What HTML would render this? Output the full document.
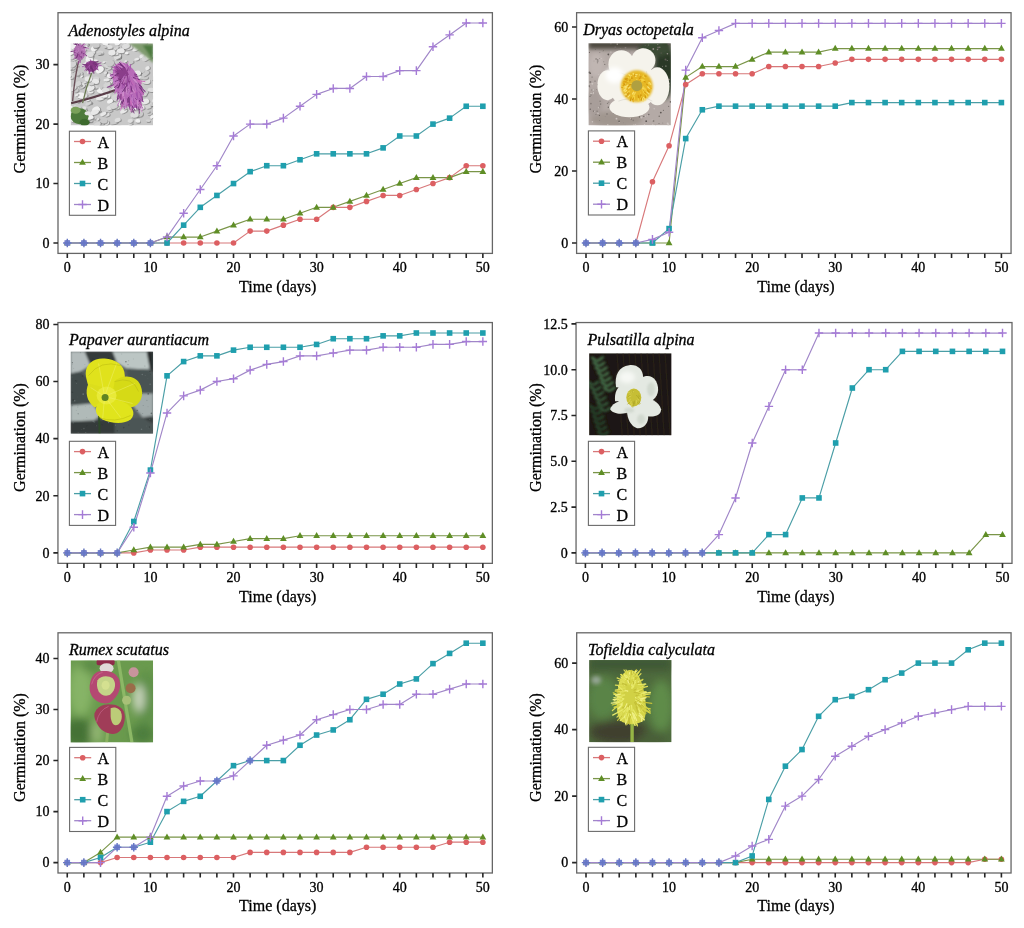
<!DOCTYPE html>
<html><head><meta charset="utf-8"><style>
html,body{margin:0;padding:0;background:#fff;}
body{width:1024px;height:928px;overflow:hidden;font-family:"Liberation Serif",serif;}
svg{display:block;will-change:transform;}
text{stroke:#000;stroke-width:0.3px;}
</style></head><body>
<svg width="1024" height="928" viewBox="0 0 1024 928">
<defs>
<filter id="b1" x="-20%" y="-20%" width="140%" height="140%"><feGaussianBlur stdDeviation="1"/></filter>
<filter id="b2" x="-30%" y="-30%" width="160%" height="160%"><feGaussianBlur stdDeviation="2"/></filter>
<filter id="b4" x="-50%" y="-50%" width="200%" height="200%"><feGaussianBlur stdDeviation="4"/></filter>
<filter id="b05"><feGaussianBlur stdDeviation="0.5"/></filter>
<filter id="soft" x="-5%" y="-5%" width="110%" height="110%"><feGaussianBlur stdDeviation="0.45"/></filter>
<clipPath id="ph"><rect x="0" y="0" width="82.5" height="82.2"/></clipPath>
</defs>
<rect width="1024" height="928" fill="#fff"/>
<g><rect x="58" y="12.7" width="434.4" height="240.7" fill="none" stroke="#666" stroke-width="1.3"/><path d="M67.3 253.4v4.6M83.92 253.4v4.6M100.54 253.4v4.6M117.17 253.4v4.6M133.79 253.4v4.6M150.41 253.4v4.6M167.03 253.4v4.6M183.65 253.4v4.6M200.28 253.4v4.6M216.9 253.4v4.6M233.52 253.4v4.6M250.14 253.4v4.6M266.76 253.4v4.6M283.39 253.4v4.6M300.01 253.4v4.6M316.63 253.4v4.6M333.25 253.4v4.6M349.87 253.4v4.6M366.5 253.4v4.6M383.12 253.4v4.6M399.74 253.4v4.6M416.36 253.4v4.6M432.98 253.4v4.6M449.61 253.4v4.6M466.23 253.4v4.6M482.85 253.4v4.6" stroke="#262626" stroke-width="1.6" fill="none"/><path d="M58 243h-4.6M58 183.55h-4.6M58 124.1h-4.6M58 64.65h-4.6" stroke="#262626" stroke-width="1.6" fill="none"/><g font-family="Liberation Serif" font-size="14" fill="#000"><text x="67.3" y="272.2" text-anchor="middle">0</text><text x="150.41" y="272.2" text-anchor="middle">10</text><text x="233.52" y="272.2" text-anchor="middle">20</text><text x="316.63" y="272.2" text-anchor="middle">30</text><text x="399.74" y="272.2" text-anchor="middle">40</text><text x="482.85" y="272.2" text-anchor="middle">50</text><text x="49.6" y="247.8" text-anchor="end">0</text><text x="49.6" y="188.35" text-anchor="end">10</text><text x="49.6" y="128.9" text-anchor="end">20</text><text x="49.6" y="69.45" text-anchor="end">30</text></g><text x="239.1" y="291.6" font-family="Liberation Serif" font-size="16" fill="#000">Time (days)</text><text transform="translate(25.3 119) rotate(-90)" text-anchor="middle" font-family="Liberation Serif" font-size="16" fill="#000">Germination (%)</text><text x="68.5" y="35.6" font-family="Liberation Serif" font-style="italic" font-size="16" fill="#000">Adenostyles alpina</text><g transform="translate(70.6 43.2)"><g clip-path="url(#ph)"><g filter="url(#soft)"><rect width="82.5" height="82.2" fill="#c8c8c8"/><g filter="url(#b05)"><ellipse cx="37.8" cy="47.4" rx="4.3" ry="2.6" transform="rotate(-14.6 37 46.4)" fill="#6a6a6a" opacity="0.55"/><ellipse cx="37" cy="46.4" rx="4.3" ry="2.6" transform="rotate(-14.6 37 46.4)" fill="#cacaca"/><ellipse cx="14.6" cy="68.9" rx="2.9" ry="1.9" transform="rotate(-30.7 13.8 67.9)" fill="#6a6a6a" opacity="0.55"/><ellipse cx="13.8" cy="67.9" rx="2.9" ry="1.9" transform="rotate(-30.7 13.8 67.9)" fill="#f0f0f0"/><ellipse cx="24.7" cy="6" rx="3.9" ry="2.7" transform="rotate(-37.9 23.9 5)" fill="#6a6a6a" opacity="0.55"/><ellipse cx="23.9" cy="5" rx="3.9" ry="2.7" transform="rotate(-37.9 23.9 5)" fill="#f0f0f0"/><ellipse cx="83.2" cy="55.7" rx="3.3" ry="1.7" transform="rotate(-39.2 82.4 54.7)" fill="#6a6a6a" opacity="0.55"/><ellipse cx="82.4" cy="54.7" rx="3.3" ry="1.7" transform="rotate(-39.2 82.4 54.7)" fill="#cacaca"/><ellipse cx="3.4" cy="1.1" rx="4.1" ry="2.7" transform="rotate(-1.1 2.6 0.1)" fill="#6a6a6a" opacity="0.55"/><ellipse cx="2.6" cy="0.1" rx="4.1" ry="2.7" transform="rotate(-1.1 2.6 0.1)" fill="#d4d4d4"/><ellipse cx="36.8" cy="72.3" rx="3.1" ry="2.1" transform="rotate(-15 36 71.3)" fill="#6a6a6a" opacity="0.55"/><ellipse cx="36" cy="71.3" rx="3.1" ry="2.1" transform="rotate(-15 36 71.3)" fill="#dedede"/><ellipse cx="38.3" cy="22.5" rx="4.5" ry="3.6" transform="rotate(2 37.5 21.5)" fill="#6a6a6a" opacity="0.55"/><ellipse cx="37.5" cy="21.5" rx="4.5" ry="3.6" transform="rotate(2 37.5 21.5)" fill="#d4d4d4"/><ellipse cx="25.7" cy="18.3" rx="2.4" ry="1.1" transform="rotate(-1.7 24.9 17.3)" fill="#6a6a6a" opacity="0.55"/><ellipse cx="24.9" cy="17.3" rx="2.4" ry="1.1" transform="rotate(-1.7 24.9 17.3)" fill="#f0f0f0"/><ellipse cx="7.3" cy="23.7" rx="1.7" ry="0.8" transform="rotate(-5.8 6.5 22.7)" fill="#6a6a6a" opacity="0.55"/><ellipse cx="6.5" cy="22.7" rx="1.7" ry="0.8" transform="rotate(-5.8 6.5 22.7)" fill="#e8e8e8"/><ellipse cx="16.4" cy="78.3" rx="2.9" ry="2.3" transform="rotate(-20.1 15.6 77.3)" fill="#6a6a6a" opacity="0.55"/><ellipse cx="15.6" cy="77.3" rx="2.9" ry="2.3" transform="rotate(-20.1 15.6 77.3)" fill="#dedede"/><ellipse cx="47.9" cy="15.5" rx="3.5" ry="2" transform="rotate(-24.4 47.1 14.5)" fill="#6a6a6a" opacity="0.55"/><ellipse cx="47.1" cy="14.5" rx="3.5" ry="2" transform="rotate(-24.4 47.1 14.5)" fill="#dedede"/><ellipse cx="83.1" cy="64.9" rx="1.9" ry="1" transform="rotate(-34.9 82.3 63.9)" fill="#6a6a6a" opacity="0.55"/><ellipse cx="82.3" cy="63.9" rx="1.9" ry="1" transform="rotate(-34.9 82.3 63.9)" fill="#dedede"/><ellipse cx="38.9" cy="40.9" rx="3.5" ry="1.8" transform="rotate(-14.6 38.1 39.9)" fill="#6a6a6a" opacity="0.55"/><ellipse cx="38.1" cy="39.9" rx="3.5" ry="1.8" transform="rotate(-14.6 38.1 39.9)" fill="#e8e8e8"/><ellipse cx="34.9" cy="31.8" rx="2.7" ry="2.1" transform="rotate(-40 34.1 30.8)" fill="#6a6a6a" opacity="0.55"/><ellipse cx="34.1" cy="30.8" rx="2.7" ry="2.1" transform="rotate(-40 34.1 30.8)" fill="#cacaca"/><ellipse cx="24.7" cy="76" rx="2.1" ry="1.3" transform="rotate(2.7 23.9 75)" fill="#6a6a6a" opacity="0.55"/><ellipse cx="23.9" cy="75" rx="2.1" ry="1.3" transform="rotate(2.7 23.9 75)" fill="#cacaca"/><ellipse cx="6.7" cy="85.3" rx="2.1" ry="1.2" transform="rotate(-1.4 5.9 84.3)" fill="#6a6a6a" opacity="0.55"/><ellipse cx="5.9" cy="84.3" rx="2.1" ry="1.2" transform="rotate(-1.4 5.9 84.3)" fill="#d4d4d4"/><ellipse cx="71.3" cy="32.1" rx="1.7" ry="0.9" transform="rotate(-8.2 70.5 31.1)" fill="#6a6a6a" opacity="0.55"/><ellipse cx="70.5" cy="31.1" rx="1.7" ry="0.9" transform="rotate(-8.2 70.5 31.1)" fill="#dedede"/><ellipse cx="51" cy="30.8" rx="2.9" ry="2.2" transform="rotate(-15.8 50.2 29.8)" fill="#6a6a6a" opacity="0.55"/><ellipse cx="50.2" cy="29.8" rx="2.9" ry="2.2" transform="rotate(-15.8 50.2 29.8)" fill="#cacaca"/><ellipse cx="9.8" cy="32.1" rx="3.4" ry="1.9" transform="rotate(-28.6 9 31.1)" fill="#6a6a6a" opacity="0.55"/><ellipse cx="9" cy="31.1" rx="3.4" ry="1.9" transform="rotate(-28.6 9 31.1)" fill="#cacaca"/><ellipse cx="19.9" cy="14.7" rx="3.7" ry="2.9" transform="rotate(-30.2 19.1 13.7)" fill="#6a6a6a" opacity="0.55"/><ellipse cx="19.1" cy="13.7" rx="3.7" ry="2.9" transform="rotate(-30.2 19.1 13.7)" fill="#f0f0f0"/><ellipse cx="75.9" cy="51.2" rx="2.8" ry="1.3" transform="rotate(-38.1 75.1 50.2)" fill="#6a6a6a" opacity="0.55"/><ellipse cx="75.1" cy="50.2" rx="2.8" ry="1.3" transform="rotate(-38.1 75.1 50.2)" fill="#d4d4d4"/><ellipse cx="18.9" cy="60.1" rx="2.3" ry="1.7" transform="rotate(-10.2 18.1 59.1)" fill="#6a6a6a" opacity="0.55"/><ellipse cx="18.1" cy="59.1" rx="2.3" ry="1.7" transform="rotate(-10.2 18.1 59.1)" fill="#d4d4d4"/><ellipse cx="43.8" cy="80" rx="4.4" ry="2.2" transform="rotate(-16 43 79)" fill="#6a6a6a" opacity="0.55"/><ellipse cx="43" cy="79" rx="4.4" ry="2.2" transform="rotate(-16 43 79)" fill="#cacaca"/><ellipse cx="52.2" cy="22.7" rx="4.3" ry="2.2" transform="rotate(-39.2 51.4 21.7)" fill="#6a6a6a" opacity="0.55"/><ellipse cx="51.4" cy="21.7" rx="4.3" ry="2.2" transform="rotate(-39.2 51.4 21.7)" fill="#d4d4d4"/><ellipse cx="34.2" cy="20" rx="1.6" ry="0.9" transform="rotate(-13.4 33.4 19)" fill="#6a6a6a" opacity="0.55"/><ellipse cx="33.4" cy="19" rx="1.6" ry="0.9" transform="rotate(-13.4 33.4 19)" fill="#e8e8e8"/><ellipse cx="6" cy="10.2" rx="2.9" ry="1.6" transform="rotate(-3.4 5.2 9.2)" fill="#6a6a6a" opacity="0.55"/><ellipse cx="5.2" cy="9.2" rx="2.9" ry="1.6" transform="rotate(-3.4 5.2 9.2)" fill="#cacaca"/><ellipse cx="49.5" cy="10.4" rx="1.6" ry="0.7" transform="rotate(5.5 48.7 9.4)" fill="#6a6a6a" opacity="0.55"/><ellipse cx="48.7" cy="9.4" rx="1.6" ry="0.7" transform="rotate(5.5 48.7 9.4)" fill="#d4d4d4"/><ellipse cx="83" cy="-0.1" rx="3.4" ry="2.1" transform="rotate(-3.5 82.2 -1.1)" fill="#6a6a6a" opacity="0.55"/><ellipse cx="82.2" cy="-1.1" rx="3.4" ry="2.1" transform="rotate(-3.5 82.2 -1.1)" fill="#d4d4d4"/><ellipse cx="9.9" cy="4.4" rx="2.9" ry="1.7" transform="rotate(-37.8 9.1 3.4)" fill="#6a6a6a" opacity="0.55"/><ellipse cx="9.1" cy="3.4" rx="2.9" ry="1.7" transform="rotate(-37.8 9.1 3.4)" fill="#e8e8e8"/><ellipse cx="68" cy="78.7" rx="2.6" ry="1.8" transform="rotate(5 67.2 77.7)" fill="#6a6a6a" opacity="0.55"/><ellipse cx="67.2" cy="77.7" rx="2.6" ry="1.8" transform="rotate(5 67.2 77.7)" fill="#f0f0f0"/><ellipse cx="81.4" cy="0.7" rx="3" ry="1.4" transform="rotate(-6.9 80.6 -0.3)" fill="#6a6a6a" opacity="0.55"/><ellipse cx="80.6" cy="-0.3" rx="3" ry="1.4" transform="rotate(-6.9 80.6 -0.3)" fill="#f0f0f0"/><ellipse cx="49.4" cy="51.7" rx="1.7" ry="1.2" transform="rotate(9.7 48.6 50.7)" fill="#6a6a6a" opacity="0.55"/><ellipse cx="48.6" cy="50.7" rx="1.7" ry="1.2" transform="rotate(9.7 48.6 50.7)" fill="#f0f0f0"/><ellipse cx="62.2" cy="32.3" rx="3.7" ry="2.4" transform="rotate(-18 61.4 31.3)" fill="#6a6a6a" opacity="0.55"/><ellipse cx="61.4" cy="31.3" rx="3.7" ry="2.4" transform="rotate(-18 61.4 31.3)" fill="#cacaca"/><ellipse cx="5.2" cy="64.2" rx="1.6" ry="1" transform="rotate(-16 4.4 63.2)" fill="#6a6a6a" opacity="0.55"/><ellipse cx="4.4" cy="63.2" rx="1.6" ry="1" transform="rotate(-16 4.4 63.2)" fill="#e8e8e8"/><ellipse cx="82.5" cy="8" rx="3.8" ry="2.6" transform="rotate(-15.7 81.7 7)" fill="#6a6a6a" opacity="0.55"/><ellipse cx="81.7" cy="7" rx="3.8" ry="2.6" transform="rotate(-15.7 81.7 7)" fill="#dedede"/><ellipse cx="30.4" cy="10.6" rx="3.3" ry="2.1" transform="rotate(-2.3 29.6 9.6)" fill="#6a6a6a" opacity="0.55"/><ellipse cx="29.6" cy="9.6" rx="3.3" ry="2.1" transform="rotate(-2.3 29.6 9.6)" fill="#d4d4d4"/><ellipse cx="56.2" cy="37" rx="4.2" ry="2.4" transform="rotate(-6.7 55.4 36)" fill="#6a6a6a" opacity="0.55"/><ellipse cx="55.4" cy="36" rx="4.2" ry="2.4" transform="rotate(-6.7 55.4 36)" fill="#e8e8e8"/><ellipse cx="53.9" cy="68.9" rx="3.8" ry="2" transform="rotate(-29.3 53.1 67.9)" fill="#6a6a6a" opacity="0.55"/><ellipse cx="53.1" cy="67.9" rx="3.8" ry="2" transform="rotate(-29.3 53.1 67.9)" fill="#e8e8e8"/><ellipse cx="49.4" cy="25.9" rx="1.9" ry="1.2" transform="rotate(1.9 48.6 24.9)" fill="#6a6a6a" opacity="0.55"/><ellipse cx="48.6" cy="24.9" rx="1.9" ry="1.2" transform="rotate(1.9 48.6 24.9)" fill="#dedede"/><ellipse cx="60.7" cy="81.8" rx="2.3" ry="1.2" transform="rotate(-17.5 59.9 80.8)" fill="#6a6a6a" opacity="0.55"/><ellipse cx="59.9" cy="80.8" rx="2.3" ry="1.2" transform="rotate(-17.5 59.9 80.8)" fill="#d4d4d4"/><ellipse cx="79.7" cy="71.3" rx="2.6" ry="1.7" transform="rotate(-6.4 78.9 70.3)" fill="#6a6a6a" opacity="0.55"/><ellipse cx="78.9" cy="70.3" rx="2.6" ry="1.7" transform="rotate(-6.4 78.9 70.3)" fill="#cacaca"/><ellipse cx="37.8" cy="4.6" rx="1.6" ry="1.2" transform="rotate(-37.9 37 3.6)" fill="#6a6a6a" opacity="0.55"/><ellipse cx="37" cy="3.6" rx="1.6" ry="1.2" transform="rotate(-37.9 37 3.6)" fill="#d4d4d4"/><ellipse cx="48.3" cy="25.3" rx="3.9" ry="1.8" transform="rotate(-33.2 47.5 24.3)" fill="#6a6a6a" opacity="0.55"/><ellipse cx="47.5" cy="24.3" rx="3.9" ry="1.8" transform="rotate(-33.2 47.5 24.3)" fill="#f0f0f0"/><ellipse cx="14.6" cy="65.8" rx="2.3" ry="1.7" transform="rotate(-0.2 13.8 64.8)" fill="#6a6a6a" opacity="0.55"/><ellipse cx="13.8" cy="64.8" rx="2.3" ry="1.7" transform="rotate(-0.2 13.8 64.8)" fill="#dedede"/><ellipse cx="37.3" cy="53.6" rx="3.5" ry="2.5" transform="rotate(7.9 36.5 52.6)" fill="#6a6a6a" opacity="0.55"/><ellipse cx="36.5" cy="52.6" rx="3.5" ry="2.5" transform="rotate(7.9 36.5 52.6)" fill="#e8e8e8"/><ellipse cx="15.4" cy="39.9" rx="2" ry="0.9" transform="rotate(-16.4 14.6 38.9)" fill="#6a6a6a" opacity="0.55"/><ellipse cx="14.6" cy="38.9" rx="2" ry="0.9" transform="rotate(-16.4 14.6 38.9)" fill="#dedede"/><ellipse cx="13.7" cy="22" rx="2.5" ry="1.8" transform="rotate(-14 12.9 21)" fill="#6a6a6a" opacity="0.55"/><ellipse cx="12.9" cy="21" rx="2.5" ry="1.8" transform="rotate(-14 12.9 21)" fill="#cacaca"/><ellipse cx="86" cy="12" rx="4" ry="2.8" transform="rotate(-28.8 85.2 11)" fill="#6a6a6a" opacity="0.55"/><ellipse cx="85.2" cy="11" rx="4" ry="2.8" transform="rotate(-28.8 85.2 11)" fill="#f0f0f0"/><ellipse cx="80.3" cy="61.7" rx="1.9" ry="1.2" transform="rotate(-8.7 79.5 60.7)" fill="#6a6a6a" opacity="0.55"/><ellipse cx="79.5" cy="60.7" rx="1.9" ry="1.2" transform="rotate(-8.7 79.5 60.7)" fill="#dedede"/><ellipse cx="31.1" cy="48.2" rx="4.1" ry="3" transform="rotate(7.2 30.3 47.2)" fill="#6a6a6a" opacity="0.55"/><ellipse cx="30.3" cy="47.2" rx="4.1" ry="3" transform="rotate(7.2 30.3 47.2)" fill="#f0f0f0"/><ellipse cx="26.7" cy="84.6" rx="1.8" ry="1.4" transform="rotate(-0.1 25.9 83.6)" fill="#6a6a6a" opacity="0.55"/><ellipse cx="25.9" cy="83.6" rx="1.8" ry="1.4" transform="rotate(-0.1 25.9 83.6)" fill="#dedede"/><ellipse cx="16.7" cy="77.4" rx="4.4" ry="3.5" transform="rotate(-13.2 15.9 76.4)" fill="#6a6a6a" opacity="0.55"/><ellipse cx="15.9" cy="76.4" rx="4.4" ry="3.5" transform="rotate(-13.2 15.9 76.4)" fill="#d4d4d4"/><ellipse cx="21" cy="61.4" rx="1.5" ry="1" transform="rotate(-38.1 20.2 60.4)" fill="#6a6a6a" opacity="0.55"/><ellipse cx="20.2" cy="60.4" rx="1.5" ry="1" transform="rotate(-38.1 20.2 60.4)" fill="#d4d4d4"/><ellipse cx="46.5" cy="65.8" rx="3" ry="1.4" transform="rotate(0.5 45.7 64.8)" fill="#6a6a6a" opacity="0.55"/><ellipse cx="45.7" cy="64.8" rx="3" ry="1.4" transform="rotate(0.5 45.7 64.8)" fill="#dedede"/><ellipse cx="35.8" cy="1.1" rx="3.1" ry="2.1" transform="rotate(5.8 35 0.1)" fill="#6a6a6a" opacity="0.55"/><ellipse cx="35" cy="0.1" rx="3.1" ry="2.1" transform="rotate(5.8 35 0.1)" fill="#f0f0f0"/><ellipse cx="11" cy="43.6" rx="3.7" ry="2.7" transform="rotate(-5.5 10.2 42.6)" fill="#6a6a6a" opacity="0.55"/><ellipse cx="10.2" cy="42.6" rx="3.7" ry="2.7" transform="rotate(-5.5 10.2 42.6)" fill="#f0f0f0"/><ellipse cx="49" cy="58.8" rx="3.8" ry="2.3" transform="rotate(-12.1 48.2 57.8)" fill="#6a6a6a" opacity="0.55"/><ellipse cx="48.2" cy="57.8" rx="3.8" ry="2.3" transform="rotate(-12.1 48.2 57.8)" fill="#cacaca"/><ellipse cx="54.3" cy="44.1" rx="4" ry="2.6" transform="rotate(-24.4 53.5 43.1)" fill="#6a6a6a" opacity="0.55"/><ellipse cx="53.5" cy="43.1" rx="4" ry="2.6" transform="rotate(-24.4 53.5 43.1)" fill="#f0f0f0"/><ellipse cx="82.3" cy="74.7" rx="3.3" ry="1.9" transform="rotate(-32.9 81.5 73.7)" fill="#6a6a6a" opacity="0.55"/><ellipse cx="81.5" cy="73.7" rx="3.3" ry="1.9" transform="rotate(-32.9 81.5 73.7)" fill="#cacaca"/><ellipse cx="44.2" cy="48.5" rx="2.1" ry="1.3" transform="rotate(-14.8 43.4 47.5)" fill="#6a6a6a" opacity="0.55"/><ellipse cx="43.4" cy="47.5" rx="2.1" ry="1.3" transform="rotate(-14.8 43.4 47.5)" fill="#cacaca"/><ellipse cx="31.2" cy="45.5" rx="1.6" ry="1.3" transform="rotate(-12.8 30.4 44.5)" fill="#6a6a6a" opacity="0.55"/><ellipse cx="30.4" cy="44.5" rx="1.6" ry="1.3" transform="rotate(-12.8 30.4 44.5)" fill="#cacaca"/><ellipse cx="8.6" cy="6.2" rx="2" ry="1.6" transform="rotate(-17.1 7.8 5.2)" fill="#6a6a6a" opacity="0.55"/><ellipse cx="7.8" cy="5.2" rx="2" ry="1.6" transform="rotate(-17.1 7.8 5.2)" fill="#f0f0f0"/><ellipse cx="21.6" cy="39.7" rx="1.9" ry="1.1" transform="rotate(0.8 20.8 38.7)" fill="#6a6a6a" opacity="0.55"/><ellipse cx="20.8" cy="38.7" rx="1.9" ry="1.1" transform="rotate(0.8 20.8 38.7)" fill="#f0f0f0"/><ellipse cx="44.3" cy="7.6" rx="2.8" ry="1.3" transform="rotate(-27 43.5 6.6)" fill="#6a6a6a" opacity="0.55"/><ellipse cx="43.5" cy="6.6" rx="2.8" ry="1.3" transform="rotate(-27 43.5 6.6)" fill="#dedede"/><ellipse cx="1" cy="11.7" rx="1.5" ry="0.8" transform="rotate(-3.8 0.2 10.7)" fill="#6a6a6a" opacity="0.55"/><ellipse cx="0.2" cy="10.7" rx="1.5" ry="0.8" transform="rotate(-3.8 0.2 10.7)" fill="#e8e8e8"/><ellipse cx="52.6" cy="7.3" rx="3.7" ry="1.8" transform="rotate(-14.5 51.8 6.3)" fill="#6a6a6a" opacity="0.55"/><ellipse cx="51.8" cy="6.3" rx="3.7" ry="1.8" transform="rotate(-14.5 51.8 6.3)" fill="#d4d4d4"/><ellipse cx="61.3" cy="59.9" rx="4.1" ry="1.9" transform="rotate(-8.3 60.5 58.9)" fill="#6a6a6a" opacity="0.55"/><ellipse cx="60.5" cy="58.9" rx="4.1" ry="1.9" transform="rotate(-8.3 60.5 58.9)" fill="#cacaca"/><ellipse cx="52.3" cy="45.5" rx="4.1" ry="2.6" transform="rotate(-29.1 51.5 44.5)" fill="#6a6a6a" opacity="0.55"/><ellipse cx="51.5" cy="44.5" rx="4.1" ry="2.6" transform="rotate(-29.1 51.5 44.5)" fill="#e8e8e8"/><ellipse cx="73.1" cy="52" rx="4.1" ry="2.2" transform="rotate(-3 72.3 51)" fill="#6a6a6a" opacity="0.55"/><ellipse cx="72.3" cy="51" rx="4.1" ry="2.2" transform="rotate(-3 72.3 51)" fill="#d4d4d4"/><ellipse cx="77.7" cy="25.9" rx="2.4" ry="1.9" transform="rotate(-29.1 76.9 24.9)" fill="#6a6a6a" opacity="0.55"/><ellipse cx="76.9" cy="24.9" rx="2.4" ry="1.9" transform="rotate(-29.1 76.9 24.9)" fill="#e8e8e8"/><ellipse cx="76.3" cy="9.8" rx="2.2" ry="1.6" transform="rotate(-27 75.5 8.8)" fill="#6a6a6a" opacity="0.55"/><ellipse cx="75.5" cy="8.8" rx="2.2" ry="1.6" transform="rotate(-27 75.5 8.8)" fill="#dedede"/><ellipse cx="36.3" cy="81" rx="3.1" ry="2.2" transform="rotate(-30 35.5 80)" fill="#6a6a6a" opacity="0.55"/><ellipse cx="35.5" cy="80" rx="3.1" ry="2.2" transform="rotate(-30 35.5 80)" fill="#dedede"/><ellipse cx="6.3" cy="48.3" rx="2.6" ry="1.9" transform="rotate(-21.9 5.5 47.3)" fill="#6a6a6a" opacity="0.55"/><ellipse cx="5.5" cy="47.3" rx="2.6" ry="1.9" transform="rotate(-21.9 5.5 47.3)" fill="#cacaca"/><ellipse cx="54" cy="28.3" rx="4.5" ry="3.3" transform="rotate(0.1 53.2 27.3)" fill="#6a6a6a" opacity="0.55"/><ellipse cx="53.2" cy="27.3" rx="4.5" ry="3.3" transform="rotate(0.1 53.2 27.3)" fill="#f0f0f0"/><ellipse cx="7.2" cy="1.3" rx="3.2" ry="2" transform="rotate(-11.6 6.4 0.3)" fill="#6a6a6a" opacity="0.55"/><ellipse cx="6.4" cy="0.3" rx="3.2" ry="2" transform="rotate(-11.6 6.4 0.3)" fill="#e8e8e8"/><ellipse cx="14.6" cy="8.1" rx="2" ry="1" transform="rotate(-25.8 13.8 7.1)" fill="#6a6a6a" opacity="0.55"/><ellipse cx="13.8" cy="7.1" rx="2" ry="1" transform="rotate(-25.8 13.8 7.1)" fill="#dedede"/><ellipse cx="49.1" cy="9.9" rx="3.5" ry="1.7" transform="rotate(-35.2 48.3 8.9)" fill="#6a6a6a" opacity="0.55"/><ellipse cx="48.3" cy="8.9" rx="3.5" ry="1.7" transform="rotate(-35.2 48.3 8.9)" fill="#f0f0f0"/><ellipse cx="39.1" cy="43.4" rx="2.8" ry="1.8" transform="rotate(-39.3 38.3 42.4)" fill="#6a6a6a" opacity="0.55"/><ellipse cx="38.3" cy="42.4" rx="2.8" ry="1.8" transform="rotate(-39.3 38.3 42.4)" fill="#dedede"/><ellipse cx="72.5" cy="14" rx="2.9" ry="2" transform="rotate(-19.7 71.7 13)" fill="#6a6a6a" opacity="0.55"/><ellipse cx="71.7" cy="13" rx="2.9" ry="2" transform="rotate(-19.7 71.7 13)" fill="#e8e8e8"/><ellipse cx="51.3" cy="6.4" rx="3.9" ry="2.2" transform="rotate(-35.8 50.5 5.4)" fill="#6a6a6a" opacity="0.55"/><ellipse cx="50.5" cy="5.4" rx="3.9" ry="2.2" transform="rotate(-35.8 50.5 5.4)" fill="#f0f0f0"/><ellipse cx="48.2" cy="14.8" rx="3.3" ry="1.9" transform="rotate(-1.9 47.4 13.8)" fill="#6a6a6a" opacity="0.55"/><ellipse cx="47.4" cy="13.8" rx="3.3" ry="1.9" transform="rotate(-1.9 47.4 13.8)" fill="#d4d4d4"/><ellipse cx="78.4" cy="63.7" rx="3.8" ry="2.8" transform="rotate(-19.7 77.6 62.7)" fill="#6a6a6a" opacity="0.55"/><ellipse cx="77.6" cy="62.7" rx="3.8" ry="2.8" transform="rotate(-19.7 77.6 62.7)" fill="#d4d4d4"/><ellipse cx="75.7" cy="59.3" rx="3.8" ry="2.7" transform="rotate(-19.7 74.9 58.3)" fill="#6a6a6a" opacity="0.55"/><ellipse cx="74.9" cy="58.3" rx="3.8" ry="2.7" transform="rotate(-19.7 74.9 58.3)" fill="#e8e8e8"/><ellipse cx="4" cy="28.1" rx="2.9" ry="1.3" transform="rotate(-22.2 3.2 27.1)" fill="#6a6a6a" opacity="0.55"/><ellipse cx="3.2" cy="27.1" rx="2.9" ry="1.3" transform="rotate(-22.2 3.2 27.1)" fill="#cacaca"/><ellipse cx="2.2" cy="22.1" rx="4.4" ry="2.4" transform="rotate(-29.2 1.4 21.1)" fill="#6a6a6a" opacity="0.55"/><ellipse cx="1.4" cy="21.1" rx="4.4" ry="2.4" transform="rotate(-29.2 1.4 21.1)" fill="#f0f0f0"/><ellipse cx="48.2" cy="45" rx="2.7" ry="2.1" transform="rotate(-7.9 47.4 44)" fill="#6a6a6a" opacity="0.55"/><ellipse cx="47.4" cy="44" rx="2.7" ry="2.1" transform="rotate(-7.9 47.4 44)" fill="#dedede"/><ellipse cx="65.2" cy="84.4" rx="1.6" ry="1" transform="rotate(-3.1 64.4 83.4)" fill="#6a6a6a" opacity="0.55"/><ellipse cx="64.4" cy="83.4" rx="1.6" ry="1" transform="rotate(-3.1 64.4 83.4)" fill="#d4d4d4"/><ellipse cx="37.1" cy="42.5" rx="3.8" ry="2.6" transform="rotate(-39.5 36.3 41.5)" fill="#6a6a6a" opacity="0.55"/><ellipse cx="36.3" cy="41.5" rx="3.8" ry="2.6" transform="rotate(-39.5 36.3 41.5)" fill="#d4d4d4"/><ellipse cx="20" cy="77.9" rx="3.2" ry="2" transform="rotate(8.4 19.2 76.9)" fill="#6a6a6a" opacity="0.55"/><ellipse cx="19.2" cy="76.9" rx="3.2" ry="2" transform="rotate(8.4 19.2 76.9)" fill="#cacaca"/><ellipse cx="72.7" cy="6.8" rx="2.8" ry="1.9" transform="rotate(-12.5 71.9 5.8)" fill="#6a6a6a" opacity="0.55"/><ellipse cx="71.9" cy="5.8" rx="2.8" ry="1.9" transform="rotate(-12.5 71.9 5.8)" fill="#dedede"/><ellipse cx="32" cy="80.8" rx="2.7" ry="2.1" transform="rotate(2.8 31.2 79.8)" fill="#6a6a6a" opacity="0.55"/><ellipse cx="31.2" cy="79.8" rx="2.7" ry="2.1" transform="rotate(2.8 31.2 79.8)" fill="#cacaca"/><ellipse cx="51.9" cy="3.2" rx="4.3" ry="2.6" transform="rotate(-13.7 51.1 2.2)" fill="#6a6a6a" opacity="0.55"/><ellipse cx="51.1" cy="2.2" rx="4.3" ry="2.6" transform="rotate(-13.7 51.1 2.2)" fill="#cacaca"/><ellipse cx="25.4" cy="44.8" rx="2.9" ry="1.6" transform="rotate(6.5 24.6 43.8)" fill="#6a6a6a" opacity="0.55"/><ellipse cx="24.6" cy="43.8" rx="2.9" ry="1.6" transform="rotate(6.5 24.6 43.8)" fill="#d4d4d4"/><ellipse cx="0.2" cy="66.1" rx="3.3" ry="2.2" transform="rotate(-19.6 -0.6 65.1)" fill="#6a6a6a" opacity="0.55"/><ellipse cx="-0.6" cy="65.1" rx="3.3" ry="2.2" transform="rotate(-19.6 -0.6 65.1)" fill="#f0f0f0"/><ellipse cx="2.5" cy="25.8" rx="2.7" ry="1.8" transform="rotate(-3.8 1.7 24.8)" fill="#6a6a6a" opacity="0.55"/><ellipse cx="1.7" cy="24.8" rx="2.7" ry="1.8" transform="rotate(-3.8 1.7 24.8)" fill="#d4d4d4"/><ellipse cx="4.3" cy="77.9" rx="2.8" ry="1.7" transform="rotate(8.7 3.5 76.9)" fill="#6a6a6a" opacity="0.55"/><ellipse cx="3.5" cy="76.9" rx="2.8" ry="1.7" transform="rotate(8.7 3.5 76.9)" fill="#e8e8e8"/><ellipse cx="1.8" cy="6.7" rx="3.9" ry="3" transform="rotate(-32.8 1 5.7)" fill="#6a6a6a" opacity="0.55"/><ellipse cx="1" cy="5.7" rx="3.9" ry="3" transform="rotate(-32.8 1 5.7)" fill="#e8e8e8"/><ellipse cx="51.2" cy="8.2" rx="3.4" ry="2.1" transform="rotate(-29.8 50.4 7.2)" fill="#6a6a6a" opacity="0.55"/><ellipse cx="50.4" cy="7.2" rx="3.4" ry="2.1" transform="rotate(-29.8 50.4 7.2)" fill="#dedede"/><ellipse cx="29.4" cy="11.6" rx="2.6" ry="1.3" transform="rotate(-19.2 28.6 10.6)" fill="#6a6a6a" opacity="0.55"/><ellipse cx="28.6" cy="10.6" rx="2.6" ry="1.3" transform="rotate(-19.2 28.6 10.6)" fill="#cacaca"/><ellipse cx="21" cy="49.4" rx="2.8" ry="2" transform="rotate(-13.5 20.2 48.4)" fill="#6a6a6a" opacity="0.55"/><ellipse cx="20.2" cy="48.4" rx="2.8" ry="2" transform="rotate(-13.5 20.2 48.4)" fill="#e8e8e8"/><ellipse cx="82.1" cy="62.8" rx="2.2" ry="1.1" transform="rotate(4.6 81.3 61.8)" fill="#6a6a6a" opacity="0.55"/><ellipse cx="81.3" cy="61.8" rx="2.2" ry="1.1" transform="rotate(4.6 81.3 61.8)" fill="#cacaca"/><ellipse cx="53.1" cy="29.7" rx="2.3" ry="1.6" transform="rotate(-11.8 52.3 28.7)" fill="#6a6a6a" opacity="0.55"/><ellipse cx="52.3" cy="28.7" rx="2.3" ry="1.6" transform="rotate(-11.8 52.3 28.7)" fill="#cacaca"/><ellipse cx="14.6" cy="22.6" rx="2.2" ry="1.7" transform="rotate(-14.9 13.8 21.6)" fill="#6a6a6a" opacity="0.55"/><ellipse cx="13.8" cy="21.6" rx="2.2" ry="1.7" transform="rotate(-14.9 13.8 21.6)" fill="#e8e8e8"/><ellipse cx="75.6" cy="1.5" rx="1.7" ry="0.9" transform="rotate(-18.7 74.8 0.5)" fill="#6a6a6a" opacity="0.55"/><ellipse cx="74.8" cy="0.5" rx="1.7" ry="0.9" transform="rotate(-18.7 74.8 0.5)" fill="#cacaca"/><ellipse cx="1.2" cy="17.6" rx="2.3" ry="1.7" transform="rotate(5.6 0.4 16.6)" fill="#6a6a6a" opacity="0.55"/><ellipse cx="0.4" cy="16.6" rx="2.3" ry="1.7" transform="rotate(5.6 0.4 16.6)" fill="#e8e8e8"/><ellipse cx="46.5" cy="53.7" rx="2.6" ry="1.6" transform="rotate(-29.5 45.7 52.7)" fill="#6a6a6a" opacity="0.55"/><ellipse cx="45.7" cy="52.7" rx="2.6" ry="1.6" transform="rotate(-29.5 45.7 52.7)" fill="#d4d4d4"/><ellipse cx="41.6" cy="9.8" rx="4.1" ry="3" transform="rotate(-17.6 40.8 8.8)" fill="#6a6a6a" opacity="0.55"/><ellipse cx="40.8" cy="8.8" rx="4.1" ry="3" transform="rotate(-17.6 40.8 8.8)" fill="#cacaca"/><ellipse cx="72" cy="65.8" rx="2.8" ry="2" transform="rotate(-20.5 71.2 64.8)" fill="#6a6a6a" opacity="0.55"/><ellipse cx="71.2" cy="64.8" rx="2.8" ry="2" transform="rotate(-20.5 71.2 64.8)" fill="#e8e8e8"/><ellipse cx="30.5" cy="55.7" rx="4.5" ry="2.5" transform="rotate(-12.6 29.7 54.7)" fill="#6a6a6a" opacity="0.55"/><ellipse cx="29.7" cy="54.7" rx="4.5" ry="2.5" transform="rotate(-12.6 29.7 54.7)" fill="#e8e8e8"/><ellipse cx="35.6" cy="30.6" rx="1.8" ry="1.4" transform="rotate(-36.1 34.8 29.6)" fill="#6a6a6a" opacity="0.55"/><ellipse cx="34.8" cy="29.6" rx="1.8" ry="1.4" transform="rotate(-36.1 34.8 29.6)" fill="#dedede"/><ellipse cx="36" cy="48.1" rx="3.9" ry="2.4" transform="rotate(1.2 35.2 47.1)" fill="#6a6a6a" opacity="0.55"/><ellipse cx="35.2" cy="47.1" rx="3.9" ry="2.4" transform="rotate(1.2 35.2 47.1)" fill="#dedede"/><ellipse cx="4.5" cy="16.8" rx="3.5" ry="1.7" transform="rotate(-24.8 3.7 15.8)" fill="#6a6a6a" opacity="0.55"/><ellipse cx="3.7" cy="15.8" rx="3.5" ry="1.7" transform="rotate(-24.8 3.7 15.8)" fill="#d4d4d4"/><ellipse cx="22.8" cy="10.6" rx="2.6" ry="1.8" transform="rotate(-21.7 22 9.6)" fill="#6a6a6a" opacity="0.55"/><ellipse cx="22" cy="9.6" rx="2.6" ry="1.8" transform="rotate(-21.7 22 9.6)" fill="#dedede"/><ellipse cx="26.3" cy="36.9" rx="3.3" ry="2.5" transform="rotate(-5.6 25.5 35.9)" fill="#6a6a6a" opacity="0.55"/><ellipse cx="25.5" cy="35.9" rx="3.3" ry="2.5" transform="rotate(-5.6 25.5 35.9)" fill="#d4d4d4"/><ellipse cx="36.6" cy="68.8" rx="2.4" ry="1.4" transform="rotate(-20 35.8 67.8)" fill="#6a6a6a" opacity="0.55"/><ellipse cx="35.8" cy="67.8" rx="2.4" ry="1.4" transform="rotate(-20 35.8 67.8)" fill="#cacaca"/><ellipse cx="19.8" cy="29.9" rx="2.6" ry="1.5" transform="rotate(-20.2 19 28.9)" fill="#6a6a6a" opacity="0.55"/><ellipse cx="19" cy="28.9" rx="2.6" ry="1.5" transform="rotate(-20.2 19 28.9)" fill="#f0f0f0"/><ellipse cx="68.3" cy="63.2" rx="2.6" ry="1.5" transform="rotate(-32.3 67.5 62.2)" fill="#6a6a6a" opacity="0.55"/><ellipse cx="67.5" cy="62.2" rx="2.6" ry="1.5" transform="rotate(-32.3 67.5 62.2)" fill="#cacaca"/><ellipse cx="47.6" cy="13.6" rx="3.8" ry="2.9" transform="rotate(-25.9 46.8 12.6)" fill="#6a6a6a" opacity="0.55"/><ellipse cx="46.8" cy="12.6" rx="3.8" ry="2.9" transform="rotate(-25.9 46.8 12.6)" fill="#dedede"/><ellipse cx="17.4" cy="3.1" rx="2" ry="1.1" transform="rotate(-38.9 16.6 2.1)" fill="#6a6a6a" opacity="0.55"/><ellipse cx="16.6" cy="2.1" rx="2" ry="1.1" transform="rotate(-38.9 16.6 2.1)" fill="#f0f0f0"/><ellipse cx="3.5" cy="46.2" rx="3.9" ry="1.9" transform="rotate(-35.9 2.7 45.2)" fill="#6a6a6a" opacity="0.55"/><ellipse cx="2.7" cy="45.2" rx="3.9" ry="1.9" transform="rotate(-35.9 2.7 45.2)" fill="#dedede"/><ellipse cx="77.4" cy="5.5" rx="3.4" ry="1.7" transform="rotate(-2.7 76.6 4.5)" fill="#6a6a6a" opacity="0.55"/><ellipse cx="76.6" cy="4.5" rx="3.4" ry="1.7" transform="rotate(-2.7 76.6 4.5)" fill="#f0f0f0"/><ellipse cx="19.5" cy="17.4" rx="3.8" ry="2.4" transform="rotate(-1.8 18.7 16.4)" fill="#6a6a6a" opacity="0.55"/><ellipse cx="18.7" cy="16.4" rx="3.8" ry="2.4" transform="rotate(-1.8 18.7 16.4)" fill="#f0f0f0"/><ellipse cx="28.8" cy="69.2" rx="2.5" ry="1.2" transform="rotate(-15.6 28 68.2)" fill="#6a6a6a" opacity="0.55"/><ellipse cx="28" cy="68.2" rx="2.5" ry="1.2" transform="rotate(-15.6 28 68.2)" fill="#dedede"/><ellipse cx="60.5" cy="78.7" rx="2.7" ry="2" transform="rotate(-6.7 59.7 77.7)" fill="#6a6a6a" opacity="0.55"/><ellipse cx="59.7" cy="77.7" rx="2.7" ry="2" transform="rotate(-6.7 59.7 77.7)" fill="#dedede"/><ellipse cx="69.1" cy="71.5" rx="4.2" ry="3.3" transform="rotate(-8 68.3 70.5)" fill="#6a6a6a" opacity="0.55"/><ellipse cx="68.3" cy="70.5" rx="4.2" ry="3.3" transform="rotate(-8 68.3 70.5)" fill="#cacaca"/><ellipse cx="29.8" cy="-1.1" rx="1.8" ry="1.4" transform="rotate(5.8 29 -2.1)" fill="#6a6a6a" opacity="0.55"/><ellipse cx="29" cy="-2.1" rx="1.8" ry="1.4" transform="rotate(5.8 29 -2.1)" fill="#e8e8e8"/><ellipse cx="63.4" cy="85.4" rx="2.6" ry="1.3" transform="rotate(-29.8 62.6 84.4)" fill="#6a6a6a" opacity="0.55"/><ellipse cx="62.6" cy="84.4" rx="2.6" ry="1.3" transform="rotate(-29.8 62.6 84.4)" fill="#f0f0f0"/><ellipse cx="44.6" cy="22.2" rx="4.2" ry="2.6" transform="rotate(-3.5 43.8 21.2)" fill="#6a6a6a" opacity="0.55"/><ellipse cx="43.8" cy="21.2" rx="4.2" ry="2.6" transform="rotate(-3.5 43.8 21.2)" fill="#d4d4d4"/><ellipse cx="55.1" cy="66.4" rx="2" ry="1" transform="rotate(-17.1 54.3 65.4)" fill="#6a6a6a" opacity="0.55"/><ellipse cx="54.3" cy="65.4" rx="2" ry="1" transform="rotate(-17.1 54.3 65.4)" fill="#cacaca"/><ellipse cx="40.4" cy="68.6" rx="2.4" ry="1.3" transform="rotate(-22 39.6 67.6)" fill="#6a6a6a" opacity="0.55"/><ellipse cx="39.6" cy="67.6" rx="2.4" ry="1.3" transform="rotate(-22 39.6 67.6)" fill="#cacaca"/><ellipse cx="18.6" cy="61.3" rx="3.3" ry="1.7" transform="rotate(-30.8 17.8 60.3)" fill="#6a6a6a" opacity="0.55"/><ellipse cx="17.8" cy="60.3" rx="3.3" ry="1.7" transform="rotate(-30.8 17.8 60.3)" fill="#d4d4d4"/><ellipse cx="33.4" cy="78.3" rx="4.3" ry="2.9" transform="rotate(7.1 32.6 77.3)" fill="#6a6a6a" opacity="0.55"/><ellipse cx="32.6" cy="77.3" rx="4.3" ry="2.9" transform="rotate(7.1 32.6 77.3)" fill="#cacaca"/><ellipse cx="40.2" cy="21" rx="4.2" ry="3.2" transform="rotate(-22.9 39.4 20)" fill="#6a6a6a" opacity="0.55"/><ellipse cx="39.4" cy="20" rx="4.2" ry="3.2" transform="rotate(-22.9 39.4 20)" fill="#cacaca"/><ellipse cx="66.1" cy="6.2" rx="4.1" ry="2.4" transform="rotate(-29.1 65.3 5.2)" fill="#6a6a6a" opacity="0.55"/><ellipse cx="65.3" cy="5.2" rx="4.1" ry="2.4" transform="rotate(-29.1 65.3 5.2)" fill="#e8e8e8"/><ellipse cx="68.7" cy="32" rx="3.1" ry="1.9" transform="rotate(-26.3 67.9 31)" fill="#6a6a6a" opacity="0.55"/><ellipse cx="67.9" cy="31" rx="3.1" ry="1.9" transform="rotate(-26.3 67.9 31)" fill="#dedede"/><ellipse cx="56" cy="19" rx="1.5" ry="0.9" transform="rotate(-21.4 55.2 18)" fill="#6a6a6a" opacity="0.55"/><ellipse cx="55.2" cy="18" rx="1.5" ry="0.9" transform="rotate(-21.4 55.2 18)" fill="#e8e8e8"/><ellipse cx="60.9" cy="51.5" rx="2" ry="1" transform="rotate(-23.9 60.1 50.5)" fill="#6a6a6a" opacity="0.55"/><ellipse cx="60.1" cy="50.5" rx="2" ry="1" transform="rotate(-23.9 60.1 50.5)" fill="#d4d4d4"/><ellipse cx="78.2" cy="69.4" rx="1.9" ry="1.3" transform="rotate(-9 77.4 68.4)" fill="#6a6a6a" opacity="0.55"/><ellipse cx="77.4" cy="68.4" rx="1.9" ry="1.3" transform="rotate(-9 77.4 68.4)" fill="#cacaca"/><ellipse cx="45.1" cy="11.3" rx="3.8" ry="1.7" transform="rotate(1.1 44.3 10.3)" fill="#6a6a6a" opacity="0.55"/><ellipse cx="44.3" cy="10.3" rx="3.8" ry="1.7" transform="rotate(1.1 44.3 10.3)" fill="#e8e8e8"/><ellipse cx="70.6" cy="5.3" rx="2.3" ry="1.6" transform="rotate(-35.1 69.8 4.3)" fill="#6a6a6a" opacity="0.55"/><ellipse cx="69.8" cy="4.3" rx="2.3" ry="1.6" transform="rotate(-35.1 69.8 4.3)" fill="#f0f0f0"/><ellipse cx="59.2" cy="5.3" rx="3.7" ry="2.4" transform="rotate(-14.7 58.4 4.3)" fill="#6a6a6a" opacity="0.55"/><ellipse cx="58.4" cy="4.3" rx="3.7" ry="2.4" transform="rotate(-14.7 58.4 4.3)" fill="#dedede"/><ellipse cx="67.7" cy="34.8" rx="4.3" ry="2" transform="rotate(1.3 66.9 33.8)" fill="#6a6a6a" opacity="0.55"/><ellipse cx="66.9" cy="33.8" rx="4.3" ry="2" transform="rotate(1.3 66.9 33.8)" fill="#e8e8e8"/><ellipse cx="1.1" cy="34.4" rx="3" ry="2.3" transform="rotate(8.2 0.3 33.4)" fill="#6a6a6a" opacity="0.55"/><ellipse cx="0.3" cy="33.4" rx="3" ry="2.3" transform="rotate(8.2 0.3 33.4)" fill="#d4d4d4"/><ellipse cx="25.3" cy="4.7" rx="2.4" ry="1.5" transform="rotate(-4.2 24.5 3.7)" fill="#6a6a6a" opacity="0.55"/><ellipse cx="24.5" cy="3.7" rx="2.4" ry="1.5" transform="rotate(-4.2 24.5 3.7)" fill="#d4d4d4"/><ellipse cx="4.4" cy="10.4" rx="3.5" ry="2.4" transform="rotate(-2.7 3.6 9.4)" fill="#6a6a6a" opacity="0.55"/><ellipse cx="3.6" cy="9.4" rx="3.5" ry="2.4" transform="rotate(-2.7 3.6 9.4)" fill="#dedede"/><ellipse cx="55.7" cy="-0.9" rx="2.6" ry="1.8" transform="rotate(-28.1 54.9 -1.9)" fill="#6a6a6a" opacity="0.55"/><ellipse cx="54.9" cy="-1.9" rx="2.6" ry="1.8" transform="rotate(-28.1 54.9 -1.9)" fill="#cacaca"/><ellipse cx="7.8" cy="66.1" rx="4.1" ry="3" transform="rotate(-4 7 65.1)" fill="#6a6a6a" opacity="0.55"/><ellipse cx="7" cy="65.1" rx="4.1" ry="3" transform="rotate(-4 7 65.1)" fill="#cacaca"/><ellipse cx="11.3" cy="53.4" rx="4.3" ry="3.1" transform="rotate(7.7 10.5 52.4)" fill="#6a6a6a" opacity="0.55"/><ellipse cx="10.5" cy="52.4" rx="4.3" ry="3.1" transform="rotate(7.7 10.5 52.4)" fill="#f0f0f0"/><ellipse cx="47" cy="5.7" rx="2.1" ry="1.2" transform="rotate(-34.5 46.2 4.7)" fill="#6a6a6a" opacity="0.55"/><ellipse cx="46.2" cy="4.7" rx="2.1" ry="1.2" transform="rotate(-34.5 46.2 4.7)" fill="#d4d4d4"/><ellipse cx="81.4" cy="47.6" rx="3.7" ry="2.1" transform="rotate(1.3 80.6 46.6)" fill="#6a6a6a" opacity="0.55"/><ellipse cx="80.6" cy="46.6" rx="3.7" ry="2.1" transform="rotate(1.3 80.6 46.6)" fill="#dedede"/><ellipse cx="6.8" cy="52.8" rx="1.9" ry="1.3" transform="rotate(-31 6 51.8)" fill="#6a6a6a" opacity="0.55"/><ellipse cx="6" cy="51.8" rx="1.9" ry="1.3" transform="rotate(-31 6 51.8)" fill="#e8e8e8"/><ellipse cx="33.4" cy="71.8" rx="3.3" ry="1.6" transform="rotate(-28.7 32.6 70.8)" fill="#6a6a6a" opacity="0.55"/><ellipse cx="32.6" cy="70.8" rx="3.3" ry="1.6" transform="rotate(-28.7 32.6 70.8)" fill="#e8e8e8"/><ellipse cx="85.2" cy="36.3" rx="3.8" ry="2.2" transform="rotate(1.2 84.4 35.3)" fill="#6a6a6a" opacity="0.55"/><ellipse cx="84.4" cy="35.3" rx="3.8" ry="2.2" transform="rotate(1.2 84.4 35.3)" fill="#cacaca"/><ellipse cx="10.1" cy="16.1" rx="1.9" ry="1.3" transform="rotate(-15.9 9.3 15.1)" fill="#6a6a6a" opacity="0.55"/><ellipse cx="9.3" cy="15.1" rx="1.9" ry="1.3" transform="rotate(-15.9 9.3 15.1)" fill="#f0f0f0"/><ellipse cx="52.9" cy="62.1" rx="3.3" ry="1.9" transform="rotate(-0.6 52.1 61.1)" fill="#6a6a6a" opacity="0.55"/><ellipse cx="52.1" cy="61.1" rx="3.3" ry="1.9" transform="rotate(-0.6 52.1 61.1)" fill="#e8e8e8"/><ellipse cx="56.2" cy="51.7" rx="1.6" ry="0.9" transform="rotate(-22.9 55.4 50.7)" fill="#6a6a6a" opacity="0.55"/><ellipse cx="55.4" cy="50.7" rx="1.6" ry="0.9" transform="rotate(-22.9 55.4 50.7)" fill="#f0f0f0"/><ellipse cx="7.2" cy="31.3" rx="3" ry="2.2" transform="rotate(1.3 6.4 30.3)" fill="#6a6a6a" opacity="0.55"/><ellipse cx="6.4" cy="30.3" rx="3" ry="2.2" transform="rotate(1.3 6.4 30.3)" fill="#cacaca"/><ellipse cx="60.9" cy="20.4" rx="3.1" ry="1.7" transform="rotate(-28.3 60.1 19.4)" fill="#6a6a6a" opacity="0.55"/><ellipse cx="60.1" cy="19.4" rx="3.1" ry="1.7" transform="rotate(-28.3 60.1 19.4)" fill="#cacaca"/><ellipse cx="42.1" cy="10.5" rx="3.6" ry="2.9" transform="rotate(-14.2 41.3 9.5)" fill="#6a6a6a" opacity="0.55"/><ellipse cx="41.3" cy="9.5" rx="3.6" ry="2.9" transform="rotate(-14.2 41.3 9.5)" fill="#e8e8e8"/><ellipse cx="48" cy="0.4" rx="3.5" ry="2.5" transform="rotate(-33.2 47.2 -0.6)" fill="#6a6a6a" opacity="0.55"/><ellipse cx="47.2" cy="-0.6" rx="3.5" ry="2.5" transform="rotate(-33.2 47.2 -0.6)" fill="#f0f0f0"/><ellipse cx="48.8" cy="59.5" rx="2.5" ry="1.9" transform="rotate(-21.9 48 58.5)" fill="#6a6a6a" opacity="0.55"/><ellipse cx="48" cy="58.5" rx="2.5" ry="1.9" transform="rotate(-21.9 48 58.5)" fill="#f0f0f0"/><ellipse cx="75.9" cy="37.9" rx="3.7" ry="2" transform="rotate(-11.5 75.1 36.9)" fill="#6a6a6a" opacity="0.55"/><ellipse cx="75.1" cy="36.9" rx="3.7" ry="2" transform="rotate(-11.5 75.1 36.9)" fill="#cacaca"/><ellipse cx="47.4" cy="47.4" rx="2.3" ry="1.8" transform="rotate(9.6 46.6 46.4)" fill="#6a6a6a" opacity="0.55"/><ellipse cx="46.6" cy="46.4" rx="2.3" ry="1.8" transform="rotate(9.6 46.6 46.4)" fill="#d4d4d4"/><ellipse cx="51" cy="8.8" rx="4" ry="2.2" transform="rotate(4.9 50.2 7.8)" fill="#6a6a6a" opacity="0.55"/><ellipse cx="50.2" cy="7.8" rx="4" ry="2.2" transform="rotate(4.9 50.2 7.8)" fill="#e8e8e8"/><ellipse cx="64.9" cy="30" rx="2" ry="1.3" transform="rotate(0.6 64.1 29)" fill="#6a6a6a" opacity="0.55"/><ellipse cx="64.1" cy="29" rx="2" ry="1.3" transform="rotate(0.6 64.1 29)" fill="#f0f0f0"/><ellipse cx="0.6" cy="13.9" rx="4.5" ry="3.5" transform="rotate(-7.1 -0.2 12.9)" fill="#6a6a6a" opacity="0.55"/><ellipse cx="-0.2" cy="12.9" rx="4.5" ry="3.5" transform="rotate(-7.1 -0.2 12.9)" fill="#d4d4d4"/><ellipse cx="64.7" cy="72.7" rx="4.2" ry="2.8" transform="rotate(-8 63.9 71.7)" fill="#6a6a6a" opacity="0.55"/><ellipse cx="63.9" cy="71.7" rx="4.2" ry="2.8" transform="rotate(-8 63.9 71.7)" fill="#dedede"/><ellipse cx="11.8" cy="34.3" rx="1.6" ry="1" transform="rotate(-34.1 11 33.3)" fill="#6a6a6a" opacity="0.55"/><ellipse cx="11" cy="33.3" rx="1.6" ry="1" transform="rotate(-34.1 11 33.3)" fill="#f0f0f0"/><ellipse cx="13.2" cy="43.8" rx="2.3" ry="1.5" transform="rotate(-23.4 12.4 42.8)" fill="#6a6a6a" opacity="0.55"/><ellipse cx="12.4" cy="42.8" rx="2.3" ry="1.5" transform="rotate(-23.4 12.4 42.8)" fill="#dedede"/><ellipse cx="61.7" cy="67.5" rx="2.7" ry="1.7" transform="rotate(-34.9 60.9 66.5)" fill="#6a6a6a" opacity="0.55"/><ellipse cx="60.9" cy="66.5" rx="2.7" ry="1.7" transform="rotate(-34.9 60.9 66.5)" fill="#d4d4d4"/><ellipse cx="34.2" cy="53" rx="3.6" ry="2.6" transform="rotate(-2.4 33.4 52)" fill="#6a6a6a" opacity="0.55"/><ellipse cx="33.4" cy="52" rx="3.6" ry="2.6" transform="rotate(-2.4 33.4 52)" fill="#f0f0f0"/><ellipse cx="76.5" cy="38.9" rx="4.2" ry="2.9" transform="rotate(1.3 75.7 37.9)" fill="#6a6a6a" opacity="0.55"/><ellipse cx="75.7" cy="37.9" rx="4.2" ry="2.9" transform="rotate(1.3 75.7 37.9)" fill="#dedede"/><ellipse cx="47.9" cy="77.8" rx="3.1" ry="2" transform="rotate(-18.4 47.1 76.8)" fill="#6a6a6a" opacity="0.55"/><ellipse cx="47.1" cy="76.8" rx="3.1" ry="2" transform="rotate(-18.4 47.1 76.8)" fill="#dedede"/><ellipse cx="26.2" cy="2.8" rx="3.7" ry="2.8" transform="rotate(-3.4 25.4 1.8)" fill="#6a6a6a" opacity="0.55"/><ellipse cx="25.4" cy="1.8" rx="3.7" ry="2.8" transform="rotate(-3.4 25.4 1.8)" fill="#cacaca"/><ellipse cx="26.3" cy="67.6" rx="4.1" ry="3.1" transform="rotate(-27.8 25.5 66.6)" fill="#6a6a6a" opacity="0.55"/><ellipse cx="25.5" cy="66.6" rx="4.1" ry="3.1" transform="rotate(-27.8 25.5 66.6)" fill="#f0f0f0"/><ellipse cx="19.2" cy="75" rx="4.4" ry="2.7" transform="rotate(-34.7 18.4 74)" fill="#6a6a6a" opacity="0.55"/><ellipse cx="18.4" cy="74" rx="4.4" ry="2.7" transform="rotate(-34.7 18.4 74)" fill="#e8e8e8"/><ellipse cx="46" cy="55.9" rx="4.3" ry="3.3" transform="rotate(10 45.2 54.9)" fill="#6a6a6a" opacity="0.55"/><ellipse cx="45.2" cy="54.9" rx="4.3" ry="3.3" transform="rotate(10 45.2 54.9)" fill="#d4d4d4"/><ellipse cx="74.5" cy="35.2" rx="3.9" ry="2.1" transform="rotate(-2.7 73.7 34.2)" fill="#6a6a6a" opacity="0.55"/><ellipse cx="73.7" cy="34.2" rx="3.9" ry="2.1" transform="rotate(-2.7 73.7 34.2)" fill="#cacaca"/><ellipse cx="8.7" cy="4.3" rx="3.1" ry="1.5" transform="rotate(4.1 7.9 3.3)" fill="#6a6a6a" opacity="0.55"/><ellipse cx="7.9" cy="3.3" rx="3.1" ry="1.5" transform="rotate(4.1 7.9 3.3)" fill="#cacaca"/><ellipse cx="82" cy="-1.9" rx="2.2" ry="1.2" transform="rotate(-23.8 81.2 -2.9)" fill="#6a6a6a" opacity="0.55"/><ellipse cx="81.2" cy="-2.9" rx="2.2" ry="1.2" transform="rotate(-23.8 81.2 -2.9)" fill="#dedede"/><ellipse cx="36.8" cy="37.7" rx="3.1" ry="1.5" transform="rotate(-5.4 36 36.7)" fill="#6a6a6a" opacity="0.55"/><ellipse cx="36" cy="36.7" rx="3.1" ry="1.5" transform="rotate(-5.4 36 36.7)" fill="#e8e8e8"/><ellipse cx="1.9" cy="0.7" rx="4.2" ry="2.3" transform="rotate(-15.1 1.1 -0.3)" fill="#6a6a6a" opacity="0.55"/><ellipse cx="1.1" cy="-0.3" rx="4.2" ry="2.3" transform="rotate(-15.1 1.1 -0.3)" fill="#f0f0f0"/><ellipse cx="75.6" cy="15.9" rx="4.1" ry="2.8" transform="rotate(-37.1 74.8 14.9)" fill="#6a6a6a" opacity="0.55"/><ellipse cx="74.8" cy="14.9" rx="4.1" ry="2.8" transform="rotate(-37.1 74.8 14.9)" fill="#d4d4d4"/><ellipse cx="72" cy="29.2" rx="2.9" ry="1.5" transform="rotate(4 71.2 28.2)" fill="#6a6a6a" opacity="0.55"/><ellipse cx="71.2" cy="28.2" rx="2.9" ry="1.5" transform="rotate(4 71.2 28.2)" fill="#cacaca"/><ellipse cx="15.7" cy="53.8" rx="2.1" ry="1.6" transform="rotate(-37.5 14.9 52.8)" fill="#6a6a6a" opacity="0.55"/><ellipse cx="14.9" cy="52.8" rx="2.1" ry="1.6" transform="rotate(-37.5 14.9 52.8)" fill="#dedede"/><ellipse cx="24.9" cy="70.1" rx="4.4" ry="2.4" transform="rotate(-19 24.1 69.1)" fill="#6a6a6a" opacity="0.55"/><ellipse cx="24.1" cy="69.1" rx="4.4" ry="2.4" transform="rotate(-19 24.1 69.1)" fill="#e8e8e8"/><ellipse cx="27.4" cy="82.4" rx="3.8" ry="2.3" transform="rotate(-31.5 26.6 81.4)" fill="#6a6a6a" opacity="0.55"/><ellipse cx="26.6" cy="81.4" rx="3.8" ry="2.3" transform="rotate(-31.5 26.6 81.4)" fill="#d4d4d4"/><ellipse cx="8.5" cy="59" rx="2.3" ry="1.6" transform="rotate(-14.9 7.7 58)" fill="#6a6a6a" opacity="0.55"/><ellipse cx="7.7" cy="58" rx="2.3" ry="1.6" transform="rotate(-14.9 7.7 58)" fill="#d4d4d4"/><ellipse cx="67.8" cy="30.9" rx="3.5" ry="2.6" transform="rotate(-10.5 67 29.9)" fill="#6a6a6a" opacity="0.55"/><ellipse cx="67" cy="29.9" rx="3.5" ry="2.6" transform="rotate(-10.5 67 29.9)" fill="#e8e8e8"/><ellipse cx="84.3" cy="77" rx="2" ry="1.1" transform="rotate(-33.4 83.5 76)" fill="#6a6a6a" opacity="0.55"/><ellipse cx="83.5" cy="76" rx="2" ry="1.1" transform="rotate(-33.4 83.5 76)" fill="#dedede"/><ellipse cx="38.8" cy="4.7" rx="4.3" ry="2" transform="rotate(5.4 38 3.7)" fill="#6a6a6a" opacity="0.55"/><ellipse cx="38" cy="3.7" rx="4.3" ry="2" transform="rotate(5.4 38 3.7)" fill="#dedede"/><ellipse cx="50.9" cy="23.1" rx="2.3" ry="1.6" transform="rotate(-35.6 50.1 22.1)" fill="#6a6a6a" opacity="0.55"/><ellipse cx="50.1" cy="22.1" rx="2.3" ry="1.6" transform="rotate(-35.6 50.1 22.1)" fill="#d4d4d4"/><ellipse cx="85.3" cy="14.7" rx="2" ry="1.4" transform="rotate(-38.6 84.5 13.7)" fill="#6a6a6a" opacity="0.55"/><ellipse cx="84.5" cy="13.7" rx="2" ry="1.4" transform="rotate(-38.6 84.5 13.7)" fill="#e8e8e8"/><ellipse cx="85.2" cy="1" rx="2.9" ry="2.1" transform="rotate(-20.8 84.4 -0)" fill="#6a6a6a" opacity="0.55"/><ellipse cx="84.4" cy="-0" rx="2.9" ry="2.1" transform="rotate(-20.8 84.4 -0)" fill="#f0f0f0"/><ellipse cx="3.1" cy="3.6" rx="3.8" ry="2.9" transform="rotate(-24 2.3 2.6)" fill="#6a6a6a" opacity="0.55"/><ellipse cx="2.3" cy="2.6" rx="3.8" ry="2.9" transform="rotate(-24 2.3 2.6)" fill="#f0f0f0"/><ellipse cx="67.1" cy="43.6" rx="3" ry="2.3" transform="rotate(-5.8 66.3 42.6)" fill="#6a6a6a" opacity="0.55"/><ellipse cx="66.3" cy="42.6" rx="3" ry="2.3" transform="rotate(-5.8 66.3 42.6)" fill="#cacaca"/><ellipse cx="63.7" cy="44.9" rx="3.3" ry="2.4" transform="rotate(-34.4 62.9 43.9)" fill="#6a6a6a" opacity="0.55"/><ellipse cx="62.9" cy="43.9" rx="3.3" ry="2.4" transform="rotate(-34.4 62.9 43.9)" fill="#f0f0f0"/><ellipse cx="18.6" cy="36.8" rx="3.8" ry="2.8" transform="rotate(-0.4 17.8 35.8)" fill="#6a6a6a" opacity="0.55"/><ellipse cx="17.8" cy="35.8" rx="3.8" ry="2.8" transform="rotate(-0.4 17.8 35.8)" fill="#e8e8e8"/><ellipse cx="20.8" cy="46" rx="4.1" ry="2.7" transform="rotate(-26.9 20 45)" fill="#6a6a6a" opacity="0.55"/><ellipse cx="20" cy="45" rx="4.1" ry="2.7" transform="rotate(-26.9 20 45)" fill="#e8e8e8"/><ellipse cx="50.6" cy="61" rx="3.2" ry="2.4" transform="rotate(-31 49.8 60)" fill="#6a6a6a" opacity="0.55"/><ellipse cx="49.8" cy="60" rx="3.2" ry="2.4" transform="rotate(-31 49.8 60)" fill="#e8e8e8"/><ellipse cx="51.6" cy="51.7" rx="3.9" ry="2.5" transform="rotate(-3.8 50.8 50.7)" fill="#6a6a6a" opacity="0.55"/><ellipse cx="50.8" cy="50.7" rx="3.9" ry="2.5" transform="rotate(-3.8 50.8 50.7)" fill="#dedede"/><ellipse cx="4.2" cy="78" rx="3.2" ry="2.1" transform="rotate(-0.4 3.4 77)" fill="#6a6a6a" opacity="0.55"/><ellipse cx="3.4" cy="77" rx="3.2" ry="2.1" transform="rotate(-0.4 3.4 77)" fill="#e8e8e8"/><ellipse cx="53" cy="2.8" rx="2.8" ry="1.9" transform="rotate(1 52.2 1.8)" fill="#6a6a6a" opacity="0.55"/><ellipse cx="52.2" cy="1.8" rx="2.8" ry="1.9" transform="rotate(1 52.2 1.8)" fill="#cacaca"/><ellipse cx="66.9" cy="65.5" rx="3" ry="2" transform="rotate(-14.5 66.1 64.5)" fill="#6a6a6a" opacity="0.55"/><ellipse cx="66.1" cy="64.5" rx="3" ry="2" transform="rotate(-14.5 66.1 64.5)" fill="#f0f0f0"/><ellipse cx="20.4" cy="12.1" rx="3.6" ry="2.6" transform="rotate(-0.7 19.6 11.1)" fill="#6a6a6a" opacity="0.55"/><ellipse cx="19.6" cy="11.1" rx="3.6" ry="2.6" transform="rotate(-0.7 19.6 11.1)" fill="#dedede"/><ellipse cx="25.7" cy="39.2" rx="3.6" ry="2.5" transform="rotate(7.9 24.9 38.2)" fill="#6a6a6a" opacity="0.55"/><ellipse cx="24.9" cy="38.2" rx="3.6" ry="2.5" transform="rotate(7.9 24.9 38.2)" fill="#e8e8e8"/><ellipse cx="41.1" cy="65.1" rx="4.5" ry="2.2" transform="rotate(-17.2 40.3 64.1)" fill="#6a6a6a" opacity="0.55"/><ellipse cx="40.3" cy="64.1" rx="4.5" ry="2.2" transform="rotate(-17.2 40.3 64.1)" fill="#dedede"/><ellipse cx="-1.9" cy="34.1" rx="3.1" ry="1.5" transform="rotate(-12.2 -2.7 33.1)" fill="#6a6a6a" opacity="0.55"/><ellipse cx="-2.7" cy="33.1" rx="3.1" ry="1.5" transform="rotate(-12.2 -2.7 33.1)" fill="#f0f0f0"/><ellipse cx="35.4" cy="4.7" rx="1.6" ry="1.3" transform="rotate(-1.8 34.6 3.7)" fill="#6a6a6a" opacity="0.55"/><ellipse cx="34.6" cy="3.7" rx="1.6" ry="1.3" transform="rotate(-1.8 34.6 3.7)" fill="#cacaca"/><ellipse cx="18.1" cy="20.3" rx="3.2" ry="1.7" transform="rotate(-16.9 17.3 19.3)" fill="#6a6a6a" opacity="0.55"/><ellipse cx="17.3" cy="19.3" rx="3.2" ry="1.7" transform="rotate(-16.9 17.3 19.3)" fill="#e8e8e8"/><ellipse cx="30" cy="27.7" rx="4.4" ry="2.9" transform="rotate(-38 29.2 26.7)" fill="#6a6a6a" opacity="0.55"/><ellipse cx="29.2" cy="26.7" rx="4.4" ry="2.9" transform="rotate(-38 29.2 26.7)" fill="#f0f0f0"/><ellipse cx="49.6" cy="85.7" rx="3.7" ry="2.4" transform="rotate(5.6 48.8 84.7)" fill="#6a6a6a" opacity="0.55"/><ellipse cx="48.8" cy="84.7" rx="3.7" ry="2.4" transform="rotate(5.6 48.8 84.7)" fill="#cacaca"/><ellipse cx="79.6" cy="13.6" rx="4.1" ry="3.2" transform="rotate(-29.3 78.8 12.6)" fill="#6a6a6a" opacity="0.55"/><ellipse cx="78.8" cy="12.6" rx="4.1" ry="3.2" transform="rotate(-29.3 78.8 12.6)" fill="#f0f0f0"/><ellipse cx="66.9" cy="17" rx="2.5" ry="1.3" transform="rotate(-12.5 66.1 16)" fill="#6a6a6a" opacity="0.55"/><ellipse cx="66.1" cy="16" rx="2.5" ry="1.3" transform="rotate(-12.5 66.1 16)" fill="#e8e8e8"/><ellipse cx="40.3" cy="33.3" rx="3.3" ry="2.3" transform="rotate(-16.4 39.5 32.3)" fill="#6a6a6a" opacity="0.55"/><ellipse cx="39.5" cy="32.3" rx="3.3" ry="2.3" transform="rotate(-16.4 39.5 32.3)" fill="#f0f0f0"/><ellipse cx="85.7" cy="57.9" rx="4.1" ry="2.1" transform="rotate(-20.9 84.9 56.9)" fill="#6a6a6a" opacity="0.55"/><ellipse cx="84.9" cy="56.9" rx="4.1" ry="2.1" transform="rotate(-20.9 84.9 56.9)" fill="#dedede"/><ellipse cx="2" cy="22.4" rx="4.3" ry="2.9" transform="rotate(-14.1 1.2 21.4)" fill="#6a6a6a" opacity="0.55"/><ellipse cx="1.2" cy="21.4" rx="4.3" ry="2.9" transform="rotate(-14.1 1.2 21.4)" fill="#d4d4d4"/><ellipse cx="43.1" cy="48" rx="3.4" ry="1.8" transform="rotate(-34.8 42.3 47)" fill="#6a6a6a" opacity="0.55"/><ellipse cx="42.3" cy="47" rx="3.4" ry="1.8" transform="rotate(-34.8 42.3 47)" fill="#dedede"/><ellipse cx="11.4" cy="80.6" rx="2.6" ry="1.9" transform="rotate(-3.8 10.6 79.6)" fill="#6a6a6a" opacity="0.55"/><ellipse cx="10.6" cy="79.6" rx="2.6" ry="1.9" transform="rotate(-3.8 10.6 79.6)" fill="#dedede"/><ellipse cx="-0.4" cy="26.4" rx="2.7" ry="1.3" transform="rotate(4.1 -1.2 25.4)" fill="#6a6a6a" opacity="0.55"/><ellipse cx="-1.2" cy="25.4" rx="2.7" ry="1.3" transform="rotate(4.1 -1.2 25.4)" fill="#d4d4d4"/><ellipse cx="20.5" cy="75.5" rx="3.5" ry="1.9" transform="rotate(-9.6 19.7 74.5)" fill="#6a6a6a" opacity="0.55"/><ellipse cx="19.7" cy="74.5" rx="3.5" ry="1.9" transform="rotate(-9.6 19.7 74.5)" fill="#f0f0f0"/><ellipse cx="1.4" cy="11.3" rx="3.3" ry="1.5" transform="rotate(-24.4 0.6 10.3)" fill="#6a6a6a" opacity="0.55"/><ellipse cx="0.6" cy="10.3" rx="3.3" ry="1.5" transform="rotate(-24.4 0.6 10.3)" fill="#f0f0f0"/><ellipse cx="40.2" cy="59.2" rx="3.1" ry="2" transform="rotate(-24.3 39.4 58.2)" fill="#6a6a6a" opacity="0.55"/><ellipse cx="39.4" cy="58.2" rx="3.1" ry="2" transform="rotate(-24.3 39.4 58.2)" fill="#f0f0f0"/><ellipse cx="56.8" cy="11" rx="2.1" ry="1.2" transform="rotate(-4.4 56 10)" fill="#6a6a6a" opacity="0.55"/><ellipse cx="56" cy="10" rx="2.1" ry="1.2" transform="rotate(-4.4 56 10)" fill="#f0f0f0"/><ellipse cx="9.9" cy="43.6" rx="2.6" ry="1.2" transform="rotate(-21.5 9.1 42.6)" fill="#6a6a6a" opacity="0.55"/><ellipse cx="9.1" cy="42.6" rx="2.6" ry="1.2" transform="rotate(-21.5 9.1 42.6)" fill="#cacaca"/><ellipse cx="16.9" cy="1.6" rx="1.6" ry="1.1" transform="rotate(-11.7 16.1 0.6)" fill="#6a6a6a" opacity="0.55"/><ellipse cx="16.1" cy="0.6" rx="1.6" ry="1.1" transform="rotate(-11.7 16.1 0.6)" fill="#d4d4d4"/><ellipse cx="56.2" cy="3.9" rx="4.1" ry="2.6" transform="rotate(-22.3 55.4 2.9)" fill="#6a6a6a" opacity="0.55"/><ellipse cx="55.4" cy="2.9" rx="4.1" ry="2.6" transform="rotate(-22.3 55.4 2.9)" fill="#dedede"/><ellipse cx="82.3" cy="74.6" rx="2.2" ry="1.5" transform="rotate(-35.5 81.5 73.6)" fill="#6a6a6a" opacity="0.55"/><ellipse cx="81.5" cy="73.6" rx="2.2" ry="1.5" transform="rotate(-35.5 81.5 73.6)" fill="#f0f0f0"/><ellipse cx="8.4" cy="41.5" rx="3" ry="2.3" transform="rotate(-25.8 7.6 40.5)" fill="#6a6a6a" opacity="0.55"/><ellipse cx="7.6" cy="40.5" rx="3" ry="2.3" transform="rotate(-25.8 7.6 40.5)" fill="#d4d4d4"/><ellipse cx="17.4" cy="79.6" rx="2.1" ry="1.5" transform="rotate(-22.5 16.6 78.6)" fill="#6a6a6a" opacity="0.55"/><ellipse cx="16.6" cy="78.6" rx="2.1" ry="1.5" transform="rotate(-22.5 16.6 78.6)" fill="#e8e8e8"/><ellipse cx="43.9" cy="63.5" rx="4.2" ry="3.1" transform="rotate(-16.1 43.1 62.5)" fill="#6a6a6a" opacity="0.55"/><ellipse cx="43.1" cy="62.5" rx="4.2" ry="3.1" transform="rotate(-16.1 43.1 62.5)" fill="#d4d4d4"/><ellipse cx="59.9" cy="46.8" rx="3.6" ry="1.6" transform="rotate(-20.4 59.1 45.8)" fill="#6a6a6a" opacity="0.55"/><ellipse cx="59.1" cy="45.8" rx="3.6" ry="1.6" transform="rotate(-20.4 59.1 45.8)" fill="#d4d4d4"/><ellipse cx="78.3" cy="78.5" rx="2.3" ry="1.3" transform="rotate(2.3 77.5 77.5)" fill="#6a6a6a" opacity="0.55"/><ellipse cx="77.5" cy="77.5" rx="2.3" ry="1.3" transform="rotate(2.3 77.5 77.5)" fill="#d4d4d4"/><ellipse cx="39.3" cy="26.7" rx="2.3" ry="1" transform="rotate(-22.6 38.5 25.7)" fill="#6a6a6a" opacity="0.55"/><ellipse cx="38.5" cy="25.7" rx="2.3" ry="1" transform="rotate(-22.6 38.5 25.7)" fill="#d4d4d4"/><ellipse cx="47.9" cy="21.1" rx="3.5" ry="1.8" transform="rotate(-16.5 47.1 20.1)" fill="#6a6a6a" opacity="0.55"/><ellipse cx="47.1" cy="20.1" rx="3.5" ry="1.8" transform="rotate(-16.5 47.1 20.1)" fill="#cacaca"/><ellipse cx="28" cy="77.2" rx="1.6" ry="1.1" transform="rotate(-29.2 27.2 76.2)" fill="#6a6a6a" opacity="0.55"/><ellipse cx="27.2" cy="76.2" rx="1.6" ry="1.1" transform="rotate(-29.2 27.2 76.2)" fill="#dedede"/><ellipse cx="53.3" cy="52.8" rx="2.7" ry="1.6" transform="rotate(-26.2 52.5 51.8)" fill="#6a6a6a" opacity="0.55"/><ellipse cx="52.5" cy="51.8" rx="2.7" ry="1.6" transform="rotate(-26.2 52.5 51.8)" fill="#f0f0f0"/><ellipse cx="75.7" cy="31.7" rx="4.2" ry="2" transform="rotate(-33.2 74.9 30.7)" fill="#6a6a6a" opacity="0.55"/><ellipse cx="74.9" cy="30.7" rx="4.2" ry="2" transform="rotate(-33.2 74.9 30.7)" fill="#cacaca"/><ellipse cx="21.9" cy="41.7" rx="2.9" ry="1.3" transform="rotate(-9.7 21.1 40.7)" fill="#6a6a6a" opacity="0.55"/><ellipse cx="21.1" cy="40.7" rx="2.9" ry="1.3" transform="rotate(-9.7 21.1 40.7)" fill="#d4d4d4"/><ellipse cx="18" cy="58" rx="2.2" ry="1" transform="rotate(-12.8 17.2 57)" fill="#6a6a6a" opacity="0.55"/><ellipse cx="17.2" cy="57" rx="2.2" ry="1" transform="rotate(-12.8 17.2 57)" fill="#f0f0f0"/></g><g filter="url(#b1)"><path d="M58 0 H82.5 V20 Q74 12 66 6 Q62 3 58 0Z" fill="#809c70"/><path d="M72 2 H82.5 V18 Q78 10 72 2Z" fill="#4e7a40"/></g><g filter="url(#b05)"><ellipse cx="9" cy="73" rx="9" ry="8" fill="#4e7a3a"/><ellipse cx="5" cy="67" rx="5" ry="3.5" fill="#7aa05a"/><ellipse cx="14" cy="79" rx="5" ry="3.5" fill="#3c6a2e"/><ellipse cx="17" cy="70" rx="3" ry="2" fill="#e4e4e4"/></g><path d="M0.5 60 Q22 55 47 46" stroke="#5a3e48" stroke-width="2.2" fill="none"/><path d="M2 58 Q4 35 8 18" stroke="#6a5058" stroke-width="1.4" fill="none"/><path d="M12 60 Q15 45 21 30" stroke="#6a7a50" stroke-width="1.2" fill="none"/><g filter="url(#b05)"><ellipse cx="57" cy="42" rx="13" ry="24" transform="rotate(-22 57 42)" fill="#b86cb8"/><ellipse cx="52" cy="32" rx="6" ry="12" transform="rotate(-25 52 32)" fill="#8a3c8a"/><ellipse cx="9" cy="9" rx="6" ry="8" fill="#b070b0"/><ellipse cx="21" cy="23" rx="6.5" ry="5.5" fill="#8a3a88"/></g><g><path d="M68.3 57.2L70.8 62.8" stroke="#c07ac4" stroke-width="0.9"/><path d="M64.9 39.7L71.5 43.9" stroke="#6a2a70" stroke-width="0.9"/><path d="M57.5 45.2L57.3 50" stroke="#7a3580" stroke-width="0.9"/><path d="M69.3 56L71.2 63.4" stroke="#a050a8" stroke-width="0.9"/><path d="M67.2 39.5L72.1 45.1" stroke="#7a3580" stroke-width="0.9"/><path d="M63.8 36.3L68 41.3" stroke="#d090cc" stroke-width="0.9"/><path d="M68.3 42.5L69.8 45.6" stroke="#7a3580" stroke-width="0.9"/><path d="M50.3 52.1L49 56.6" stroke="#c07ac4" stroke-width="0.9"/><path d="M47.7 33.1L42.4 37.8" stroke="#c07ac4" stroke-width="0.9"/><path d="M68.2 63L68.8 70.5" stroke="#6a2a70" stroke-width="0.9"/><path d="M60 42.3L61.1 48" stroke="#a050a8" stroke-width="0.9"/><path d="M68.4 62.1L71.5 68.9" stroke="#d090cc" stroke-width="0.9"/><path d="M63.5 36.4L66.8 39.6" stroke="#d090cc" stroke-width="0.9"/><path d="M61.1 43.6L59.8 50.1" stroke="#a050a8" stroke-width="0.9"/><path d="M60.2 42.8L61.6 48.7" stroke="#6a2a70" stroke-width="0.9"/><path d="M46 36.8L42 41.4" stroke="#c07ac4" stroke-width="0.9"/><path d="M43.7 33.2L39 33" stroke="#d090cc" stroke-width="0.9"/><path d="M60.7 52.7L64.2 59.4" stroke="#a050a8" stroke-width="0.9"/><path d="M55 59.3L52.1 65" stroke="#c07ac4" stroke-width="0.9"/><path d="M51.7 59.7L49.7 67.3" stroke="#d090cc" stroke-width="0.9"/><path d="M49.9 47.7L47 50.8" stroke="#c07ac4" stroke-width="0.9"/><path d="M47.4 41.6L43.4 44.6" stroke="#7a3580" stroke-width="0.9"/><path d="M56.7 39.3L57.5 43.5" stroke="#a050a8" stroke-width="0.9"/><path d="M62.5 57.4L62.9 64.7" stroke="#c07ac4" stroke-width="0.9"/><path d="M66.6 37.9L71.5 40.2" stroke="#c868b8" stroke-width="0.9"/><path d="M45.7 45.2L44.6 48.1" stroke="#d090cc" stroke-width="0.9"/><path d="M52.4 23.5L48.7 18.8" stroke="#6a2a70" stroke-width="0.9"/><path d="M60.4 32.8L63.1 35.3" stroke="#c07ac4" stroke-width="0.9"/><path d="M56.3 41.8L53.1 47.4" stroke="#7a3580" stroke-width="0.9"/><path d="M61.3 56.4L60 60.4" stroke="#a050a8" stroke-width="0.9"/><path d="M62.1 57.7L60.4 65.3" stroke="#c07ac4" stroke-width="0.9"/><path d="M66 52.5L66.9 56.4" stroke="#c07ac4" stroke-width="0.9"/><path d="M62 45.7L64.2 49.5" stroke="#d090cc" stroke-width="0.9"/><path d="M52.9 59.8L54 65.8" stroke="#a050a8" stroke-width="0.9"/><path d="M67.2 60.3L68.7 66.9" stroke="#6a2a70" stroke-width="0.9"/><path d="M59 27.6L60.3 20.8" stroke="#a050a8" stroke-width="0.9"/><path d="M57.9 31.9L58.8 37.6" stroke="#c07ac4" stroke-width="0.9"/><path d="M64 61.9L66.9 65.4" stroke="#a050a8" stroke-width="0.9"/><path d="M68.8 56.8L69.6 64.7" stroke="#6a2a70" stroke-width="0.9"/><path d="M48.3 48.7L48.3 54.4" stroke="#6a2a70" stroke-width="0.9"/><path d="M47.4 23.6L44.3 20.3" stroke="#6a2a70" stroke-width="0.9"/><path d="M53.5 34.6L50.6 40" stroke="#c07ac4" stroke-width="0.9"/><path d="M56.7 55.2L59.6 62.6" stroke="#7a3580" stroke-width="0.9"/><path d="M45.9 32.5L39.1 30.6" stroke="#6a2a70" stroke-width="0.9"/><path d="M54.9 42.4L54.3 48.6" stroke="#6a2a70" stroke-width="0.9"/><path d="M45.1 46.9L44.6 50.2" stroke="#c868b8" stroke-width="0.9"/><path d="M53.2 50.5L50.1 56.2" stroke="#c868b8" stroke-width="0.9"/><path d="M50.8 56.3L50.4 61.3" stroke="#c07ac4" stroke-width="0.9"/><path d="M42.8 31.8L39.4 32.3" stroke="#a050a8" stroke-width="0.9"/><path d="M55.3 58.5L55.2 62.6" stroke="#c868b8" stroke-width="0.9"/><path d="M50.5 26.4L45.1 21.5" stroke="#c868b8" stroke-width="0.9"/><path d="M62.3 59L64.3 64.1" stroke="#a050a8" stroke-width="0.9"/><path d="M54.8 23.2L49.2 17.6" stroke="#d090cc" stroke-width="0.9"/><path d="M68 61.7L72.5 66.5" stroke="#c07ac4" stroke-width="0.9"/><path d="M65.1 47.3L66.6 54.8" stroke="#a050a8" stroke-width="0.9"/><path d="M68 36.9L71.4 38.7" stroke="#c868b8" stroke-width="0.9"/><path d="M58 60.7L59.7 66.9" stroke="#7a3580" stroke-width="0.9"/><path d="M58.2 54.7L61 61.4" stroke="#c868b8" stroke-width="0.9"/><path d="M50.9 45.9L47.4 51.3" stroke="#c07ac4" stroke-width="0.9"/><path d="M62.5 35.6L65.8 39.6" stroke="#d090cc" stroke-width="0.9"/><path d="M46.1 30.7L40.6 33.3" stroke="#c07ac4" stroke-width="0.9"/><path d="M69.3 43.8L73.1 50.5" stroke="#7a3580" stroke-width="0.9"/><path d="M68.2 48.1L71 52.1" stroke="#a050a8" stroke-width="0.9"/><path d="M57.8 45.8L60.3 51" stroke="#d090cc" stroke-width="0.9"/><path d="M64.6 55L66.3 57.4" stroke="#6a2a70" stroke-width="0.9"/><path d="M52.3 24.2L47.2 21.7" stroke="#c07ac4" stroke-width="0.9"/><path d="M51.2 57.9L50 62" stroke="#6a2a70" stroke-width="0.9"/><path d="M63.4 30.8L66.5 31.4" stroke="#7a3580" stroke-width="0.9"/><path d="M50 55.7L46.7 63" stroke="#c07ac4" stroke-width="0.9"/><path d="M70 47L73.1 52.1" stroke="#a050a8" stroke-width="0.9"/><path d="M46.3 29.9L42.8 31.1" stroke="#d090cc" stroke-width="0.9"/><path d="M60.7 61.3L64.6 67.6" stroke="#7a3580" stroke-width="0.9"/><path d="M61 49.6L63.3 56.3" stroke="#d090cc" stroke-width="0.9"/><path d="M59.8 44.6L59.8 50.1" stroke="#c868b8" stroke-width="0.9"/><path d="M56.2 47L56.5 51.1" stroke="#d090cc" stroke-width="0.9"/><path d="M52.5 57L51.2 63.6" stroke="#7a3580" stroke-width="0.9"/><path d="M58 53.9L57 59.4" stroke="#6a2a70" stroke-width="0.9"/><path d="M46.3 44.3L43.3 46.9" stroke="#a050a8" stroke-width="0.9"/><path d="M47 51.2L47.2 56.4" stroke="#d090cc" stroke-width="0.9"/><path d="M51 36L44.5 38.4" stroke="#6a2a70" stroke-width="0.9"/><path d="M52 41L51.4 45.5" stroke="#a050a8" stroke-width="0.9"/><path d="M63.9 32.6L66.9 33.2" stroke="#6a2a70" stroke-width="0.9"/><path d="M58.2 47.4L57.3 52.2" stroke="#c07ac4" stroke-width="0.9"/><path d="M62.3 34.2L69.3 36.7" stroke="#6a2a70" stroke-width="0.9"/><path d="M44.4 41.7L38.2 44" stroke="#d090cc" stroke-width="0.9"/><path d="M59.7 36.4L62.9 41.5" stroke="#c868b8" stroke-width="0.9"/><path d="M55.1 31.1L52.9 33.9" stroke="#a050a8" stroke-width="0.9"/><path d="M64.9 34.7L70.7 40.2" stroke="#c868b8" stroke-width="0.9"/><path d="M71.3 53.1L72.2 58.7" stroke="#6a2a70" stroke-width="0.9"/><path d="M58.9 52.8L58.8 59.1" stroke="#a050a8" stroke-width="0.9"/><path d="M51 25.1L45.3 22.4" stroke="#a050a8" stroke-width="0.9"/><path d="M56.1 34L57.2 39.3" stroke="#a050a8" stroke-width="0.9"/><path d="M67.3 61L69 65.4" stroke="#d090cc" stroke-width="0.9"/><path d="M48.8 26.2L41.3 23.6" stroke="#a050a8" stroke-width="0.9"/><path d="M69 43.6L74.8 48" stroke="#a050a8" stroke-width="0.9"/><path d="M62.8 52.8L62.3 59.5" stroke="#a050a8" stroke-width="0.9"/><path d="M54.8 41.3L56.1 48.7" stroke="#d090cc" stroke-width="0.9"/><path d="M51 50.1L48.6 55.8" stroke="#c868b8" stroke-width="0.9"/><path d="M64.4 46.4L65.3 49.8" stroke="#c868b8" stroke-width="0.9"/><path d="M51.6 24.5L45 20.8" stroke="#d090cc" stroke-width="0.9"/><path d="M58.1 39.2L58 43.7" stroke="#c07ac4" stroke-width="0.9"/><path d="M48.8 23.3L46.4 20.8" stroke="#c868b8" stroke-width="0.9"/><path d="M61.9 53.1L61.9 58.6" stroke="#c07ac4" stroke-width="0.9"/><path d="M69.8 43.5L75 49.1" stroke="#7a3580" stroke-width="0.9"/><path d="M61.6 50.9L61.7 54.2" stroke="#a050a8" stroke-width="0.9"/><path d="M69.5 46.9L73.1 51.8" stroke="#c868b8" stroke-width="0.9"/><path d="M65.3 61.3L66.5 66.6" stroke="#6a2a70" stroke-width="0.9"/><path d="M55.1 58.8L55.6 65" stroke="#d090cc" stroke-width="0.9"/><path d="M53.8 54.9L51.6 60.7" stroke="#6a2a70" stroke-width="0.9"/><path d="M66.3 62L66.8 65" stroke="#a050a8" stroke-width="0.9"/><path d="M56.6 26L57.7 18.6" stroke="#d090cc" stroke-width="0.9"/><path d="M52.3 46.5L51.6 53.5" stroke="#d090cc" stroke-width="0.9"/><path d="M61.5 65.4L63.6 70.2" stroke="#7a3580" stroke-width="0.9"/><path d="M43.5 33.4L40.2 35.8" stroke="#6a2a70" stroke-width="0.9"/><path d="M45.7 33.1L42.8 35.3" stroke="#c868b8" stroke-width="0.9"/><path d="M48.2 30.2L44.9 31.1" stroke="#6a2a70" stroke-width="0.9"/><path d="M49.8 41.8L46 45.3" stroke="#6a2a70" stroke-width="0.9"/><path d="M46.2 27.2L42.5 23.8" stroke="#c868b8" stroke-width="0.9"/><path d="M56.3 61.4L56.2 64.6" stroke="#a050a8" stroke-width="0.9"/><path d="M51.7 27.4L49.3 24.3" stroke="#7a3580" stroke-width="0.9"/><path d="M53.8 32.9L50.7 37.3" stroke="#c07ac4" stroke-width="0.9"/><path d="M60.3 57.3L62.2 62.4" stroke="#d090cc" stroke-width="0.9"/><path d="M64.6 45.3L66.7 48.1" stroke="#c07ac4" stroke-width="0.9"/><path d="M53.8 35.7L53.1 40.2" stroke="#c868b8" stroke-width="0.9"/><path d="M44.6 27.8L41.6 26.5" stroke="#a050a8" stroke-width="0.9"/><path d="M52.9 45L52.9 52.9" stroke="#d090cc" stroke-width="0.9"/><path d="M54.8 39.6L52.7 45.4" stroke="#a050a8" stroke-width="0.9"/><path d="M69.1 61L72.3 65" stroke="#7a3580" stroke-width="0.9"/><path d="M61.4 52.1L66.4 58.1" stroke="#c07ac4" stroke-width="0.9"/><path d="M57.1 24.3L56.6 20.1" stroke="#a050a8" stroke-width="0.9"/><path d="M67.4 59.1L72.1 65" stroke="#d090cc" stroke-width="0.9"/><path d="M50.8 48.3L46.1 54.1" stroke="#c07ac4" stroke-width="0.9"/><path d="M61.8 62.9L61.2 69.4" stroke="#7a3580" stroke-width="0.9"/><path d="M58.4 35L61.9 42.1" stroke="#a050a8" stroke-width="0.9"/><path d="M54.7 25.1L49.6 21" stroke="#6a2a70" stroke-width="0.9"/><path d="M60.5 55.3L60.7 62.2" stroke="#c868b8" stroke-width="0.9"/><path d="M60.5 51.2L61.9 54" stroke="#a050a8" stroke-width="0.9"/><path d="M64.6 38.6L68.9 43.4" stroke="#c07ac4" stroke-width="0.9"/><path d="M47.9 34.2L42.7 37.9" stroke="#c07ac4" stroke-width="0.9"/><path d="M54.1 44.5L51.3 50.4" stroke="#c07ac4" stroke-width="0.9"/><path d="M49 53.4L47.6 56.2" stroke="#7a3580" stroke-width="0.9"/><path d="M67 56.9L66.9 63.2" stroke="#d090cc" stroke-width="0.9"/><path d="M53.3 53.5L54.8 60" stroke="#d090cc" stroke-width="0.9"/><path d="M64.9 41.4L66.5 48.1" stroke="#a050a8" stroke-width="0.9"/><path d="M48.8 37.5L42.8 39.9" stroke="#c07ac4" stroke-width="0.9"/><path d="M46.1 44.6L44 50.4" stroke="#c07ac4" stroke-width="0.9"/><path d="M55.5 32.7L55.3 39.6" stroke="#d090cc" stroke-width="0.9"/><path d="M69.4 44.9L73.5 49.9" stroke="#7a3580" stroke-width="0.9"/><path d="M55.3 34.9L52.9 40.3" stroke="#c07ac4" stroke-width="0.9"/><path d="M56.9 28L57.6 24.2" stroke="#7a3580" stroke-width="0.9"/><path d="M68.3 58.3L71 62.6" stroke="#c868b8" stroke-width="0.9"/><path d="M53.1 59L50.4 65.7" stroke="#c868b8" stroke-width="0.9"/><path d="M64.6 44.4L65.3 48.5" stroke="#c07ac4" stroke-width="0.9"/><path d="M60.4 42.4L59.3 50.2" stroke="#a050a8" stroke-width="0.9"/><path d="M46.1 25.1L43 22.7" stroke="#a050a8" stroke-width="0.9"/><path d="M67.3 37.2L74.7 38.5" stroke="#c868b8" stroke-width="0.9"/><path d="M43.4 41.4L36.3 44.2" stroke="#7a3580" stroke-width="0.9"/><path d="M55.6 43L51.8 48.7" stroke="#6a2a70" stroke-width="0.9"/><path d="M68.4 54.8L73.1 58.7" stroke="#a050a8" stroke-width="0.9"/><path d="M66.4 48.7L67.3 56.5" stroke="#a050a8" stroke-width="0.9"/><path d="M51.1 47.3L48.5 52.5" stroke="#c07ac4" stroke-width="0.9"/><path d="M61.1 65L60.1 68.5" stroke="#c868b8" stroke-width="0.9"/><path d="M58.7 55L58.8 59.8" stroke="#7a3580" stroke-width="0.9"/><path d="M55.7 57.6L54.3 65" stroke="#c07ac4" stroke-width="0.9"/><path d="M50.4 50.9L50.2 56.5" stroke="#6a2a70" stroke-width="0.9"/><path d="M47.8 51.4L46.4 57.6" stroke="#6a2a70" stroke-width="0.9"/><path d="M46.7 38.9L43.9 43.2" stroke="#d090cc" stroke-width="0.9"/><path d="M62 52.1L60.6 57.6" stroke="#c07ac4" stroke-width="0.9"/><path d="M69.6 50.7L70.9 54.9" stroke="#a050a8" stroke-width="0.9"/><path d="M49.3 39.7L47.8 45.1" stroke="#6a2a70" stroke-width="0.9"/></g><g><path d="M11.2 8.2L11.2 10.3" stroke="#6e2e72" stroke-width="0.9"/><path d="M7.5 2.4L5.6 -1.8" stroke="#6e2e72" stroke-width="0.9"/><path d="M9.7 16.8L9.5 19.7" stroke="#9a4a98" stroke-width="0.9"/><path d="M6.7 1.9L2.8 0.6" stroke="#6e2e72" stroke-width="0.9"/><path d="M6.2 6.6L3.8 7.5" stroke="#9a4a98" stroke-width="0.9"/><path d="M4 7.7L-0.9 8.5" stroke="#6e2e72" stroke-width="0.9"/><path d="M7.5 3.1L6.3 0.6" stroke="#c080c0" stroke-width="0.9"/><path d="M13.5 4.6L18.4 5.2" stroke="#c080c0" stroke-width="0.9"/><path d="M11.2 3.2L12.9 1.2" stroke="#9a4a98" stroke-width="0.9"/><path d="M12.2 6L14.8 6.8" stroke="#c080c0" stroke-width="0.9"/><path d="M4.4 13.6L3.1 15.8" stroke="#c080c0" stroke-width="0.9"/><path d="M6.2 6.8L3.3 9.3" stroke="#c080c0" stroke-width="0.9"/><path d="M9.3 1.4L8.3 -1.7" stroke="#c080c0" stroke-width="0.9"/><path d="M6.6 13.1L4.5 15.6" stroke="#6e2e72" stroke-width="0.9"/><path d="M5.2 8.6L3.2 9.6" stroke="#6e2e72" stroke-width="0.9"/><path d="M12.6 9.9L13 12.4" stroke="#9a4a98" stroke-width="0.9"/><path d="M9.4 10.4L8.6 13.9" stroke="#9a4a98" stroke-width="0.9"/><path d="M8.7 2.5L7.6 0.5" stroke="#6e2e72" stroke-width="0.9"/><path d="M11.7 2.2L15 1.3" stroke="#c080c0" stroke-width="0.9"/><path d="M8.4 6.2L7.1 8.7" stroke="#c080c0" stroke-width="0.9"/><path d="M7.5 9.3L4.7 12.4" stroke="#6e2e72" stroke-width="0.9"/><path d="M11 3.4L14 -0.4" stroke="#9a4a98" stroke-width="0.9"/><path d="M8.1 10.6L7.5 12.8" stroke="#9a4a98" stroke-width="0.9"/><path d="M6.1 10.7L4.5 12" stroke="#c080c0" stroke-width="0.9"/><path d="M6.4 1.8L3.7 -0.6" stroke="#6e2e72" stroke-width="0.9"/><path d="M10.3 12.8L10.7 15.1" stroke="#6e2e72" stroke-width="0.9"/><path d="M7.3 10.6L6 15.1" stroke="#6e2e72" stroke-width="0.9"/><path d="M12.6 10.2L16.4 12.6" stroke="#6e2e72" stroke-width="0.9"/><path d="M9.1 2.6L9.7 0.6" stroke="#c080c0" stroke-width="0.9"/><path d="M6.1 9.9L5.4 12.5" stroke="#6e2e72" stroke-width="0.9"/><path d="M13.1 6.5L14.5 8.6" stroke="#c080c0" stroke-width="0.9"/><path d="M13 11L16.2 13.1" stroke="#c080c0" stroke-width="0.9"/><path d="M8 5L5.6 8.5" stroke="#c080c0" stroke-width="0.9"/><path d="M10.6 5.8L13.9 7.3" stroke="#c080c0" stroke-width="0.9"/><path d="M8.7 16.9L7.7 20.8" stroke="#9a4a98" stroke-width="0.9"/><path d="M7.4 6.4L3.6 8.7" stroke="#9a4a98" stroke-width="0.9"/><path d="M7.1 5.6L4.2 9.1" stroke="#c080c0" stroke-width="0.9"/><path d="M8.6 12.1L8.3 16.7" stroke="#9a4a98" stroke-width="0.9"/><path d="M6.8 9L5.3 12.3" stroke="#c080c0" stroke-width="0.9"/><path d="M12.7 4L15.8 4.4" stroke="#6e2e72" stroke-width="0.9"/></g><g><path d="M26.2 20.8L30.7 19.6" stroke="#8a3c8c" stroke-width="0.9"/><path d="M19.7 25.9L18.4 28.7" stroke="#a860ae" stroke-width="0.9"/><path d="M18.3 23.8L17.9 27.1" stroke="#6e2e72" stroke-width="0.9"/><path d="M25.2 22.6L26.8 23.9" stroke="#a860ae" stroke-width="0.9"/><path d="M20.1 23.9L18.7 28.1" stroke="#8a3c8c" stroke-width="0.9"/><path d="M22.3 25L23.1 29.2" stroke="#a860ae" stroke-width="0.9"/><path d="M24.1 22.5L27.7 25.8" stroke="#a860ae" stroke-width="0.9"/><path d="M22.8 26.1L23.3 30.5" stroke="#6e2e72" stroke-width="0.9"/><path d="M22.1 24.9L21.7 27.9" stroke="#6e2e72" stroke-width="0.9"/><path d="M19.5 22.3L17.5 24.9" stroke="#8a3c8c" stroke-width="0.9"/><path d="M20.1 26.8L18.9 28.8" stroke="#8a3c8c" stroke-width="0.9"/><path d="M19.2 27.2L19.2 30.8" stroke="#6e2e72" stroke-width="0.9"/><path d="M19.5 21.8L16.7 25.2" stroke="#a860ae" stroke-width="0.9"/><path d="M15.5 21.6L11.7 21.1" stroke="#6e2e72" stroke-width="0.9"/><path d="M20 23.3L19.2 27.1" stroke="#6e2e72" stroke-width="0.9"/><path d="M22.8 19.1L27.7 18.5" stroke="#6e2e72" stroke-width="0.9"/><path d="M15.2 21.8L11.4 23.7" stroke="#a860ae" stroke-width="0.9"/><path d="M19.8 23.1L18.7 25.6" stroke="#a860ae" stroke-width="0.9"/><path d="M23.7 22.3L25.4 23.8" stroke="#6e2e72" stroke-width="0.9"/><path d="M19.4 19.5L16.7 19.8" stroke="#6e2e72" stroke-width="0.9"/><path d="M24.2 21.1L26.6 23" stroke="#6e2e72" stroke-width="0.9"/><path d="M24.9 20.5L28 21.4" stroke="#8a3c8c" stroke-width="0.9"/><path d="M20.9 19.3L19.7 16.3" stroke="#8a3c8c" stroke-width="0.9"/><path d="M19.9 22.3L20.1 25.1" stroke="#6e2e72" stroke-width="0.9"/><path d="M18.8 26.2L18.4 30.7" stroke="#8a3c8c" stroke-width="0.9"/><path d="M25 24.8L27.9 26.9" stroke="#8a3c8c" stroke-width="0.9"/><path d="M26.2 21.8L31.1 22.4" stroke="#a860ae" stroke-width="0.9"/><path d="M17.2 26.1L15.2 27.5" stroke="#6e2e72" stroke-width="0.9"/><path d="M21.3 22.2L20.8 26.1" stroke="#6e2e72" stroke-width="0.9"/><path d="M18.2 24.3L14.9 26.1" stroke="#8a3c8c" stroke-width="0.9"/><path d="M16.9 21.8L14 21.8" stroke="#6e2e72" stroke-width="0.9"/><path d="M21.2 24.2L22 28.8" stroke="#6e2e72" stroke-width="0.9"/><path d="M18.8 19.6L16 19.5" stroke="#a860ae" stroke-width="0.9"/><path d="M22.1 20.5L26.8 21.2" stroke="#6e2e72" stroke-width="0.9"/><path d="M16.3 25.2L13.8 27.6" stroke="#a860ae" stroke-width="0.9"/></g></g></g></g><rect x="69.4" y="131.2" width="46.2" height="84.1" fill="#fff" stroke="#6a6a6a" stroke-width="1.1"/><path d="M74 141.5h17" stroke="#d8787a" stroke-width="1.3"/><circle cx="82.5" cy="141.5" r="2.8" fill="#dc5f62"/><text x="97.4" y="147.5" font-family="Liberation Serif" font-size="16" fill="#000">A</text><path d="M74 162.5h17" stroke="#7a9548" stroke-width="1.3"/><path d="M82.5 158.8L85.9 164.8L79.1 164.8Z" fill="#5f8e26"/><text x="97.4" y="168.5" font-family="Liberation Serif" font-size="16" fill="#000">B</text><path d="M74 183.5h17" stroke="#4a9ea6" stroke-width="1.3"/><rect x="79.7" y="180.7" width="5.6" height="5.6" fill="#1f9fae"/><text x="97.4" y="189.5" font-family="Liberation Serif" font-size="16" fill="#000">C</text><path d="M74 204.5h17" stroke="#a086c8" stroke-width="1.3"/><path d="M78.3 204.5H86.7M82.5 200.2V208.8" stroke="#a57bd6" stroke-width="1.4" fill="none"/><text x="97.4" y="210.5" font-family="Liberation Serif" font-size="16" fill="#000">D</text><polyline points="67.3,243 83.92,243 100.54,243 117.17,243 133.79,243 150.41,243 167.03,243 183.65,243 200.28,243 216.9,243 233.52,243 250.14,231.11 266.76,231.11 283.39,225.16 300.01,219.22 316.63,219.22 333.25,207.33 349.87,207.33 366.5,201.38 383.12,195.44 399.74,195.44 416.36,189.49 432.98,183.55 449.61,177.6 466.23,165.71 482.85,165.71" fill="none" stroke="#d8787a" stroke-width="1.15" stroke-linejoin="round"/><polyline points="67.3,243 83.92,243 100.54,243 117.17,243 133.79,243 150.41,243 167.03,237.05 183.65,237.05 200.28,237.05 216.9,231.11 233.52,225.16 250.14,219.22 266.76,219.22 283.39,219.22 300.01,213.27 316.63,207.33 333.25,207.33 349.87,201.38 366.5,195.44 383.12,189.49 399.74,183.55 416.36,177.6 432.98,177.6 449.61,177.6 466.23,171.66 482.85,171.66" fill="none" stroke="#7a9548" stroke-width="1.15" stroke-linejoin="round"/><polyline points="67.3,243 83.92,243 100.54,243 117.17,243 133.79,243 150.41,243 167.03,243 183.65,225.16 200.28,207.33 216.9,195.44 233.52,183.55 250.14,171.66 266.76,165.71 283.39,165.71 300.01,159.77 316.63,153.82 333.25,153.82 349.87,153.82 366.5,153.82 383.12,147.88 399.74,135.99 416.36,135.99 432.98,124.1 449.61,118.15 466.23,106.26 482.85,106.26" fill="none" stroke="#4a9ea6" stroke-width="1.15" stroke-linejoin="round"/><polyline points="67.3,243 83.92,243 100.54,243 117.17,243 133.79,243 150.41,243 167.03,237.05 183.65,213.27 200.28,189.49 216.9,165.71 233.52,135.99 250.14,124.1 266.76,124.1 283.39,118.15 300.01,106.26 316.63,94.37 333.25,88.43 349.87,88.43 366.5,76.54 383.12,76.54 399.74,70.59 416.36,70.59 432.98,46.81 449.61,34.92 466.23,23.03 482.85,23.03" fill="none" stroke="#a086c8" stroke-width="1.15" stroke-linejoin="round"/><circle cx="67.3" cy="243" r="2.8" fill="#dc5f62"/><circle cx="83.92" cy="243" r="2.8" fill="#dc5f62"/><circle cx="100.54" cy="243" r="2.8" fill="#dc5f62"/><circle cx="117.17" cy="243" r="2.8" fill="#dc5f62"/><circle cx="133.79" cy="243" r="2.8" fill="#dc5f62"/><circle cx="150.41" cy="243" r="2.8" fill="#dc5f62"/><circle cx="167.03" cy="243" r="2.8" fill="#dc5f62"/><circle cx="183.65" cy="243" r="2.8" fill="#dc5f62"/><circle cx="200.28" cy="243" r="2.8" fill="#dc5f62"/><circle cx="216.9" cy="243" r="2.8" fill="#dc5f62"/><circle cx="233.52" cy="243" r="2.8" fill="#dc5f62"/><circle cx="250.14" cy="231.11" r="2.8" fill="#dc5f62"/><circle cx="266.76" cy="231.11" r="2.8" fill="#dc5f62"/><circle cx="283.39" cy="225.16" r="2.8" fill="#dc5f62"/><circle cx="300.01" cy="219.22" r="2.8" fill="#dc5f62"/><circle cx="316.63" cy="219.22" r="2.8" fill="#dc5f62"/><circle cx="333.25" cy="207.33" r="2.8" fill="#dc5f62"/><circle cx="349.87" cy="207.33" r="2.8" fill="#dc5f62"/><circle cx="366.5" cy="201.38" r="2.8" fill="#dc5f62"/><circle cx="383.12" cy="195.44" r="2.8" fill="#dc5f62"/><circle cx="399.74" cy="195.44" r="2.8" fill="#dc5f62"/><circle cx="416.36" cy="189.49" r="2.8" fill="#dc5f62"/><circle cx="432.98" cy="183.55" r="2.8" fill="#dc5f62"/><circle cx="449.61" cy="177.6" r="2.8" fill="#dc5f62"/><circle cx="466.23" cy="165.71" r="2.8" fill="#dc5f62"/><circle cx="482.85" cy="165.71" r="2.8" fill="#dc5f62"/><path d="M67.3 239.3L70.7 245.3L63.9 245.3Z" fill="#5f8e26"/><path d="M83.92 239.3L87.32 245.3L80.52 245.3Z" fill="#5f8e26"/><path d="M100.54 239.3L103.94 245.3L97.14 245.3Z" fill="#5f8e26"/><path d="M117.17 239.3L120.57 245.3L113.77 245.3Z" fill="#5f8e26"/><path d="M133.79 239.3L137.19 245.3L130.39 245.3Z" fill="#5f8e26"/><path d="M150.41 239.3L153.81 245.3L147.01 245.3Z" fill="#5f8e26"/><path d="M167.03 233.35L170.43 239.35L163.63 239.35Z" fill="#5f8e26"/><path d="M183.65 233.35L187.05 239.35L180.25 239.35Z" fill="#5f8e26"/><path d="M200.28 233.35L203.68 239.35L196.88 239.35Z" fill="#5f8e26"/><path d="M216.9 227.41L220.3 233.41L213.5 233.41Z" fill="#5f8e26"/><path d="M233.52 221.46L236.92 227.46L230.12 227.46Z" fill="#5f8e26"/><path d="M250.14 215.52L253.54 221.52L246.74 221.52Z" fill="#5f8e26"/><path d="M266.76 215.52L270.16 221.52L263.36 221.52Z" fill="#5f8e26"/><path d="M283.39 215.52L286.79 221.52L279.99 221.52Z" fill="#5f8e26"/><path d="M300.01 209.57L303.41 215.57L296.61 215.57Z" fill="#5f8e26"/><path d="M316.63 203.63L320.03 209.63L313.23 209.63Z" fill="#5f8e26"/><path d="M333.25 203.63L336.65 209.63L329.85 209.63Z" fill="#5f8e26"/><path d="M349.87 197.68L353.27 203.68L346.47 203.68Z" fill="#5f8e26"/><path d="M366.5 191.74L369.9 197.74L363.1 197.74Z" fill="#5f8e26"/><path d="M383.12 185.79L386.52 191.79L379.72 191.79Z" fill="#5f8e26"/><path d="M399.74 179.85L403.14 185.85L396.34 185.85Z" fill="#5f8e26"/><path d="M416.36 173.9L419.76 179.9L412.96 179.9Z" fill="#5f8e26"/><path d="M432.98 173.9L436.38 179.9L429.58 179.9Z" fill="#5f8e26"/><path d="M449.61 173.9L453.01 179.9L446.21 179.9Z" fill="#5f8e26"/><path d="M466.23 167.96L469.63 173.96L462.83 173.96Z" fill="#5f8e26"/><path d="M482.85 167.96L486.25 173.96L479.45 173.96Z" fill="#5f8e26"/><rect x="64.5" y="240.2" width="5.6" height="5.6" fill="#7182d0"/><rect x="81.12" y="240.2" width="5.6" height="5.6" fill="#7182d0"/><rect x="97.74" y="240.2" width="5.6" height="5.6" fill="#7182d0"/><rect x="114.37" y="240.2" width="5.6" height="5.6" fill="#7182d0"/><rect x="130.99" y="240.2" width="5.6" height="5.6" fill="#7182d0"/><rect x="147.61" y="240.2" width="5.6" height="5.6" fill="#7182d0"/><rect x="164.23" y="240.2" width="5.6" height="5.6" fill="#1f9fae"/><rect x="180.85" y="222.36" width="5.6" height="5.6" fill="#1f9fae"/><rect x="197.48" y="204.53" width="5.6" height="5.6" fill="#1f9fae"/><rect x="214.1" y="192.64" width="5.6" height="5.6" fill="#1f9fae"/><rect x="230.72" y="180.75" width="5.6" height="5.6" fill="#1f9fae"/><rect x="247.34" y="168.86" width="5.6" height="5.6" fill="#1f9fae"/><rect x="263.96" y="162.91" width="5.6" height="5.6" fill="#1f9fae"/><rect x="280.59" y="162.91" width="5.6" height="5.6" fill="#1f9fae"/><rect x="297.21" y="156.97" width="5.6" height="5.6" fill="#1f9fae"/><rect x="313.83" y="151.02" width="5.6" height="5.6" fill="#1f9fae"/><rect x="330.45" y="151.02" width="5.6" height="5.6" fill="#1f9fae"/><rect x="347.07" y="151.02" width="5.6" height="5.6" fill="#1f9fae"/><rect x="363.7" y="151.02" width="5.6" height="5.6" fill="#1f9fae"/><rect x="380.32" y="145.08" width="5.6" height="5.6" fill="#1f9fae"/><rect x="396.94" y="133.19" width="5.6" height="5.6" fill="#1f9fae"/><rect x="413.56" y="133.19" width="5.6" height="5.6" fill="#1f9fae"/><rect x="430.18" y="121.3" width="5.6" height="5.6" fill="#1f9fae"/><rect x="446.81" y="115.35" width="5.6" height="5.6" fill="#1f9fae"/><rect x="463.43" y="103.46" width="5.6" height="5.6" fill="#1f9fae"/><rect x="480.05" y="103.46" width="5.6" height="5.6" fill="#1f9fae"/><path d="M63.1 243H71.5M67.3 238.7V247.3" stroke="#6676c4" stroke-width="1.4" fill="none"/><path d="M79.72 243H88.12M83.92 238.7V247.3" stroke="#6676c4" stroke-width="1.4" fill="none"/><path d="M96.34 243H104.74M100.54 238.7V247.3" stroke="#6676c4" stroke-width="1.4" fill="none"/><path d="M112.97 243H121.37M117.17 238.7V247.3" stroke="#6676c4" stroke-width="1.4" fill="none"/><path d="M129.59 243H137.99M133.79 238.7V247.3" stroke="#6676c4" stroke-width="1.4" fill="none"/><path d="M146.21 243H154.61M150.41 238.7V247.3" stroke="#6676c4" stroke-width="1.4" fill="none"/><path d="M162.83 237.05H171.23M167.03 232.75V241.35" stroke="#a57bd6" stroke-width="1.4" fill="none"/><path d="M179.45 213.27H187.85M183.65 208.97V217.57" stroke="#a57bd6" stroke-width="1.4" fill="none"/><path d="M196.08 189.49H204.48M200.28 185.19V193.79" stroke="#a57bd6" stroke-width="1.4" fill="none"/><path d="M212.7 165.71H221.1M216.9 161.41V170.01" stroke="#a57bd6" stroke-width="1.4" fill="none"/><path d="M229.32 135.99H237.72M233.52 131.69V140.29" stroke="#a57bd6" stroke-width="1.4" fill="none"/><path d="M245.94 124.1H254.34M250.14 119.8V128.4" stroke="#a57bd6" stroke-width="1.4" fill="none"/><path d="M262.56 124.1H270.96M266.76 119.8V128.4" stroke="#a57bd6" stroke-width="1.4" fill="none"/><path d="M279.19 118.15H287.59M283.39 113.85V122.45" stroke="#a57bd6" stroke-width="1.4" fill="none"/><path d="M295.81 106.26H304.21M300.01 101.96V110.56" stroke="#a57bd6" stroke-width="1.4" fill="none"/><path d="M312.43 94.37H320.83M316.63 90.07V98.67" stroke="#a57bd6" stroke-width="1.4" fill="none"/><path d="M329.05 88.43H337.45M333.25 84.13V92.73" stroke="#a57bd6" stroke-width="1.4" fill="none"/><path d="M345.67 88.43H354.07M349.87 84.13V92.73" stroke="#a57bd6" stroke-width="1.4" fill="none"/><path d="M362.3 76.54H370.7M366.5 72.24V80.84" stroke="#a57bd6" stroke-width="1.4" fill="none"/><path d="M378.92 76.54H387.32M383.12 72.24V80.84" stroke="#a57bd6" stroke-width="1.4" fill="none"/><path d="M395.54 70.59H403.94M399.74 66.29V74.89" stroke="#a57bd6" stroke-width="1.4" fill="none"/><path d="M412.16 70.59H420.56M416.36 66.29V74.89" stroke="#a57bd6" stroke-width="1.4" fill="none"/><path d="M428.78 46.81H437.18M432.98 42.51V51.11" stroke="#a57bd6" stroke-width="1.4" fill="none"/><path d="M445.41 34.92H453.81M449.61 30.62V39.22" stroke="#a57bd6" stroke-width="1.4" fill="none"/><path d="M462.03 23.03H470.43M466.23 18.73V27.33" stroke="#a57bd6" stroke-width="1.4" fill="none"/><path d="M478.65 23.03H487.05M482.85 18.73V27.33" stroke="#a57bd6" stroke-width="1.4" fill="none"/></g>
<g><rect x="576.6" y="12.7" width="434.45" height="240.7" fill="none" stroke="#666" stroke-width="1.3"/><path d="M586 253.4v4.6M602.62 253.4v4.6M619.23 253.4v4.6M635.85 253.4v4.6M652.46 253.4v4.6M669.08 253.4v4.6M685.7 253.4v4.6M702.31 253.4v4.6M718.93 253.4v4.6M735.54 253.4v4.6M752.16 253.4v4.6M768.78 253.4v4.6M785.39 253.4v4.6M802.01 253.4v4.6M818.62 253.4v4.6M835.24 253.4v4.6M851.86 253.4v4.6M868.47 253.4v4.6M885.09 253.4v4.6M901.7 253.4v4.6M918.32 253.4v4.6M934.94 253.4v4.6M951.55 253.4v4.6M968.17 253.4v4.6M984.78 253.4v4.6M1001.4 253.4v4.6" stroke="#262626" stroke-width="1.6" fill="none"/><path d="M576.6 243h-4.6M576.6 170.98h-4.6M576.6 98.97h-4.6M576.6 26.95h-4.6" stroke="#262626" stroke-width="1.6" fill="none"/><g font-family="Liberation Serif" font-size="14" fill="#000"><text x="586" y="272.2" text-anchor="middle">0</text><text x="669.08" y="272.2" text-anchor="middle">10</text><text x="752.16" y="272.2" text-anchor="middle">20</text><text x="835.24" y="272.2" text-anchor="middle">30</text><text x="918.32" y="272.2" text-anchor="middle">40</text><text x="1001.4" y="272.2" text-anchor="middle">50</text><text x="568.2" y="247.8" text-anchor="end">0</text><text x="568.2" y="175.78" text-anchor="end">20</text><text x="568.2" y="103.77" text-anchor="end">40</text><text x="568.2" y="31.75" text-anchor="end">60</text></g><text x="757.3" y="291.6" font-family="Liberation Serif" font-size="16" fill="#000">Time (days)</text><text transform="translate(540.9 119) rotate(-90)" text-anchor="middle" font-family="Liberation Serif" font-size="16" fill="#000">Germination (%)</text><text x="583.2" y="34.9" font-family="Liberation Serif" font-style="italic" font-size="16" fill="#000">Dryas octopetala</text><g transform="translate(588.4 43.2)"><g clip-path="url(#ph)"><g filter="url(#soft)"><rect width="82.5" height="82.2" fill="#b4aaa6"/><g filter="url(#b2)"><rect x="0" y="-3" width="82.5" height="9" fill="#4e4a40"/><ellipse cx="76" cy="26" rx="10" ry="30" fill="#2c3828"/><ellipse cx="66" cy="6" rx="16" ry="8" fill="#3a4c34"/><ellipse cx="28" cy="76" rx="26" ry="8" fill="#a0968f"/><ellipse cx="8" cy="22" rx="8" ry="12" fill="#c0b6b2"/><ellipse cx="6" cy="60" rx="8" ry="14" fill="#a89e9a"/></g><g><circle cx="1" cy="9.2" r="0.6" fill="#6f6864"/><circle cx="11.4" cy="9.2" r="0.5" fill="#857d79"/><circle cx="12.2" cy="60.9" r="0.8" fill="#857d79"/><circle cx="19.1" cy="60.2" r="0.7" fill="#857d79"/><circle cx="82.2" cy="7.7" r="0.4" fill="#5e5854"/><circle cx="28.2" cy="16.9" r="0.6" fill="#958d89"/><circle cx="78.8" cy="17.3" r="0.5" fill="#958d89"/><circle cx="54.7" cy="4.9" r="0.4" fill="#857d79"/><circle cx="29.3" cy="16.8" r="0.9" fill="#5e5854"/><circle cx="2.5" cy="60.4" r="0.9" fill="#857d79"/><circle cx="17.1" cy="35.5" r="0.6" fill="#cbc3bf"/><circle cx="52.9" cy="18" r="0.4" fill="#cbc3bf"/><circle cx="24.2" cy="47" r="0.7" fill="#cbc3bf"/><circle cx="79.3" cy="80.3" r="1" fill="#cbc3bf"/><circle cx="74" cy="46" r="1" fill="#cbc3bf"/><circle cx="7.7" cy="15.8" r="0.9" fill="#958d89"/><circle cx="30.9" cy="78.7" r="0.8" fill="#cbc3bf"/><circle cx="75.1" cy="53.4" r="1" fill="#857d79"/><circle cx="9.4" cy="16.7" r="0.6" fill="#5e5854"/><circle cx="65.1" cy="46.2" r="0.4" fill="#6f6864"/><circle cx="72" cy="52.4" r="1" fill="#857d79"/><circle cx="27.7" cy="58.6" r="0.9" fill="#5e5854"/><circle cx="4.8" cy="50.3" r="0.7" fill="#cbc3bf"/><circle cx="81" cy="40.3" r="0.7" fill="#6f6864"/><circle cx="40" cy="65.5" r="0.7" fill="#5e5854"/><circle cx="80.3" cy="63.1" r="0.5" fill="#5e5854"/><circle cx="28.8" cy="0.9" r="0.6" fill="#cbc3bf"/><circle cx="36.8" cy="81.6" r="0.4" fill="#958d89"/><circle cx="71.4" cy="4.1" r="0.7" fill="#857d79"/><circle cx="65.1" cy="77.8" r="0.9" fill="#857d79"/><circle cx="45.7" cy="45.9" r="0.7" fill="#958d89"/><circle cx="33.1" cy="43.1" r="0.8" fill="#5e5854"/><circle cx="25.4" cy="67.3" r="0.6" fill="#cbc3bf"/><circle cx="10.2" cy="64.4" r="0.8" fill="#cbc3bf"/><circle cx="56.9" cy="47.7" r="0.5" fill="#6f6864"/><circle cx="60.4" cy="17.1" r="0.5" fill="#cbc3bf"/><circle cx="16.9" cy="73.2" r="0.5" fill="#958d89"/><circle cx="20" cy="64" r="0.8" fill="#6f6864"/><circle cx="2.7" cy="50.5" r="0.9" fill="#cbc3bf"/><circle cx="44.3" cy="35.7" r="0.8" fill="#857d79"/><circle cx="33.1" cy="67.2" r="0.6" fill="#857d79"/><circle cx="19.8" cy="26.5" r="0.5" fill="#cbc3bf"/><circle cx="9.3" cy="17.8" r="1" fill="#958d89"/><circle cx="57.2" cy="73" r="0.6" fill="#cbc3bf"/><circle cx="54.3" cy="34.3" r="0.4" fill="#857d79"/><circle cx="24.5" cy="38.9" r="0.4" fill="#6f6864"/><circle cx="22.9" cy="22.4" r="0.5" fill="#857d79"/><circle cx="47.8" cy="33.2" r="0.9" fill="#857d79"/><circle cx="19.7" cy="11.7" r="0.8" fill="#cbc3bf"/><circle cx="70.1" cy="55.1" r="0.8" fill="#6f6864"/><circle cx="30.8" cy="44.6" r="1" fill="#5e5854"/><circle cx="42.8" cy="70.6" r="0.6" fill="#5e5854"/><circle cx="32.8" cy="17.5" r="0.9" fill="#5e5854"/><circle cx="4" cy="46.9" r="1" fill="#857d79"/><circle cx="4" cy="78.5" r="0.8" fill="#cbc3bf"/><circle cx="22.5" cy="8.9" r="0.7" fill="#cbc3bf"/><circle cx="20.5" cy="40.4" r="1" fill="#857d79"/><circle cx="63.2" cy="25.4" r="0.9" fill="#5e5854"/><circle cx="18.6" cy="70.8" r="0.7" fill="#6f6864"/><circle cx="1.9" cy="66" r="0.6" fill="#5e5854"/><circle cx="62.6" cy="54.8" r="0.4" fill="#cbc3bf"/><circle cx="19.4" cy="81.6" r="0.7" fill="#cbc3bf"/><circle cx="4.7" cy="46.8" r="0.9" fill="#cbc3bf"/><circle cx="51.1" cy="16.6" r="0.5" fill="#6f6864"/><circle cx="56.4" cy="69" r="0.4" fill="#5e5854"/><circle cx="37.2" cy="33" r="0.9" fill="#958d89"/><circle cx="75.1" cy="35.2" r="0.7" fill="#6f6864"/><circle cx="37.4" cy="11.3" r="0.7" fill="#857d79"/><circle cx="10.3" cy="31.3" r="0.5" fill="#cbc3bf"/><circle cx="28.1" cy="75.5" r="0.9" fill="#cbc3bf"/><circle cx="49.3" cy="67.5" r="0.6" fill="#6f6864"/><circle cx="15.4" cy="18.6" r="0.5" fill="#857d79"/><circle cx="9.6" cy="70" r="0.8" fill="#cbc3bf"/><circle cx="21.9" cy="64.1" r="0.6" fill="#6f6864"/><circle cx="42" cy="27.4" r="0.9" fill="#5e5854"/><circle cx="39.3" cy="11.8" r="0.6" fill="#857d79"/><circle cx="5.1" cy="49.4" r="0.6" fill="#cbc3bf"/><circle cx="45.3" cy="63.6" r="0.4" fill="#958d89"/><circle cx="67.4" cy="57.4" r="0.5" fill="#958d89"/><circle cx="48.8" cy="63.1" r="0.5" fill="#958d89"/><circle cx="25.1" cy="32" r="0.6" fill="#cbc3bf"/><circle cx="70.6" cy="80.2" r="0.5" fill="#6f6864"/><circle cx="53.3" cy="13.8" r="0.8" fill="#857d79"/><circle cx="39.2" cy="43.9" r="0.9" fill="#857d79"/><circle cx="35.1" cy="79.5" r="0.5" fill="#958d89"/><circle cx="11" cy="72.1" r="0.6" fill="#5e5854"/><circle cx="40.3" cy="16.4" r="0.7" fill="#6f6864"/><circle cx="41.2" cy="54.5" r="0.5" fill="#857d79"/><circle cx="39.9" cy="25.3" r="0.5" fill="#6f6864"/><circle cx="60.9" cy="48.6" r="0.6" fill="#857d79"/><circle cx="64.9" cy="5.8" r="0.9" fill="#958d89"/><circle cx="23.9" cy="13.9" r="0.4" fill="#6f6864"/><circle cx="70" cy="28.6" r="0.5" fill="#6f6864"/><circle cx="30.6" cy="34.1" r="0.7" fill="#cbc3bf"/><circle cx="33" cy="8.1" r="0.4" fill="#857d79"/><circle cx="42.4" cy="13.3" r="0.4" fill="#6f6864"/><circle cx="44.8" cy="32.5" r="0.5" fill="#6f6864"/><circle cx="26.8" cy="20.5" r="0.9" fill="#958d89"/><circle cx="39" cy="63.8" r="0.7" fill="#5e5854"/><circle cx="59.2" cy="72.5" r="0.5" fill="#cbc3bf"/><circle cx="58.7" cy="51.9" r="0.5" fill="#857d79"/><circle cx="46.8" cy="12.2" r="0.8" fill="#6f6864"/><circle cx="74.1" cy="23.1" r="0.5" fill="#857d79"/><circle cx="28.4" cy="13.2" r="0.7" fill="#cbc3bf"/><circle cx="77.5" cy="22.8" r="0.6" fill="#cbc3bf"/><circle cx="79.9" cy="38.3" r="0.8" fill="#5e5854"/><circle cx="16.5" cy="34.1" r="0.7" fill="#6f6864"/><circle cx="1.4" cy="43.9" r="0.7" fill="#958d89"/><circle cx="78.4" cy="38.8" r="0.4" fill="#958d89"/><circle cx="57.8" cy="78" r="0.9" fill="#5e5854"/><circle cx="40.5" cy="43.2" r="0.7" fill="#6f6864"/><circle cx="19.8" cy="56.5" r="1" fill="#cbc3bf"/><circle cx="62.1" cy="32.6" r="0.4" fill="#857d79"/><circle cx="13.1" cy="49.5" r="0.6" fill="#5e5854"/><circle cx="79" cy="10.5" r="0.8" fill="#958d89"/><circle cx="44.2" cy="28.1" r="0.5" fill="#cbc3bf"/><circle cx="57.3" cy="51.4" r="0.4" fill="#5e5854"/><circle cx="32.9" cy="38.2" r="0.7" fill="#5e5854"/><circle cx="9.6" cy="41.7" r="0.8" fill="#5e5854"/><circle cx="63.8" cy="76.7" r="0.5" fill="#cbc3bf"/><circle cx="30.6" cy="13.3" r="0.5" fill="#cbc3bf"/><circle cx="72.7" cy="9.8" r="0.5" fill="#6f6864"/><circle cx="5.6" cy="17.8" r="0.4" fill="#958d89"/><circle cx="36.3" cy="20.8" r="0.8" fill="#958d89"/><circle cx="31.5" cy="71.4" r="0.4" fill="#958d89"/><circle cx="16.4" cy="21.1" r="0.6" fill="#6f6864"/><circle cx="7.2" cy="6.1" r="0.4" fill="#5e5854"/><circle cx="64.4" cy="81.1" r="0.6" fill="#cbc3bf"/><circle cx="67.4" cy="81.9" r="0.4" fill="#857d79"/><circle cx="72.4" cy="69.4" r="0.9" fill="#5e5854"/><circle cx="18.5" cy="38.7" r="0.8" fill="#857d79"/><circle cx="46.5" cy="53" r="0.4" fill="#6f6864"/><circle cx="57.5" cy="68.1" r="1" fill="#958d89"/><circle cx="42.8" cy="51.3" r="0.4" fill="#5e5854"/><circle cx="75.8" cy="47" r="0.7" fill="#6f6864"/><circle cx="57" cy="32.2" r="0.7" fill="#6f6864"/><circle cx="62.2" cy="39.6" r="0.7" fill="#cbc3bf"/><circle cx="54.6" cy="49.6" r="0.6" fill="#cbc3bf"/><circle cx="8" cy="46.1" r="0.4" fill="#6f6864"/><circle cx="75" cy="67" r="0.5" fill="#5e5854"/><circle cx="11" cy="63.9" r="0.8" fill="#958d89"/><circle cx="66.2" cy="57.9" r="0.6" fill="#cbc3bf"/><circle cx="55.2" cy="32.7" r="0.5" fill="#958d89"/><circle cx="58.7" cy="17.3" r="0.6" fill="#6f6864"/><circle cx="57.4" cy="56.2" r="0.7" fill="#cbc3bf"/><circle cx="44.9" cy="77.2" r="0.8" fill="#857d79"/><circle cx="46.1" cy="59" r="0.9" fill="#6f6864"/><circle cx="43" cy="70.3" r="0.8" fill="#958d89"/><circle cx="27.7" cy="62.8" r="0.5" fill="#958d89"/><circle cx="35.9" cy="48.5" r="0.8" fill="#958d89"/><circle cx="79.9" cy="81.9" r="1" fill="#cbc3bf"/><circle cx="6" cy="68.1" r="0.5" fill="#cbc3bf"/><circle cx="30.7" cy="78.2" r="0.8" fill="#5e5854"/><circle cx="2.6" cy="51.7" r="1" fill="#958d89"/><circle cx="48.1" cy="25.3" r="0.6" fill="#5e5854"/><circle cx="35.9" cy="26.4" r="0.8" fill="#857d79"/><circle cx="8.7" cy="68.1" r="0.8" fill="#857d79"/><circle cx="51.1" cy="73.7" r="0.6" fill="#5e5854"/><circle cx="47.1" cy="81.8" r="0.7" fill="#cbc3bf"/><circle cx="44" cy="56.1" r="0.4" fill="#857d79"/><circle cx="35.4" cy="29.5" r="0.8" fill="#6f6864"/><circle cx="42.2" cy="20.9" r="0.5" fill="#6f6864"/><circle cx="60.4" cy="71.3" r="0.7" fill="#6f6864"/><circle cx="69.4" cy="33.1" r="0.7" fill="#857d79"/><circle cx="53" cy="29.8" r="0.5" fill="#cbc3bf"/><circle cx="52.9" cy="53" r="0.6" fill="#857d79"/><circle cx="36.3" cy="60.1" r="0.7" fill="#958d89"/><circle cx="45.4" cy="55.3" r="0.7" fill="#857d79"/><circle cx="38.3" cy="38" r="0.4" fill="#5e5854"/><circle cx="42.1" cy="75.1" r="0.5" fill="#cbc3bf"/><circle cx="41.5" cy="8.7" r="0.4" fill="#6f6864"/><circle cx="67.4" cy="55.8" r="0.9" fill="#6f6864"/><circle cx="3.9" cy="40.6" r="1" fill="#cbc3bf"/><circle cx="23.5" cy="11.5" r="0.4" fill="#857d79"/><circle cx="1.9" cy="38.9" r="1" fill="#857d79"/><circle cx="54.1" cy="68.4" r="1" fill="#cbc3bf"/><circle cx="31.1" cy="11.7" r="0.5" fill="#cbc3bf"/><circle cx="11.2" cy="43.8" r="0.7" fill="#857d79"/><circle cx="20.3" cy="59" r="0.8" fill="#958d89"/><circle cx="46.9" cy="65.3" r="0.8" fill="#958d89"/><circle cx="70.8" cy="73" r="0.7" fill="#6f6864"/><circle cx="22.7" cy="18.7" r="0.7" fill="#857d79"/><circle cx="29.4" cy="47.2" r="0.9" fill="#6f6864"/><circle cx="37.1" cy="4.6" r="0.9" fill="#857d79"/><circle cx="0.9" cy="29.3" r="1" fill="#6f6864"/><circle cx="55.4" cy="73.1" r="0.6" fill="#5e5854"/><circle cx="37.8" cy="21.5" r="0.5" fill="#5e5854"/><circle cx="29.5" cy="63.6" r="0.9" fill="#cbc3bf"/><circle cx="49.3" cy="11.2" r="0.4" fill="#958d89"/><circle cx="19.8" cy="37.8" r="0.6" fill="#958d89"/><circle cx="31" cy="22.1" r="0.8" fill="#6f6864"/><circle cx="28.8" cy="42" r="0.4" fill="#5e5854"/><circle cx="53.7" cy="6.1" r="1" fill="#958d89"/><circle cx="25" cy="70.3" r="0.5" fill="#857d79"/><circle cx="74.3" cy="79.8" r="0.6" fill="#958d89"/><circle cx="48.1" cy="4.2" r="0.8" fill="#5e5854"/><circle cx="53" cy="74.2" r="1" fill="#cbc3bf"/><circle cx="77.1" cy="16.4" r="1" fill="#5e5854"/><circle cx="80.7" cy="36.3" r="0.7" fill="#857d79"/><circle cx="3.7" cy="33.9" r="0.7" fill="#857d79"/><circle cx="15" cy="7.8" r="0.6" fill="#5e5854"/><circle cx="11.1" cy="15.4" r="0.5" fill="#958d89"/><circle cx="60.3" cy="1.7" r="0.5" fill="#857d79"/><circle cx="5.1" cy="67.9" r="0.7" fill="#6f6864"/><circle cx="42.9" cy="70.7" r="0.7" fill="#5e5854"/><circle cx="65.4" cy="31.1" r="0.7" fill="#958d89"/><circle cx="59.8" cy="13.3" r="1" fill="#857d79"/><circle cx="26" cy="67.2" r="0.9" fill="#6f6864"/><circle cx="32" cy="6" r="1" fill="#857d79"/><circle cx="66.7" cy="31.5" r="0.4" fill="#857d79"/><circle cx="15.4" cy="8.3" r="0.4" fill="#cbc3bf"/><circle cx="56.1" cy="81.4" r="0.7" fill="#cbc3bf"/><circle cx="42.9" cy="75.8" r="0.5" fill="#5e5854"/><circle cx="56.8" cy="2.3" r="0.5" fill="#5e5854"/><circle cx="64.8" cy="77.4" r="0.4" fill="#958d89"/><circle cx="37" cy="48.6" r="0.8" fill="#5e5854"/><circle cx="59.2" cy="2.8" r="0.4" fill="#5e5854"/><circle cx="45.4" cy="82.2" r="0.9" fill="#cbc3bf"/><circle cx="69.7" cy="4.3" r="0.9" fill="#6f6864"/><circle cx="45.4" cy="24.2" r="1" fill="#857d79"/><circle cx="63.7" cy="48.6" r="0.9" fill="#cbc3bf"/><circle cx="70.3" cy="35.7" r="1" fill="#cbc3bf"/><circle cx="34.7" cy="30.8" r="0.6" fill="#cbc3bf"/><circle cx="22.5" cy="0.5" r="0.8" fill="#6f6864"/><circle cx="68.1" cy="24.4" r="0.9" fill="#5e5854"/><circle cx="82.1" cy="58.7" r="0.8" fill="#5e5854"/><circle cx="9.1" cy="19.6" r="0.7" fill="#958d89"/><circle cx="10.2" cy="45.4" r="0.8" fill="#cbc3bf"/><circle cx="7.5" cy="71.3" r="0.6" fill="#857d79"/><circle cx="26.9" cy="37.3" r="1" fill="#958d89"/><circle cx="22.2" cy="30.2" r="0.6" fill="#857d79"/><circle cx="1.6" cy="53.1" r="0.6" fill="#6f6864"/><circle cx="73.2" cy="29" r="0.6" fill="#5e5854"/><circle cx="50.8" cy="36.5" r="0.4" fill="#cbc3bf"/><circle cx="53.9" cy="19.8" r="1" fill="#6f6864"/><circle cx="9.8" cy="16.9" r="0.4" fill="#cbc3bf"/><circle cx="40.7" cy="40.6" r="0.4" fill="#857d79"/><circle cx="80.1" cy="1.1" r="1" fill="#5e5854"/><circle cx="56.3" cy="52.4" r="0.5" fill="#6f6864"/><circle cx="33.8" cy="71.4" r="0.4" fill="#857d79"/><circle cx="13.1" cy="15.3" r="0.6" fill="#cbc3bf"/><circle cx="64" cy="32.8" r="0.8" fill="#857d79"/><circle cx="67" cy="35.5" r="0.6" fill="#cbc3bf"/><circle cx="6.6" cy="37.9" r="0.6" fill="#6f6864"/><circle cx="1.9" cy="30.1" r="0.8" fill="#5e5854"/><circle cx="39.7" cy="21.2" r="0.4" fill="#cbc3bf"/><circle cx="57.5" cy="19.8" r="0.8" fill="#857d79"/><circle cx="74.8" cy="32.1" r="0.4" fill="#cbc3bf"/><circle cx="52.7" cy="35.3" r="0.5" fill="#6f6864"/><circle cx="0.8" cy="42.9" r="0.8" fill="#6f6864"/><circle cx="11.2" cy="77.2" r="0.5" fill="#857d79"/><circle cx="50.6" cy="25.3" r="0.9" fill="#857d79"/><circle cx="65.8" cy="65.6" r="0.7" fill="#cbc3bf"/><circle cx="26.9" cy="4.4" r="1" fill="#6f6864"/><circle cx="32.3" cy="54.2" r="0.9" fill="#958d89"/><circle cx="11.7" cy="58" r="0.8" fill="#857d79"/><circle cx="69.4" cy="1.2" r="0.5" fill="#958d89"/><circle cx="19.9" cy="11.3" r="0.9" fill="#5e5854"/><circle cx="69.1" cy="6.3" r="0.8" fill="#857d79"/><circle cx="39.1" cy="34.3" r="0.9" fill="#857d79"/></g><g filter="url(#b05)" fill="#f5f3ec"><ellipse cx="33" cy="21" rx="13" ry="14"/><ellipse cx="55" cy="17" rx="12" ry="12"/><ellipse cx="69" cy="43" rx="12" ry="19"/><ellipse cx="41" cy="64" rx="20" ry="10"/><ellipse cx="19" cy="42" rx="10" ry="15"/><circle cx="45" cy="42" r="24"/></g><g fill="none" stroke="#d8d6ce" stroke-width="0.8" opacity="0.8"><path d="M24 30 Q34 28 40 34 M58 28 Q60 36 56 40 M30 58 Q40 54 46 58 M64 58 Q58 56 56 52"/></g><ellipse cx="26" cy="32" rx="9" ry="8" fill="#ffffff" filter="url(#b2)"/><circle cx="48.4" cy="43" r="16" fill="#e6b828" filter="url(#b1)"/><g><path d="M55.4 46.7L55.9 49" stroke="#e8b020" stroke-width="1.2" stroke-linecap="round"/><path d="M54.6 44L55.9 45.4" stroke="#f4d040" stroke-width="1.2" stroke-linecap="round"/><path d="M35.8 41.2L33.6 41.9" stroke="#f4d040" stroke-width="1.2" stroke-linecap="round"/><path d="M37 39.9L35.5 40.4" stroke="#d49a10" stroke-width="1.2" stroke-linecap="round"/><path d="M55 32.1L55.3 32.3" stroke="#f4d040" stroke-width="1.2" stroke-linecap="round"/><path d="M58.4 45.2L60.3 47.2" stroke="#e8b020" stroke-width="1.2" stroke-linecap="round"/><path d="M54.3 44.9L55.7 46.3" stroke="#f8e070" stroke-width="1.2" stroke-linecap="round"/><path d="M47 33.1L47.8 32.9" stroke="#f8e070" stroke-width="1.2" stroke-linecap="round"/><path d="M38.8 38.6L37.3 38.4" stroke="#d49a10" stroke-width="1.2" stroke-linecap="round"/><path d="M46.8 49.5L45.3 51.7" stroke="#f8e070" stroke-width="1.2" stroke-linecap="round"/><path d="M42.5 45.9L40.9 46.9" stroke="#e8b020" stroke-width="1.2" stroke-linecap="round"/><path d="M55.1 54.1L56.7 56.8" stroke="#f8e070" stroke-width="1.2" stroke-linecap="round"/><path d="M56.6 45.6L58.1 47" stroke="#f4d040" stroke-width="1.2" stroke-linecap="round"/><path d="M38.3 43.7L36.6 44.9" stroke="#f8e070" stroke-width="1.2" stroke-linecap="round"/><path d="M35.7 43.7L33.5 44.2" stroke="#d49a10" stroke-width="1.2" stroke-linecap="round"/><path d="M49.8 52.1L50.4 55.1" stroke="#d49a10" stroke-width="1.2" stroke-linecap="round"/><path d="M38.8 35.7L37.2 36.1" stroke="#d49a10" stroke-width="1.2" stroke-linecap="round"/><path d="M58.3 41L59.1 41.7" stroke="#d49a10" stroke-width="1.2" stroke-linecap="round"/><path d="M50.1 34.4L52.1 34.3" stroke="#e8b020" stroke-width="1.2" stroke-linecap="round"/><path d="M37.9 50.5L36.4 51.5" stroke="#f8e070" stroke-width="1.2" stroke-linecap="round"/><path d="M58.3 48.7L60.6 50.8" stroke="#f8e070" stroke-width="1.2" stroke-linecap="round"/><path d="M36 44.4L34.7 44.9" stroke="#f4d040" stroke-width="1.2" stroke-linecap="round"/><path d="M38.8 35.3L36.7 35.7" stroke="#d49a10" stroke-width="1.2" stroke-linecap="round"/><path d="M43.1 32.6L42.2 32.8" stroke="#f8e070" stroke-width="1.2" stroke-linecap="round"/><path d="M52.4 53.3L52.4 55.5" stroke="#f4d040" stroke-width="1.2" stroke-linecap="round"/><path d="M36.5 46.8L35.7 47.8" stroke="#f8e070" stroke-width="1.2" stroke-linecap="round"/><path d="M54.9 43.7L56.1 45.6" stroke="#f4d040" stroke-width="1.2" stroke-linecap="round"/><path d="M35.5 42.8L33.6 42.9" stroke="#f4d040" stroke-width="1.2" stroke-linecap="round"/><path d="M45.8 50.2L44.8 52" stroke="#f4d040" stroke-width="1.2" stroke-linecap="round"/><path d="M53.6 54.9L54.7 58" stroke="#f8e070" stroke-width="1.2" stroke-linecap="round"/><path d="M41.1 51.3L39.9 53" stroke="#f4d040" stroke-width="1.2" stroke-linecap="round"/><path d="M41.8 36.7L41.3 37.3" stroke="#d49a10" stroke-width="1.2" stroke-linecap="round"/><path d="M57.2 50L58.7 52.2" stroke="#e8b020" stroke-width="1.2" stroke-linecap="round"/><path d="M58.8 46.6L60.8 48.8" stroke="#d49a10" stroke-width="1.2" stroke-linecap="round"/><path d="M54.3 36.7L56.1 37.4" stroke="#f4d040" stroke-width="1.2" stroke-linecap="round"/><path d="M42.8 54.5L41.9 57.5" stroke="#d49a10" stroke-width="1.2" stroke-linecap="round"/><path d="M52.7 36.4L54 37.3" stroke="#f4d040" stroke-width="1.2" stroke-linecap="round"/><path d="M36.9 40.7L35.4 41.7" stroke="#f8e070" stroke-width="1.2" stroke-linecap="round"/><path d="M44.7 55.4L44.8 58.4" stroke="#e8b020" stroke-width="1.2" stroke-linecap="round"/><path d="M52 48.2L52.8 50.3" stroke="#f4d040" stroke-width="1.2" stroke-linecap="round"/><path d="M51.7 32.7L51.8 32.4" stroke="#d49a10" stroke-width="1.2" stroke-linecap="round"/><path d="M45.1 52.7L44.3 55.2" stroke="#f4d040" stroke-width="1.2" stroke-linecap="round"/><path d="M37.4 38.4L35.1 38.8" stroke="#d49a10" stroke-width="1.2" stroke-linecap="round"/><path d="M55.9 38.1L56.8 38.8" stroke="#d49a10" stroke-width="1.2" stroke-linecap="round"/><path d="M51 31.8L52.1 31.6" stroke="#f8e070" stroke-width="1.2" stroke-linecap="round"/><path d="M43.1 40.3L41.5 40.8" stroke="#f4d040" stroke-width="1.2" stroke-linecap="round"/><path d="M49.9 55.3L49.9 57.9" stroke="#f4d040" stroke-width="1.2" stroke-linecap="round"/><path d="M40.5 35L39.8 34.3" stroke="#f4d040" stroke-width="1.2" stroke-linecap="round"/><path d="M42.7 41.1L40.3 41.8" stroke="#d49a10" stroke-width="1.2" stroke-linecap="round"/><path d="M56.8 51L57.1 54.3" stroke="#d49a10" stroke-width="1.2" stroke-linecap="round"/><path d="M38.7 49.6L38.1 51.4" stroke="#d49a10" stroke-width="1.2" stroke-linecap="round"/><path d="M52.6 51.5L53.1 54.1" stroke="#d49a10" stroke-width="1.2" stroke-linecap="round"/><path d="M52.7 53.1L52.8 55.7" stroke="#f4d040" stroke-width="1.2" stroke-linecap="round"/><path d="M57.3 51.2L58.9 53.6" stroke="#f4d040" stroke-width="1.2" stroke-linecap="round"/><path d="M36 41.1L35 41.9" stroke="#e8b020" stroke-width="1.2" stroke-linecap="round"/><path d="M44.1 35L43.1 35.2" stroke="#d49a10" stroke-width="1.2" stroke-linecap="round"/><path d="M37.5 45.5L36 46.6" stroke="#f8e070" stroke-width="1.2" stroke-linecap="round"/><path d="M40.7 44.8L39.6 45.6" stroke="#d49a10" stroke-width="1.2" stroke-linecap="round"/><path d="M41 47.8L38.9 49.8" stroke="#f4d040" stroke-width="1.2" stroke-linecap="round"/><path d="M41.1 45.5L40.3 47" stroke="#e8b020" stroke-width="1.2" stroke-linecap="round"/><path d="M51.9 31.8L52.4 30.9" stroke="#e8b020" stroke-width="1.2" stroke-linecap="round"/><path d="M41.9 32L41.2 31.6" stroke="#f4d040" stroke-width="1.2" stroke-linecap="round"/><path d="M60.5 39L62.4 41.1" stroke="#f8e070" stroke-width="1.2" stroke-linecap="round"/><path d="M36.8 46.3L35.3 47" stroke="#f8e070" stroke-width="1.2" stroke-linecap="round"/><path d="M53.6 36.1L55.5 37" stroke="#f4d040" stroke-width="1.2" stroke-linecap="round"/><path d="M41.6 43L40.8 43.5" stroke="#f4d040" stroke-width="1.2" stroke-linecap="round"/><path d="M45.2 52.2L45.2 54.2" stroke="#f4d040" stroke-width="1.2" stroke-linecap="round"/><path d="M52 52.2L51.6 54.2" stroke="#d49a10" stroke-width="1.2" stroke-linecap="round"/><path d="M39 51.1L37.6 53.1" stroke="#d49a10" stroke-width="1.2" stroke-linecap="round"/><path d="M41.3 32.2L40.5 31.5" stroke="#f8e070" stroke-width="1.2" stroke-linecap="round"/><path d="M46 33.7L45.5 33.8" stroke="#e8b020" stroke-width="1.2" stroke-linecap="round"/><path d="M38.1 47.3L36.5 48.6" stroke="#f8e070" stroke-width="1.2" stroke-linecap="round"/><path d="M42.5 33.9L41.9 34.6" stroke="#f4d040" stroke-width="1.2" stroke-linecap="round"/><path d="M59.9 40.2L61 41" stroke="#f4d040" stroke-width="1.2" stroke-linecap="round"/><path d="M52.2 33.1L52.5 33.6" stroke="#d49a10" stroke-width="1.2" stroke-linecap="round"/><path d="M54.4 46.5L55.3 49.1" stroke="#f4d040" stroke-width="1.2" stroke-linecap="round"/><path d="M41 50.9L39.7 53.8" stroke="#d49a10" stroke-width="1.2" stroke-linecap="round"/><path d="M59.2 43.6L60.9 45.1" stroke="#f8e070" stroke-width="1.2" stroke-linecap="round"/><path d="M39.8 38L38.7 38" stroke="#f4d040" stroke-width="1.2" stroke-linecap="round"/><path d="M50 37.1L50.4 36.5" stroke="#e8b020" stroke-width="1.2" stroke-linecap="round"/><path d="M48.7 36.7L48.2 36.2" stroke="#f4d040" stroke-width="1.2" stroke-linecap="round"/><path d="M55.1 48.3L56.3 50.5" stroke="#f4d040" stroke-width="1.2" stroke-linecap="round"/><path d="M61.3 43.6L62.9 45.2" stroke="#e8b020" stroke-width="1.2" stroke-linecap="round"/><path d="M41.5 44.2L40 45.1" stroke="#f8e070" stroke-width="1.2" stroke-linecap="round"/><path d="M40.8 42.6L39.9 43.2" stroke="#d49a10" stroke-width="1.2" stroke-linecap="round"/><path d="M45.9 54.1L44.1 56.5" stroke="#d49a10" stroke-width="1.2" stroke-linecap="round"/><path d="M38.7 37.3L38.3 36.6" stroke="#d49a10" stroke-width="1.2" stroke-linecap="round"/><path d="M43.4 33.7L43 34" stroke="#d49a10" stroke-width="1.2" stroke-linecap="round"/><path d="M44.9 31.1L44.8 30.1" stroke="#f8e070" stroke-width="1.2" stroke-linecap="round"/><path d="M37.3 38.8L35 39.2" stroke="#e8b020" stroke-width="1.2" stroke-linecap="round"/><path d="M46 52.9L46.1 55.9" stroke="#f4d040" stroke-width="1.2" stroke-linecap="round"/><path d="M38 42.9L35.8 43.8" stroke="#f8e070" stroke-width="1.2" stroke-linecap="round"/><path d="M39.4 49.7L37.8 51.6" stroke="#f8e070" stroke-width="1.2" stroke-linecap="round"/><path d="M39.6 41.8L38.6 42.7" stroke="#f8e070" stroke-width="1.2" stroke-linecap="round"/><path d="M55.9 33L57.6 33" stroke="#d49a10" stroke-width="1.2" stroke-linecap="round"/><path d="M51.9 37.7L52.6 37.6" stroke="#d49a10" stroke-width="1.2" stroke-linecap="round"/><path d="M51 35.2L52.1 34.6" stroke="#d49a10" stroke-width="1.2" stroke-linecap="round"/><path d="M45.2 49L44 50.8" stroke="#f8e070" stroke-width="1.2" stroke-linecap="round"/><path d="M46.5 32.3L46 31.7" stroke="#d49a10" stroke-width="1.2" stroke-linecap="round"/><path d="M54.6 33.3L56.2 34.1" stroke="#f4d040" stroke-width="1.2" stroke-linecap="round"/><path d="M52.3 47.8L53.1 50.2" stroke="#e8b020" stroke-width="1.2" stroke-linecap="round"/><path d="M59.9 37.7L61.4 38.3" stroke="#e8b020" stroke-width="1.2" stroke-linecap="round"/><path d="M53.1 54.9L52.9 56.8" stroke="#d49a10" stroke-width="1.2" stroke-linecap="round"/><path d="M47.4 31.4L48.7 31.3" stroke="#f8e070" stroke-width="1.2" stroke-linecap="round"/><path d="M40 49.8L38.9 51.1" stroke="#d49a10" stroke-width="1.2" stroke-linecap="round"/><path d="M41.4 51.7L39.6 53.8" stroke="#f8e070" stroke-width="1.2" stroke-linecap="round"/><path d="M52.8 37.7L53.8 38" stroke="#f4d040" stroke-width="1.2" stroke-linecap="round"/><path d="M55.5 46.8L56.7 49.6" stroke="#d49a10" stroke-width="1.2" stroke-linecap="round"/><path d="M56 45.6L56.7 48.1" stroke="#f4d040" stroke-width="1.2" stroke-linecap="round"/><path d="M36.5 41.2L34.7 42.1" stroke="#d49a10" stroke-width="1.2" stroke-linecap="round"/></g><circle cx="48.4" cy="42.5" r="5.5" fill="#b0a040" filter="url(#b05)"/></g></g></g><rect x="588.4" y="130.9" width="46.2" height="84.1" fill="#fff" stroke="#6a6a6a" stroke-width="1.1"/><path d="M593 141.2h17" stroke="#d8787a" stroke-width="1.3"/><circle cx="601.5" cy="141.2" r="2.8" fill="#dc5f62"/><text x="616.4" y="147.2" font-family="Liberation Serif" font-size="16" fill="#000">A</text><path d="M593 162.2h17" stroke="#7a9548" stroke-width="1.3"/><path d="M601.5 158.5L604.9 164.5L598.1 164.5Z" fill="#5f8e26"/><text x="616.4" y="168.2" font-family="Liberation Serif" font-size="16" fill="#000">B</text><path d="M593 183.2h17" stroke="#4a9ea6" stroke-width="1.3"/><rect x="598.7" y="180.4" width="5.6" height="5.6" fill="#1f9fae"/><text x="616.4" y="189.2" font-family="Liberation Serif" font-size="16" fill="#000">C</text><path d="M593 204.2h17" stroke="#a086c8" stroke-width="1.3"/><path d="M597.3 204.2H605.7M601.5 199.9V208.5" stroke="#a57bd6" stroke-width="1.4" fill="none"/><text x="616.4" y="210.2" font-family="Liberation Serif" font-size="16" fill="#000">D</text><polyline points="586,243 602.62,243 619.23,243 635.85,243 652.46,181.79 669.08,145.78 685.7,84.56 702.31,73.76 718.93,73.76 735.54,73.76 752.16,73.76 768.78,66.56 785.39,66.56 802.01,66.56 818.62,66.56 835.24,62.96 851.86,59.36 868.47,59.36 885.09,59.36 901.7,59.36 918.32,59.36 934.94,59.36 951.55,59.36 968.17,59.36 984.78,59.36 1001.4,59.36" fill="none" stroke="#d8787a" stroke-width="1.15" stroke-linejoin="round"/><polyline points="586,243 602.62,243 619.23,243 635.85,243 652.46,243 669.08,243 685.7,77.36 702.31,66.56 718.93,66.56 735.54,66.56 752.16,59.36 768.78,52.16 785.39,52.16 802.01,52.16 818.62,52.16 835.24,48.56 851.86,48.56 868.47,48.56 885.09,48.56 901.7,48.56 918.32,48.56 934.94,48.56 951.55,48.56 968.17,48.56 984.78,48.56 1001.4,48.56" fill="none" stroke="#7a9548" stroke-width="1.15" stroke-linejoin="round"/><polyline points="586,243 602.62,243 619.23,243 635.85,243 652.46,243 669.08,228.6 685.7,138.58 702.31,109.77 718.93,106.17 735.54,106.17 752.16,106.17 768.78,106.17 785.39,106.17 802.01,106.17 818.62,106.17 835.24,106.17 851.86,102.57 868.47,102.57 885.09,102.57 901.7,102.57 918.32,102.57 934.94,102.57 951.55,102.57 968.17,102.57 984.78,102.57 1001.4,102.57" fill="none" stroke="#4a9ea6" stroke-width="1.15" stroke-linejoin="round"/><polyline points="586,243 602.62,243 619.23,243 635.85,243 652.46,239.4 669.08,232.2 685.7,70.16 702.31,37.75 718.93,30.55 735.54,23.35 752.16,23.35 768.78,23.35 785.39,23.35 802.01,23.35 818.62,23.35 835.24,23.35 851.86,23.35 868.47,23.35 885.09,23.35 901.7,23.35 918.32,23.35 934.94,23.35 951.55,23.35 968.17,23.35 984.78,23.35 1001.4,23.35" fill="none" stroke="#a086c8" stroke-width="1.15" stroke-linejoin="round"/><circle cx="586" cy="243" r="2.8" fill="#dc5f62"/><circle cx="602.62" cy="243" r="2.8" fill="#dc5f62"/><circle cx="619.23" cy="243" r="2.8" fill="#dc5f62"/><circle cx="635.85" cy="243" r="2.8" fill="#dc5f62"/><circle cx="652.46" cy="181.79" r="2.8" fill="#dc5f62"/><circle cx="669.08" cy="145.78" r="2.8" fill="#dc5f62"/><circle cx="685.7" cy="84.56" r="2.8" fill="#dc5f62"/><circle cx="702.31" cy="73.76" r="2.8" fill="#dc5f62"/><circle cx="718.93" cy="73.76" r="2.8" fill="#dc5f62"/><circle cx="735.54" cy="73.76" r="2.8" fill="#dc5f62"/><circle cx="752.16" cy="73.76" r="2.8" fill="#dc5f62"/><circle cx="768.78" cy="66.56" r="2.8" fill="#dc5f62"/><circle cx="785.39" cy="66.56" r="2.8" fill="#dc5f62"/><circle cx="802.01" cy="66.56" r="2.8" fill="#dc5f62"/><circle cx="818.62" cy="66.56" r="2.8" fill="#dc5f62"/><circle cx="835.24" cy="62.96" r="2.8" fill="#dc5f62"/><circle cx="851.86" cy="59.36" r="2.8" fill="#dc5f62"/><circle cx="868.47" cy="59.36" r="2.8" fill="#dc5f62"/><circle cx="885.09" cy="59.36" r="2.8" fill="#dc5f62"/><circle cx="901.7" cy="59.36" r="2.8" fill="#dc5f62"/><circle cx="918.32" cy="59.36" r="2.8" fill="#dc5f62"/><circle cx="934.94" cy="59.36" r="2.8" fill="#dc5f62"/><circle cx="951.55" cy="59.36" r="2.8" fill="#dc5f62"/><circle cx="968.17" cy="59.36" r="2.8" fill="#dc5f62"/><circle cx="984.78" cy="59.36" r="2.8" fill="#dc5f62"/><circle cx="1001.4" cy="59.36" r="2.8" fill="#dc5f62"/><path d="M586 239.3L589.4 245.3L582.6 245.3Z" fill="#5f8e26"/><path d="M602.62 239.3L606.02 245.3L599.22 245.3Z" fill="#5f8e26"/><path d="M619.23 239.3L622.63 245.3L615.83 245.3Z" fill="#5f8e26"/><path d="M635.85 239.3L639.25 245.3L632.45 245.3Z" fill="#5f8e26"/><path d="M652.46 239.3L655.86 245.3L649.06 245.3Z" fill="#5f8e26"/><path d="M669.08 239.3L672.48 245.3L665.68 245.3Z" fill="#5f8e26"/><path d="M685.7 73.66L689.1 79.66L682.3 79.66Z" fill="#5f8e26"/><path d="M702.31 62.86L705.71 68.86L698.91 68.86Z" fill="#5f8e26"/><path d="M718.93 62.86L722.33 68.86L715.53 68.86Z" fill="#5f8e26"/><path d="M735.54 62.86L738.94 68.86L732.14 68.86Z" fill="#5f8e26"/><path d="M752.16 55.66L755.56 61.66L748.76 61.66Z" fill="#5f8e26"/><path d="M768.78 48.46L772.18 54.46L765.38 54.46Z" fill="#5f8e26"/><path d="M785.39 48.46L788.79 54.46L781.99 54.46Z" fill="#5f8e26"/><path d="M802.01 48.46L805.41 54.46L798.61 54.46Z" fill="#5f8e26"/><path d="M818.62 48.46L822.02 54.46L815.22 54.46Z" fill="#5f8e26"/><path d="M835.24 44.86L838.64 50.86L831.84 50.86Z" fill="#5f8e26"/><path d="M851.86 44.86L855.26 50.86L848.46 50.86Z" fill="#5f8e26"/><path d="M868.47 44.86L871.87 50.86L865.07 50.86Z" fill="#5f8e26"/><path d="M885.09 44.86L888.49 50.86L881.69 50.86Z" fill="#5f8e26"/><path d="M901.7 44.86L905.1 50.86L898.3 50.86Z" fill="#5f8e26"/><path d="M918.32 44.86L921.72 50.86L914.92 50.86Z" fill="#5f8e26"/><path d="M934.94 44.86L938.34 50.86L931.54 50.86Z" fill="#5f8e26"/><path d="M951.55 44.86L954.95 50.86L948.15 50.86Z" fill="#5f8e26"/><path d="M968.17 44.86L971.57 50.86L964.77 50.86Z" fill="#5f8e26"/><path d="M984.78 44.86L988.18 50.86L981.38 50.86Z" fill="#5f8e26"/><path d="M1001.4 44.86L1004.8 50.86L998 50.86Z" fill="#5f8e26"/><rect x="583.2" y="240.2" width="5.6" height="5.6" fill="#7182d0"/><rect x="599.82" y="240.2" width="5.6" height="5.6" fill="#7182d0"/><rect x="616.43" y="240.2" width="5.6" height="5.6" fill="#7182d0"/><rect x="633.05" y="240.2" width="5.6" height="5.6" fill="#7182d0"/><rect x="649.66" y="240.2" width="5.6" height="5.6" fill="#1f9fae"/><rect x="666.28" y="225.8" width="5.6" height="5.6" fill="#1f9fae"/><rect x="682.9" y="135.78" width="5.6" height="5.6" fill="#1f9fae"/><rect x="699.51" y="106.97" width="5.6" height="5.6" fill="#1f9fae"/><rect x="716.13" y="103.37" width="5.6" height="5.6" fill="#1f9fae"/><rect x="732.74" y="103.37" width="5.6" height="5.6" fill="#1f9fae"/><rect x="749.36" y="103.37" width="5.6" height="5.6" fill="#1f9fae"/><rect x="765.98" y="103.37" width="5.6" height="5.6" fill="#1f9fae"/><rect x="782.59" y="103.37" width="5.6" height="5.6" fill="#1f9fae"/><rect x="799.21" y="103.37" width="5.6" height="5.6" fill="#1f9fae"/><rect x="815.82" y="103.37" width="5.6" height="5.6" fill="#1f9fae"/><rect x="832.44" y="103.37" width="5.6" height="5.6" fill="#1f9fae"/><rect x="849.06" y="99.77" width="5.6" height="5.6" fill="#1f9fae"/><rect x="865.67" y="99.77" width="5.6" height="5.6" fill="#1f9fae"/><rect x="882.29" y="99.77" width="5.6" height="5.6" fill="#1f9fae"/><rect x="898.9" y="99.77" width="5.6" height="5.6" fill="#1f9fae"/><rect x="915.52" y="99.77" width="5.6" height="5.6" fill="#1f9fae"/><rect x="932.14" y="99.77" width="5.6" height="5.6" fill="#1f9fae"/><rect x="948.75" y="99.77" width="5.6" height="5.6" fill="#1f9fae"/><rect x="965.37" y="99.77" width="5.6" height="5.6" fill="#1f9fae"/><rect x="981.98" y="99.77" width="5.6" height="5.6" fill="#1f9fae"/><rect x="998.6" y="99.77" width="5.6" height="5.6" fill="#1f9fae"/><path d="M581.8 243H590.2M586 238.7V247.3" stroke="#6676c4" stroke-width="1.4" fill="none"/><path d="M598.42 243H606.82M602.62 238.7V247.3" stroke="#6676c4" stroke-width="1.4" fill="none"/><path d="M615.03 243H623.43M619.23 238.7V247.3" stroke="#6676c4" stroke-width="1.4" fill="none"/><path d="M631.65 243H640.05M635.85 238.7V247.3" stroke="#6676c4" stroke-width="1.4" fill="none"/><path d="M648.26 239.4H656.66M652.46 235.1V243.7" stroke="#a57bd6" stroke-width="1.4" fill="none"/><path d="M664.88 232.2H673.28M669.08 227.9V236.5" stroke="#a57bd6" stroke-width="1.4" fill="none"/><path d="M681.5 70.16H689.9M685.7 65.86V74.46" stroke="#a57bd6" stroke-width="1.4" fill="none"/><path d="M698.11 37.75H706.51M702.31 33.45V42.05" stroke="#a57bd6" stroke-width="1.4" fill="none"/><path d="M714.73 30.55H723.13M718.93 26.25V34.85" stroke="#a57bd6" stroke-width="1.4" fill="none"/><path d="M731.34 23.35H739.74M735.54 19.05V27.65" stroke="#a57bd6" stroke-width="1.4" fill="none"/><path d="M747.96 23.35H756.36M752.16 19.05V27.65" stroke="#a57bd6" stroke-width="1.4" fill="none"/><path d="M764.58 23.35H772.98M768.78 19.05V27.65" stroke="#a57bd6" stroke-width="1.4" fill="none"/><path d="M781.19 23.35H789.59M785.39 19.05V27.65" stroke="#a57bd6" stroke-width="1.4" fill="none"/><path d="M797.81 23.35H806.21M802.01 19.05V27.65" stroke="#a57bd6" stroke-width="1.4" fill="none"/><path d="M814.42 23.35H822.82M818.62 19.05V27.65" stroke="#a57bd6" stroke-width="1.4" fill="none"/><path d="M831.04 23.35H839.44M835.24 19.05V27.65" stroke="#a57bd6" stroke-width="1.4" fill="none"/><path d="M847.66 23.35H856.06M851.86 19.05V27.65" stroke="#a57bd6" stroke-width="1.4" fill="none"/><path d="M864.27 23.35H872.67M868.47 19.05V27.65" stroke="#a57bd6" stroke-width="1.4" fill="none"/><path d="M880.89 23.35H889.29M885.09 19.05V27.65" stroke="#a57bd6" stroke-width="1.4" fill="none"/><path d="M897.5 23.35H905.9M901.7 19.05V27.65" stroke="#a57bd6" stroke-width="1.4" fill="none"/><path d="M914.12 23.35H922.52M918.32 19.05V27.65" stroke="#a57bd6" stroke-width="1.4" fill="none"/><path d="M930.74 23.35H939.14M934.94 19.05V27.65" stroke="#a57bd6" stroke-width="1.4" fill="none"/><path d="M947.35 23.35H955.75M951.55 19.05V27.65" stroke="#a57bd6" stroke-width="1.4" fill="none"/><path d="M963.97 23.35H972.37M968.17 19.05V27.65" stroke="#a57bd6" stroke-width="1.4" fill="none"/><path d="M980.58 23.35H988.98M984.78 19.05V27.65" stroke="#a57bd6" stroke-width="1.4" fill="none"/><path d="M997.2 23.35H1005.6M1001.4 19.05V27.65" stroke="#a57bd6" stroke-width="1.4" fill="none"/></g>
<g><rect x="57.95" y="322.55" width="434.4" height="240.8" fill="none" stroke="#666" stroke-width="1.3"/><path d="M67.3 563.35v4.6M83.92 563.35v4.6M100.54 563.35v4.6M117.17 563.35v4.6M133.79 563.35v4.6M150.41 563.35v4.6M167.03 563.35v4.6M183.65 563.35v4.6M200.28 563.35v4.6M216.9 563.35v4.6M233.52 563.35v4.6M250.14 563.35v4.6M266.76 563.35v4.6M283.39 563.35v4.6M300.01 563.35v4.6M316.63 563.35v4.6M333.25 563.35v4.6M349.87 563.35v4.6M366.5 563.35v4.6M383.12 563.35v4.6M399.74 563.35v4.6M416.36 563.35v4.6M432.98 563.35v4.6M449.61 563.35v4.6M466.23 563.35v4.6M482.85 563.35v4.6" stroke="#262626" stroke-width="1.6" fill="none"/><path d="M57.95 552.9h-4.6M57.95 495.78h-4.6M57.95 438.67h-4.6M57.95 381.55h-4.6M57.95 324.43h-4.6" stroke="#262626" stroke-width="1.6" fill="none"/><g font-family="Liberation Serif" font-size="14" fill="#000"><text x="67.3" y="582.15" text-anchor="middle">0</text><text x="150.41" y="582.15" text-anchor="middle">10</text><text x="233.52" y="582.15" text-anchor="middle">20</text><text x="316.63" y="582.15" text-anchor="middle">30</text><text x="399.74" y="582.15" text-anchor="middle">40</text><text x="482.85" y="582.15" text-anchor="middle">50</text><text x="49.55" y="557.7" text-anchor="end">0</text><text x="49.55" y="500.58" text-anchor="end">20</text><text x="49.55" y="443.47" text-anchor="end">40</text><text x="49.55" y="386.35" text-anchor="end">60</text><text x="49.55" y="329.23" text-anchor="end">80</text></g><text x="239.1" y="601.55" font-family="Liberation Serif" font-size="16" fill="#000">Time (days)</text><text transform="translate(25.3 437.5) rotate(-90)" text-anchor="middle" font-family="Liberation Serif" font-size="16" fill="#000">Germination (%)</text><text x="69" y="344.9" font-family="Liberation Serif" font-style="italic" font-size="16" fill="#000">Papaver aurantiacum</text><g transform="translate(70.6 351.5)"><g clip-path="url(#ph)"><g filter="url(#soft)"><rect width="82.5" height="82.2" fill="#586060"/><g filter="url(#b1)"><path d="M0 0 H16 L20 14 L10 20 L0 22Z" fill="#b4bcbc"/><path d="M40 0 H76 L82 10 L78 18 L56 17 L44 10Z" fill="#bcc6c4"/><path d="M76 0 H82.5 V22 L79 16Z" fill="#262a2a"/><path d="M14 0 H42 L46 10 L30 9 L20 14Z" fill="#353b3b"/><path d="M0 22 L10 20 L20 30 L22 52 L0 54Z" fill="#434c4c"/><path d="M56 17 L78 18 L82.5 24 V42 L66 42 L58 30Z" fill="#4a5252"/><path d="M66 42 L82.5 42 V64 L72 66 L62 54Z" fill="#a2acac"/><path d="M0 54 L22 52 L30 64 L22 70 L0 70Z" fill="#b0bab8"/><path d="M0 70 L82.5 66 V82.2 H0Z" fill="#363b3b"/><path d="M44 68 L72 66 L82.5 72 V82.2 H44Z" fill="#4c5454"/></g><g opacity="0.5"><circle cx="31.4" cy="19" r="0.4" fill="#8a9494"/><circle cx="47.7" cy="56.7" r="0.6" fill="#8a9494"/><circle cx="70.3" cy="62.7" r="0.3" fill="#6a7474"/><circle cx="54.6" cy="69" r="0.6" fill="#6a7474"/><circle cx="81.4" cy="80.6" r="0.5" fill="#8a9494"/><circle cx="54" cy="51" r="0.3" fill="#2e3434"/><circle cx="2.7" cy="71.3" r="0.8" fill="#6a7474"/><circle cx="6" cy="29.6" r="0.6" fill="#2e3434"/><circle cx="55.3" cy="10.2" r="0.8" fill="#2e3434"/><circle cx="74.3" cy="14.6" r="0.5" fill="#6a7474"/><circle cx="51.1" cy="50" r="0.4" fill="#6a7474"/><circle cx="24.9" cy="12" r="0.7" fill="#8a9494"/><circle cx="1.8" cy="54" r="0.8" fill="#6a7474"/><circle cx="1.8" cy="11.1" r="0.6" fill="#2e3434"/><circle cx="33.2" cy="43.8" r="0.5" fill="#6a7474"/><circle cx="72.6" cy="53.9" r="0.5" fill="#6a7474"/><circle cx="66.6" cy="58.9" r="0.7" fill="#2e3434"/><circle cx="72.2" cy="61.8" r="0.4" fill="#2e3434"/><circle cx="58.2" cy="73.6" r="0.5" fill="#2e3434"/><circle cx="61.8" cy="50.1" r="0.6" fill="#6a7474"/><circle cx="79.3" cy="19.9" r="0.6" fill="#2e3434"/><circle cx="37.9" cy="59.4" r="0.8" fill="#6a7474"/><circle cx="79.8" cy="22.7" r="0.4" fill="#2e3434"/><circle cx="20.5" cy="31" r="0.7" fill="#2e3434"/><circle cx="31.3" cy="72.8" r="0.8" fill="#2e3434"/><circle cx="6.6" cy="45.4" r="0.4" fill="#6a7474"/><circle cx="14.9" cy="54.8" r="0.3" fill="#6a7474"/><circle cx="45.2" cy="51.2" r="0.6" fill="#6a7474"/><circle cx="18.8" cy="55.6" r="0.4" fill="#8a9494"/><circle cx="49.4" cy="58.6" r="0.6" fill="#8a9494"/><circle cx="32.4" cy="29.3" r="0.5" fill="#8a9494"/><circle cx="2.5" cy="48.5" r="0.9" fill="#2e3434"/><circle cx="12.6" cy="42.6" r="0.9" fill="#8a9494"/><circle cx="60" cy="64.4" r="0.3" fill="#2e3434"/><circle cx="55" cy="57" r="0.4" fill="#8a9494"/><circle cx="76.1" cy="74.5" r="0.5" fill="#6a7474"/><circle cx="21.4" cy="31.2" r="0.4" fill="#6a7474"/><circle cx="71.7" cy="23" r="0.7" fill="#8a9494"/><circle cx="33.3" cy="40.4" r="0.8" fill="#6a7474"/><circle cx="41.3" cy="48.8" r="0.4" fill="#6a7474"/><circle cx="74.5" cy="24" r="0.4" fill="#8a9494"/><circle cx="77.5" cy="67.9" r="0.3" fill="#2e3434"/><circle cx="67.4" cy="44" r="0.8" fill="#2e3434"/><circle cx="16.1" cy="66" r="0.5" fill="#8a9494"/><circle cx="47.8" cy="35.2" r="0.3" fill="#6a7474"/><circle cx="72" cy="42.2" r="0.4" fill="#2e3434"/><circle cx="48.7" cy="30.8" r="0.4" fill="#8a9494"/><circle cx="51.3" cy="45.8" r="0.6" fill="#6a7474"/><circle cx="31.8" cy="15.3" r="0.6" fill="#2e3434"/><circle cx="42.1" cy="15.1" r="0.3" fill="#2e3434"/><circle cx="59.5" cy="15.6" r="0.4" fill="#8a9494"/><circle cx="7.2" cy="54.1" r="0.9" fill="#8a9494"/><circle cx="1.4" cy="25.5" r="0.5" fill="#6a7474"/><circle cx="44.9" cy="73.4" r="0.5" fill="#8a9494"/><circle cx="62.1" cy="30.6" r="0.8" fill="#6a7474"/><circle cx="5.9" cy="32" r="0.4" fill="#8a9494"/><circle cx="14.3" cy="13.1" r="0.4" fill="#6a7474"/><circle cx="26" cy="74.2" r="0.5" fill="#6a7474"/><circle cx="16.1" cy="74.2" r="0.9" fill="#2e3434"/><circle cx="9.8" cy="1.3" r="0.4" fill="#2e3434"/><circle cx="22.7" cy="69.9" r="0.8" fill="#8a9494"/><circle cx="80.8" cy="61.9" r="0.8" fill="#2e3434"/><circle cx="63.7" cy="33.2" r="0.7" fill="#2e3434"/><circle cx="56.6" cy="43.8" r="0.5" fill="#2e3434"/><circle cx="13.3" cy="77.1" r="0.8" fill="#6a7474"/><circle cx="62.2" cy="42.9" r="0.4" fill="#2e3434"/><circle cx="26.5" cy="23.3" r="0.9" fill="#8a9494"/><circle cx="22.3" cy="7.6" r="0.8" fill="#2e3434"/><circle cx="25.2" cy="33.3" r="0.6" fill="#2e3434"/><circle cx="1" cy="53.3" r="0.4" fill="#8a9494"/><circle cx="49.5" cy="54.6" r="0.6" fill="#6a7474"/><circle cx="3.1" cy="16.7" r="0.5" fill="#8a9494"/><circle cx="1.8" cy="40.7" r="0.7" fill="#2e3434"/><circle cx="46.7" cy="79.2" r="0.8" fill="#2e3434"/><circle cx="3.9" cy="69.5" r="0.4" fill="#8a9494"/><circle cx="37.7" cy="6.8" r="0.8" fill="#2e3434"/><circle cx="7.6" cy="62.3" r="0.7" fill="#6a7474"/><circle cx="7.2" cy="56.1" r="0.5" fill="#8a9494"/><circle cx="32" cy="73.6" r="0.4" fill="#2e3434"/><circle cx="53.1" cy="76.1" r="0.8" fill="#2e3434"/><circle cx="33.4" cy="29.1" r="0.4" fill="#2e3434"/><circle cx="78.8" cy="75.6" r="0.8" fill="#2e3434"/><circle cx="57.4" cy="13.1" r="0.7" fill="#6a7474"/><circle cx="15.2" cy="81" r="0.5" fill="#8a9494"/><circle cx="40" cy="60.5" r="0.4" fill="#6a7474"/><circle cx="13.2" cy="68.2" r="0.3" fill="#8a9494"/><circle cx="77.3" cy="26.8" r="0.4" fill="#6a7474"/><circle cx="10.6" cy="20.8" r="0.4" fill="#2e3434"/><circle cx="0.6" cy="40.6" r="0.3" fill="#2e3434"/><circle cx="58.1" cy="9.2" r="0.5" fill="#6a7474"/><circle cx="7.5" cy="81.1" r="0.5" fill="#6a7474"/><circle cx="12" cy="24.6" r="0.9" fill="#2e3434"/><circle cx="5.6" cy="58.9" r="0.4" fill="#6a7474"/><circle cx="20.8" cy="18" r="0.4" fill="#2e3434"/><circle cx="69.9" cy="40.9" r="0.6" fill="#8a9494"/><circle cx="64.6" cy="51.3" r="0.5" fill="#6a7474"/><circle cx="1.9" cy="12.5" r="0.6" fill="#8a9494"/><circle cx="70.9" cy="77.8" r="0.8" fill="#8a9494"/><circle cx="19" cy="28.5" r="0.4" fill="#8a9494"/><circle cx="23.8" cy="70.4" r="0.9" fill="#6a7474"/><circle cx="77.6" cy="42.4" r="0.8" fill="#2e3434"/><circle cx="38" cy="71" r="0.7" fill="#8a9494"/><circle cx="76.3" cy="48.8" r="0.6" fill="#6a7474"/><circle cx="61.1" cy="50.4" r="0.4" fill="#2e3434"/><circle cx="10.8" cy="78.3" r="0.3" fill="#8a9494"/><circle cx="49" cy="16" r="0.9" fill="#8a9494"/><circle cx="79.5" cy="32.8" r="0.7" fill="#8a9494"/><circle cx="23.9" cy="32.6" r="0.6" fill="#2e3434"/><circle cx="25" cy="73.7" r="0.4" fill="#2e3434"/><circle cx="49.7" cy="14.1" r="0.8" fill="#2e3434"/><circle cx="68.9" cy="33" r="0.3" fill="#8a9494"/><circle cx="4.1" cy="49.2" r="0.8" fill="#8a9494"/><circle cx="77.4" cy="55.1" r="0.6" fill="#8a9494"/><circle cx="35.6" cy="9.4" r="0.8" fill="#2e3434"/><circle cx="62.7" cy="7.4" r="0.4" fill="#6a7474"/><circle cx="4.8" cy="29.3" r="0.8" fill="#2e3434"/><circle cx="51.1" cy="2.6" r="0.5" fill="#8a9494"/><circle cx="79.2" cy="68.1" r="0.5" fill="#6a7474"/><circle cx="78.1" cy="76.5" r="0.4" fill="#6a7474"/><circle cx="35.8" cy="33" r="0.8" fill="#2e3434"/></g><path d="M28.5 64 L29 82" stroke="#2e4a2a" stroke-width="2"/><g filter="url(#b05)"><path d="M16 28 C12 14 22 6 34 7 C46 8 56 14 54 28 C52 38 42 44 32 44 C22 44 18 38 16 28Z" fill="#e0e21c"/><path d="M44 30 C52 22 66 24 70 34 C74 44 70 54 60 56 C50 58 42 50 42 42Z" fill="#d6da14"/><path d="M18 32 C14 40 16 50 24 56 L36 50 L34 36Z" fill="#dcde1e"/><path d="M26 54 C28 48 40 46 52 50 C62 54 66 62 60 68 C54 73 40 72 32 68 C26 64 24 60 26 54Z" fill="#e0e41a"/><ellipse cx="36" cy="44" rx="10" ry="9" fill="#e8ea38"/></g><g stroke="#f2f27a" stroke-width="0.7" opacity="0.6"><path d="M34 45 L28 12 M34 45 L46 12 M34 45 L64 32 M34 45 L62 52 M34 45 L50 66 M34 45 L32 68 M34 45 L20 36"/></g><g stroke="#b4b410" stroke-width="0.9" opacity="0.5" fill="none"><path d="M18 24 Q30 8 50 14 M44 30 Q62 24 68 40 M28 66 Q44 72 60 64"/></g><circle cx="34.5" cy="46" r="3.5" fill="#5e8422" filter="url(#b05)"/></g></g></g><rect x="69.4" y="441.3" width="46.2" height="84.1" fill="#fff" stroke="#6a6a6a" stroke-width="1.1"/><path d="M74 451.6h17" stroke="#d8787a" stroke-width="1.3"/><circle cx="82.5" cy="451.6" r="2.8" fill="#dc5f62"/><text x="97.4" y="457.6" font-family="Liberation Serif" font-size="16" fill="#000">A</text><path d="M74 472.6h17" stroke="#7a9548" stroke-width="1.3"/><path d="M82.5 468.9L85.9 474.9L79.1 474.9Z" fill="#5f8e26"/><text x="97.4" y="478.6" font-family="Liberation Serif" font-size="16" fill="#000">B</text><path d="M74 493.6h17" stroke="#4a9ea6" stroke-width="1.3"/><rect x="79.7" y="490.8" width="5.6" height="5.6" fill="#1f9fae"/><text x="97.4" y="499.6" font-family="Liberation Serif" font-size="16" fill="#000">C</text><path d="M74 514.6h17" stroke="#a086c8" stroke-width="1.3"/><path d="M78.3 514.6H86.7M82.5 510.3V518.9" stroke="#a57bd6" stroke-width="1.4" fill="none"/><text x="97.4" y="520.6" font-family="Liberation Serif" font-size="16" fill="#000">D</text><polyline points="67.3,552.9 83.92,552.9 100.54,552.9 117.17,552.9 133.79,552.9 150.41,550.04 167.03,550.04 183.65,550.04 200.28,547.19 216.9,547.19 233.52,547.19 250.14,547.19 266.76,547.19 283.39,547.19 300.01,547.19 316.63,547.19 333.25,547.19 349.87,547.19 366.5,547.19 383.12,547.19 399.74,547.19 416.36,547.19 432.98,547.19 449.61,547.19 466.23,547.19 482.85,547.19" fill="none" stroke="#d8787a" stroke-width="1.15" stroke-linejoin="round"/><polyline points="67.3,552.9 83.92,552.9 100.54,552.9 117.17,552.9 133.79,550.04 150.41,547.19 167.03,547.19 183.65,547.19 200.28,544.33 216.9,544.33 233.52,541.48 250.14,538.62 266.76,538.62 283.39,538.62 300.01,535.76 316.63,535.76 333.25,535.76 349.87,535.76 366.5,535.76 383.12,535.76 399.74,535.76 416.36,535.76 432.98,535.76 449.61,535.76 466.23,535.76 482.85,535.76" fill="none" stroke="#7a9548" stroke-width="1.15" stroke-linejoin="round"/><polyline points="67.3,552.9 83.92,552.9 100.54,552.9 117.17,552.9 133.79,521.49 150.41,470.08 167.03,375.84 183.65,361.56 200.28,355.85 216.9,355.85 233.52,350.14 250.14,347.28 266.76,347.28 283.39,347.28 300.01,347.28 316.63,344.42 333.25,338.71 349.87,338.71 366.5,338.71 383.12,335.86 399.74,335.86 416.36,333 432.98,333 449.61,333 466.23,333 482.85,333" fill="none" stroke="#4a9ea6" stroke-width="1.15" stroke-linejoin="round"/><polyline points="67.3,552.9 83.92,552.9 100.54,552.9 117.17,552.9 133.79,527.2 150.41,472.94 167.03,412.96 183.65,395.83 200.28,390.12 216.9,381.55 233.52,378.69 250.14,370.13 266.76,364.41 283.39,361.56 300.01,355.85 316.63,355.85 333.25,352.99 349.87,350.14 366.5,350.14 383.12,347.28 399.74,347.28 416.36,347.28 432.98,344.42 449.61,344.42 466.23,341.57 482.85,341.57" fill="none" stroke="#a086c8" stroke-width="1.15" stroke-linejoin="round"/><circle cx="67.3" cy="552.9" r="2.8" fill="#dc5f62"/><circle cx="83.92" cy="552.9" r="2.8" fill="#dc5f62"/><circle cx="100.54" cy="552.9" r="2.8" fill="#dc5f62"/><circle cx="117.17" cy="552.9" r="2.8" fill="#dc5f62"/><circle cx="133.79" cy="552.9" r="2.8" fill="#dc5f62"/><circle cx="150.41" cy="550.04" r="2.8" fill="#dc5f62"/><circle cx="167.03" cy="550.04" r="2.8" fill="#dc5f62"/><circle cx="183.65" cy="550.04" r="2.8" fill="#dc5f62"/><circle cx="200.28" cy="547.19" r="2.8" fill="#dc5f62"/><circle cx="216.9" cy="547.19" r="2.8" fill="#dc5f62"/><circle cx="233.52" cy="547.19" r="2.8" fill="#dc5f62"/><circle cx="250.14" cy="547.19" r="2.8" fill="#dc5f62"/><circle cx="266.76" cy="547.19" r="2.8" fill="#dc5f62"/><circle cx="283.39" cy="547.19" r="2.8" fill="#dc5f62"/><circle cx="300.01" cy="547.19" r="2.8" fill="#dc5f62"/><circle cx="316.63" cy="547.19" r="2.8" fill="#dc5f62"/><circle cx="333.25" cy="547.19" r="2.8" fill="#dc5f62"/><circle cx="349.87" cy="547.19" r="2.8" fill="#dc5f62"/><circle cx="366.5" cy="547.19" r="2.8" fill="#dc5f62"/><circle cx="383.12" cy="547.19" r="2.8" fill="#dc5f62"/><circle cx="399.74" cy="547.19" r="2.8" fill="#dc5f62"/><circle cx="416.36" cy="547.19" r="2.8" fill="#dc5f62"/><circle cx="432.98" cy="547.19" r="2.8" fill="#dc5f62"/><circle cx="449.61" cy="547.19" r="2.8" fill="#dc5f62"/><circle cx="466.23" cy="547.19" r="2.8" fill="#dc5f62"/><circle cx="482.85" cy="547.19" r="2.8" fill="#dc5f62"/><path d="M67.3 549.2L70.7 555.2L63.9 555.2Z" fill="#5f8e26"/><path d="M83.92 549.2L87.32 555.2L80.52 555.2Z" fill="#5f8e26"/><path d="M100.54 549.2L103.94 555.2L97.14 555.2Z" fill="#5f8e26"/><path d="M117.17 549.2L120.57 555.2L113.77 555.2Z" fill="#5f8e26"/><path d="M133.79 546.34L137.19 552.34L130.39 552.34Z" fill="#5f8e26"/><path d="M150.41 543.49L153.81 549.49L147.01 549.49Z" fill="#5f8e26"/><path d="M167.03 543.49L170.43 549.49L163.63 549.49Z" fill="#5f8e26"/><path d="M183.65 543.49L187.05 549.49L180.25 549.49Z" fill="#5f8e26"/><path d="M200.28 540.63L203.68 546.63L196.88 546.63Z" fill="#5f8e26"/><path d="M216.9 540.63L220.3 546.63L213.5 546.63Z" fill="#5f8e26"/><path d="M233.52 537.78L236.92 543.78L230.12 543.78Z" fill="#5f8e26"/><path d="M250.14 534.92L253.54 540.92L246.74 540.92Z" fill="#5f8e26"/><path d="M266.76 534.92L270.16 540.92L263.36 540.92Z" fill="#5f8e26"/><path d="M283.39 534.92L286.79 540.92L279.99 540.92Z" fill="#5f8e26"/><path d="M300.01 532.06L303.41 538.06L296.61 538.06Z" fill="#5f8e26"/><path d="M316.63 532.06L320.03 538.06L313.23 538.06Z" fill="#5f8e26"/><path d="M333.25 532.06L336.65 538.06L329.85 538.06Z" fill="#5f8e26"/><path d="M349.87 532.06L353.27 538.06L346.47 538.06Z" fill="#5f8e26"/><path d="M366.5 532.06L369.9 538.06L363.1 538.06Z" fill="#5f8e26"/><path d="M383.12 532.06L386.52 538.06L379.72 538.06Z" fill="#5f8e26"/><path d="M399.74 532.06L403.14 538.06L396.34 538.06Z" fill="#5f8e26"/><path d="M416.36 532.06L419.76 538.06L412.96 538.06Z" fill="#5f8e26"/><path d="M432.98 532.06L436.38 538.06L429.58 538.06Z" fill="#5f8e26"/><path d="M449.61 532.06L453.01 538.06L446.21 538.06Z" fill="#5f8e26"/><path d="M466.23 532.06L469.63 538.06L462.83 538.06Z" fill="#5f8e26"/><path d="M482.85 532.06L486.25 538.06L479.45 538.06Z" fill="#5f8e26"/><rect x="64.5" y="550.1" width="5.6" height="5.6" fill="#7182d0"/><rect x="81.12" y="550.1" width="5.6" height="5.6" fill="#7182d0"/><rect x="97.74" y="550.1" width="5.6" height="5.6" fill="#7182d0"/><rect x="114.37" y="550.1" width="5.6" height="5.6" fill="#7182d0"/><rect x="130.99" y="518.69" width="5.6" height="5.6" fill="#1f9fae"/><rect x="147.61" y="467.28" width="5.6" height="5.6" fill="#1f9fae"/><rect x="164.23" y="373.04" width="5.6" height="5.6" fill="#1f9fae"/><rect x="180.85" y="358.76" width="5.6" height="5.6" fill="#1f9fae"/><rect x="197.48" y="353.05" width="5.6" height="5.6" fill="#1f9fae"/><rect x="214.1" y="353.05" width="5.6" height="5.6" fill="#1f9fae"/><rect x="230.72" y="347.34" width="5.6" height="5.6" fill="#1f9fae"/><rect x="247.34" y="344.48" width="5.6" height="5.6" fill="#1f9fae"/><rect x="263.96" y="344.48" width="5.6" height="5.6" fill="#1f9fae"/><rect x="280.59" y="344.48" width="5.6" height="5.6" fill="#1f9fae"/><rect x="297.21" y="344.48" width="5.6" height="5.6" fill="#1f9fae"/><rect x="313.83" y="341.62" width="5.6" height="5.6" fill="#1f9fae"/><rect x="330.45" y="335.91" width="5.6" height="5.6" fill="#1f9fae"/><rect x="347.07" y="335.91" width="5.6" height="5.6" fill="#1f9fae"/><rect x="363.7" y="335.91" width="5.6" height="5.6" fill="#1f9fae"/><rect x="380.32" y="333.06" width="5.6" height="5.6" fill="#1f9fae"/><rect x="396.94" y="333.06" width="5.6" height="5.6" fill="#1f9fae"/><rect x="413.56" y="330.2" width="5.6" height="5.6" fill="#1f9fae"/><rect x="430.18" y="330.2" width="5.6" height="5.6" fill="#1f9fae"/><rect x="446.81" y="330.2" width="5.6" height="5.6" fill="#1f9fae"/><rect x="463.43" y="330.2" width="5.6" height="5.6" fill="#1f9fae"/><rect x="480.05" y="330.2" width="5.6" height="5.6" fill="#1f9fae"/><path d="M63.1 552.9H71.5M67.3 548.6V557.2" stroke="#6676c4" stroke-width="1.4" fill="none"/><path d="M79.72 552.9H88.12M83.92 548.6V557.2" stroke="#6676c4" stroke-width="1.4" fill="none"/><path d="M96.34 552.9H104.74M100.54 548.6V557.2" stroke="#6676c4" stroke-width="1.4" fill="none"/><path d="M112.97 552.9H121.37M117.17 548.6V557.2" stroke="#6676c4" stroke-width="1.4" fill="none"/><path d="M129.59 527.2H137.99M133.79 522.9V531.5" stroke="#a57bd6" stroke-width="1.4" fill="none"/><path d="M146.21 472.94H154.61M150.41 468.64V477.24" stroke="#a57bd6" stroke-width="1.4" fill="none"/><path d="M162.83 412.96H171.23M167.03 408.66V417.26" stroke="#a57bd6" stroke-width="1.4" fill="none"/><path d="M179.45 395.83H187.85M183.65 391.53V400.13" stroke="#a57bd6" stroke-width="1.4" fill="none"/><path d="M196.08 390.12H204.48M200.28 385.82V394.42" stroke="#a57bd6" stroke-width="1.4" fill="none"/><path d="M212.7 381.55H221.1M216.9 377.25V385.85" stroke="#a57bd6" stroke-width="1.4" fill="none"/><path d="M229.32 378.69H237.72M233.52 374.39V382.99" stroke="#a57bd6" stroke-width="1.4" fill="none"/><path d="M245.94 370.13H254.34M250.14 365.83V374.43" stroke="#a57bd6" stroke-width="1.4" fill="none"/><path d="M262.56 364.41H270.96M266.76 360.11V368.71" stroke="#a57bd6" stroke-width="1.4" fill="none"/><path d="M279.19 361.56H287.59M283.39 357.26V365.86" stroke="#a57bd6" stroke-width="1.4" fill="none"/><path d="M295.81 355.85H304.21M300.01 351.55V360.15" stroke="#a57bd6" stroke-width="1.4" fill="none"/><path d="M312.43 355.85H320.83M316.63 351.55V360.15" stroke="#a57bd6" stroke-width="1.4" fill="none"/><path d="M329.05 352.99H337.45M333.25 348.69V357.29" stroke="#a57bd6" stroke-width="1.4" fill="none"/><path d="M345.67 350.14H354.07M349.87 345.84V354.44" stroke="#a57bd6" stroke-width="1.4" fill="none"/><path d="M362.3 350.14H370.7M366.5 345.84V354.44" stroke="#a57bd6" stroke-width="1.4" fill="none"/><path d="M378.92 347.28H387.32M383.12 342.98V351.58" stroke="#a57bd6" stroke-width="1.4" fill="none"/><path d="M395.54 347.28H403.94M399.74 342.98V351.58" stroke="#a57bd6" stroke-width="1.4" fill="none"/><path d="M412.16 347.28H420.56M416.36 342.98V351.58" stroke="#a57bd6" stroke-width="1.4" fill="none"/><path d="M428.78 344.42H437.18M432.98 340.12V348.72" stroke="#a57bd6" stroke-width="1.4" fill="none"/><path d="M445.41 344.42H453.81M449.61 340.12V348.72" stroke="#a57bd6" stroke-width="1.4" fill="none"/><path d="M462.03 341.57H470.43M466.23 337.27V345.87" stroke="#a57bd6" stroke-width="1.4" fill="none"/><path d="M478.65 341.57H487.05M482.85 337.27V345.87" stroke="#a57bd6" stroke-width="1.4" fill="none"/></g>
<g><rect x="576.05" y="322.55" width="435.95" height="240.8" fill="none" stroke="#666" stroke-width="1.3"/><path d="M585.4 563.35v4.6M602.08 563.35v4.6M618.77 563.35v4.6M635.45 563.35v4.6M652.14 563.35v4.6M668.82 563.35v4.6M685.5 563.35v4.6M702.19 563.35v4.6M718.87 563.35v4.6M735.56 563.35v4.6M752.24 563.35v4.6M768.92 563.35v4.6M785.61 563.35v4.6M802.29 563.35v4.6M818.98 563.35v4.6M835.66 563.35v4.6M852.34 563.35v4.6M869.03 563.35v4.6M885.71 563.35v4.6M902.4 563.35v4.6M919.08 563.35v4.6M935.76 563.35v4.6M952.45 563.35v4.6M969.13 563.35v4.6M985.82 563.35v4.6M1002.5 563.35v4.6" stroke="#262626" stroke-width="1.6" fill="none"/><path d="M576.05 552.9h-4.6M576.05 507.1h-4.6M576.05 461.3h-4.6M576.05 415.5h-4.6M576.05 369.7h-4.6M576.05 323.9h-4.6" stroke="#262626" stroke-width="1.6" fill="none"/><g font-family="Liberation Serif" font-size="14" fill="#000"><text x="585.4" y="582.15" text-anchor="middle">0</text><text x="668.82" y="582.15" text-anchor="middle">10</text><text x="752.24" y="582.15" text-anchor="middle">20</text><text x="835.66" y="582.15" text-anchor="middle">30</text><text x="919.08" y="582.15" text-anchor="middle">40</text><text x="1002.5" y="582.15" text-anchor="middle">50</text><text x="567.65" y="557.7" text-anchor="end">0</text><text x="567.65" y="511.9" text-anchor="end">2.5</text><text x="567.65" y="466.1" text-anchor="end">5.0</text><text x="567.65" y="420.3" text-anchor="end">7.5</text><text x="567.65" y="374.5" text-anchor="end">10.0</text><text x="567.65" y="328.7" text-anchor="end">12.5</text></g><text x="757.3" y="601.55" font-family="Liberation Serif" font-size="16" fill="#000">Time (days)</text><text transform="translate(540.9 437.5) rotate(-90)" text-anchor="middle" font-family="Liberation Serif" font-size="16" fill="#000">Germination (%)</text><text x="587.5" y="344.9" font-family="Liberation Serif" font-style="italic" font-size="16" fill="#000">Pulsatilla alpina</text><g transform="translate(589.1 353.2)"><g clip-path="url(#ph)"><g filter="url(#soft)"><rect width="82.5" height="82.2" fill="#1d1712"/><g stroke="#2a221a" stroke-width="1.3" opacity="0.9"><path d="M28 0 L33 82"/><path d="M34 0 L39 82"/><path d="M40 0 L45 82"/><path d="M46 0 L51 82"/><path d="M52 0 L57 82"/><path d="M58 0 L63 82"/><path d="M64 0 L69 82"/><path d="M70 0 L75 82"/><path d="M76 0 L81 82"/></g><g filter="url(#b1)" opacity="0.9"><ellipse cx="5" cy="6" rx="3.9" ry="1.6" transform="rotate(35 5 6)" fill="#44704a"/><ellipse cx="11" cy="6" rx="4.8" ry="1.6" transform="rotate(-35 11 6)" fill="#44704a"/><ellipse cx="7" cy="11" rx="4.5" ry="1.6" transform="rotate(35 7 11)" fill="#44704a"/><ellipse cx="13" cy="11" rx="4.1" ry="1.6" transform="rotate(-35 13 11)" fill="#44704a"/><ellipse cx="9" cy="16" rx="4.4" ry="1.6" transform="rotate(35 9 16)" fill="#44704a"/><ellipse cx="15" cy="16" rx="4.5" ry="1.6" transform="rotate(-35 15 16)" fill="#44704a"/><ellipse cx="11" cy="21" rx="4.2" ry="1.6" transform="rotate(35 11 21)" fill="#44704a"/><ellipse cx="17" cy="21" rx="3.8" ry="1.6" transform="rotate(-35 17 21)" fill="#44704a"/><ellipse cx="13" cy="26" rx="3.8" ry="1.6" transform="rotate(35 13 26)" fill="#44704a"/><ellipse cx="19" cy="26" rx="4.4" ry="1.6" transform="rotate(-35 19 26)" fill="#44704a"/><ellipse cx="15" cy="31" rx="4.7" ry="1.6" transform="rotate(35 15 31)" fill="#44704a"/><ellipse cx="21" cy="31" rx="4.8" ry="1.6" transform="rotate(-35 21 31)" fill="#44704a"/><ellipse cx="17" cy="36" rx="3.9" ry="1.6" transform="rotate(35 17 36)" fill="#44704a"/><ellipse cx="23" cy="36" rx="4.6" ry="1.6" transform="rotate(-35 23 36)" fill="#44704a"/><ellipse cx="1" cy="30" rx="3.6" ry="1.6" transform="rotate(35 1 30)" fill="#34583a"/><ellipse cx="7" cy="30" rx="3.9" ry="1.6" transform="rotate(-35 7 30)" fill="#34583a"/><ellipse cx="3.4" cy="35.2" rx="4.5" ry="1.6" transform="rotate(35 3.4 35.2)" fill="#34583a"/><ellipse cx="9.4" cy="35.2" rx="3.7" ry="1.6" transform="rotate(-35 9.4 35.2)" fill="#34583a"/><ellipse cx="5.8" cy="40.4" rx="3.6" ry="1.6" transform="rotate(35 5.8 40.4)" fill="#34583a"/><ellipse cx="11.8" cy="40.4" rx="4.3" ry="1.6" transform="rotate(-35 11.8 40.4)" fill="#34583a"/><ellipse cx="8.2" cy="45.6" rx="3.9" ry="1.6" transform="rotate(35 8.2 45.6)" fill="#34583a"/><ellipse cx="14.2" cy="45.6" rx="4.3" ry="1.6" transform="rotate(-35 14.2 45.6)" fill="#34583a"/><ellipse cx="10.6" cy="50.8" rx="4.4" ry="1.6" transform="rotate(35 10.6 50.8)" fill="#34583a"/><ellipse cx="16.6" cy="50.8" rx="3.6" ry="1.6" transform="rotate(-35 16.6 50.8)" fill="#34583a"/><ellipse cx="13" cy="56" rx="4.5" ry="1.6" transform="rotate(35 13 56)" fill="#34583a"/><ellipse cx="19" cy="56" rx="3.8" ry="1.6" transform="rotate(-35 19 56)" fill="#34583a"/><ellipse cx="3" cy="54" rx="4" ry="1.6" transform="rotate(35 3 54)" fill="#28442c"/><ellipse cx="9" cy="54" rx="3.8" ry="1.6" transform="rotate(-35 9 54)" fill="#28442c"/><ellipse cx="4.6" cy="59.2" rx="4.2" ry="1.6" transform="rotate(35 4.6 59.2)" fill="#28442c"/><ellipse cx="10.6" cy="59.2" rx="3.8" ry="1.6" transform="rotate(-35 10.6 59.2)" fill="#28442c"/><ellipse cx="6.2" cy="64.4" rx="3.7" ry="1.6" transform="rotate(35 6.2 64.4)" fill="#28442c"/><ellipse cx="12.2" cy="64.4" rx="4.2" ry="1.6" transform="rotate(-35 12.2 64.4)" fill="#28442c"/><ellipse cx="7.8" cy="69.6" rx="4.1" ry="1.6" transform="rotate(35 7.8 69.6)" fill="#28442c"/><ellipse cx="13.8" cy="69.6" rx="3.4" ry="1.6" transform="rotate(-35 13.8 69.6)" fill="#28442c"/><ellipse cx="9.4" cy="74.8" rx="4.2" ry="1.6" transform="rotate(35 9.4 74.8)" fill="#28442c"/><ellipse cx="15.4" cy="74.8" rx="3.3" ry="1.6" transform="rotate(-35 15.4 74.8)" fill="#28442c"/><ellipse cx="11" cy="80" rx="3.8" ry="1.6" transform="rotate(35 11 80)" fill="#28442c"/><ellipse cx="17" cy="80" rx="3.9" ry="1.6" transform="rotate(-35 17 80)" fill="#28442c"/></g><g filter="url(#b05)" fill="#e4e9e2"><path d="M27 34 C25 22 30 13 40 12 C48 11 54 16 54 24 C54 30 52 34 50 36Z"/><path d="M47 30 C52 22 62 20 67 28 C71 36 69 44 62 48 L50 46Z"/><path d="M52 44 C60 44 70 48 72 56 C72 62 66 64 58 63 L50 58Z"/><path d="M40 54 C46 52 56 54 59 62 C60 70 54 76 48 75 C42 73 38 66 38 58Z"/><path d="M42 50 C34 46 24 48 21 56 C24 61 34 62 42 58Z"/><path d="M36 30 C28 32 25 40 26 48 L40 48Z"/><circle cx="45" cy="45" r="16"/></g><g fill="#cdd5cb" filter="url(#b1)" opacity="0.8"><ellipse cx="62" cy="36" rx="4" ry="7"/><ellipse cx="40" cy="57" rx="5" ry="2.5"/><ellipse cx="52" cy="66" rx="4" ry="5"/></g><ellipse cx="38" cy="24" rx="8" ry="6" fill="#f6f8f4" filter="url(#b2)"/><ellipse cx="44.7" cy="44.3" rx="7.5" ry="9" fill="#c6be34" filter="url(#b05)"/><g><path d="M40.7 47.5L39.3 49.8" stroke="#d8d050" stroke-width="0.8" stroke-linecap="round"/><path d="M43.8 48.8L43.8 51.4" stroke="#b0a828" stroke-width="0.8" stroke-linecap="round"/><path d="M43.2 39.3L43.4 39.3" stroke="#b0a828" stroke-width="0.8" stroke-linecap="round"/><path d="M42.1 48.3L41.5 50.5" stroke="#d8d050" stroke-width="0.8" stroke-linecap="round"/><path d="M41.4 41.7L41.1 41.8" stroke="#b0a828" stroke-width="0.8" stroke-linecap="round"/><path d="M48.9 45.5L49.7 47.8" stroke="#d8d050" stroke-width="0.8" stroke-linecap="round"/><path d="M48.4 49.2L49.9 51.2" stroke="#b0a828" stroke-width="0.8" stroke-linecap="round"/><path d="M43.4 37.8L44 37.6" stroke="#b0a828" stroke-width="0.8" stroke-linecap="round"/><path d="M41.6 48.5L40.2 49.9" stroke="#d8d050" stroke-width="0.8" stroke-linecap="round"/><path d="M45.2 49.9L44.5 52.6" stroke="#b0a828" stroke-width="0.8" stroke-linecap="round"/><path d="M40.3 39.3L39 39.5" stroke="#d8d050" stroke-width="0.8" stroke-linecap="round"/><path d="M45.2 47.7L44.7 50.4" stroke="#b0a828" stroke-width="0.8" stroke-linecap="round"/><path d="M48.9 44.1L50 45.1" stroke="#b0a828" stroke-width="0.8" stroke-linecap="round"/><path d="M47.5 47.3L47.5 50" stroke="#d8d050" stroke-width="0.8" stroke-linecap="round"/><path d="M42.6 39.2L43 39.4" stroke="#d8d050" stroke-width="0.8" stroke-linecap="round"/><path d="M41.8 40.9L40.6 41.1" stroke="#d8d050" stroke-width="0.8" stroke-linecap="round"/><path d="M41.5 46L40 47.2" stroke="#d8d050" stroke-width="0.8" stroke-linecap="round"/><path d="M43.6 51.6L43.7 53.9" stroke="#b0a828" stroke-width="0.8" stroke-linecap="round"/><path d="M40.3 42.6L39.1 43.5" stroke="#b0a828" stroke-width="0.8" stroke-linecap="round"/><path d="M42.9 51.1L42.4 53.5" stroke="#d8d050" stroke-width="0.8" stroke-linecap="round"/><path d="M49.5 42.1L50.6 43.1" stroke="#b0a828" stroke-width="0.8" stroke-linecap="round"/><path d="M47.3 42.3L49.2 43.5" stroke="#b0a828" stroke-width="0.8" stroke-linecap="round"/><path d="M44.6 38.5L44.1 38.5" stroke="#d8d050" stroke-width="0.8" stroke-linecap="round"/><path d="M41.9 42.9L40.8 43.5" stroke="#d8d050" stroke-width="0.8" stroke-linecap="round"/><path d="M49.2 43.9L50.1 45.8" stroke="#b0a828" stroke-width="0.8" stroke-linecap="round"/><path d="M40.7 43.4L39.5 44.1" stroke="#d8d050" stroke-width="0.8" stroke-linecap="round"/><path d="M49.8 47.7L50.9 50.4" stroke="#b0a828" stroke-width="0.8" stroke-linecap="round"/><path d="M40.3 49.3L38.7 50.9" stroke="#b0a828" stroke-width="0.8" stroke-linecap="round"/><path d="M45.3 48.5L44.6 50.5" stroke="#b0a828" stroke-width="0.8" stroke-linecap="round"/><path d="M42.9 49.8L42.7 52.1" stroke="#d8d050" stroke-width="0.8" stroke-linecap="round"/></g></g></g></g><rect x="588.4" y="441.3" width="46.2" height="84.1" fill="#fff" stroke="#6a6a6a" stroke-width="1.1"/><path d="M593 451.6h17" stroke="#d8787a" stroke-width="1.3"/><circle cx="601.5" cy="451.6" r="2.8" fill="#dc5f62"/><text x="616.4" y="457.6" font-family="Liberation Serif" font-size="16" fill="#000">A</text><path d="M593 472.6h17" stroke="#7a9548" stroke-width="1.3"/><path d="M601.5 468.9L604.9 474.9L598.1 474.9Z" fill="#5f8e26"/><text x="616.4" y="478.6" font-family="Liberation Serif" font-size="16" fill="#000">B</text><path d="M593 493.6h17" stroke="#4a9ea6" stroke-width="1.3"/><rect x="598.7" y="490.8" width="5.6" height="5.6" fill="#1f9fae"/><text x="616.4" y="499.6" font-family="Liberation Serif" font-size="16" fill="#000">C</text><path d="M593 514.6h17" stroke="#a086c8" stroke-width="1.3"/><path d="M597.3 514.6H605.7M601.5 510.3V518.9" stroke="#a57bd6" stroke-width="1.4" fill="none"/><text x="616.4" y="520.6" font-family="Liberation Serif" font-size="16" fill="#000">D</text><polyline points="585.4,552.9 602.08,552.9 618.77,552.9 635.45,552.9 652.14,552.9 668.82,552.9 685.5,552.9 702.19,552.9 718.87,552.9 735.56,552.9 752.24,552.9 768.92,552.9 785.61,552.9 802.29,552.9 818.98,552.9 835.66,552.9 852.34,552.9 869.03,552.9 885.71,552.9 902.4,552.9 919.08,552.9 935.76,552.9 952.45,552.9 969.13,552.9 985.82,534.58 1002.5,534.58" fill="none" stroke="#7a9548" stroke-width="1.15" stroke-linejoin="round"/><polyline points="585.4,552.9 602.08,552.9 618.77,552.9 635.45,552.9 652.14,552.9 668.82,552.9 685.5,552.9 702.19,552.9 718.87,552.9 735.56,552.9 752.24,552.9 768.92,534.58 785.61,534.58 802.29,497.94 818.98,497.94 835.66,442.98 852.34,388.02 869.03,369.7 885.71,369.7 902.4,351.38 919.08,351.38 935.76,351.38 952.45,351.38 969.13,351.38 985.82,351.38 1002.5,351.38" fill="none" stroke="#4a9ea6" stroke-width="1.15" stroke-linejoin="round"/><polyline points="585.4,552.9 602.08,552.9 618.77,552.9 635.45,552.9 652.14,552.9 668.82,552.9 685.5,552.9 702.19,552.9 718.87,534.58 735.56,497.94 752.24,442.98 768.92,406.34 785.61,369.7 802.29,369.7 818.98,333.06 835.66,333.06 852.34,333.06 869.03,333.06 885.71,333.06 902.4,333.06 919.08,333.06 935.76,333.06 952.45,333.06 969.13,333.06 985.82,333.06 1002.5,333.06" fill="none" stroke="#a086c8" stroke-width="1.15" stroke-linejoin="round"/><path d="M585.4 549.2L588.8 555.2L582 555.2Z" fill="#5f8e26"/><path d="M602.08 549.2L605.48 555.2L598.68 555.2Z" fill="#5f8e26"/><path d="M618.77 549.2L622.17 555.2L615.37 555.2Z" fill="#5f8e26"/><path d="M635.45 549.2L638.85 555.2L632.05 555.2Z" fill="#5f8e26"/><path d="M652.14 549.2L655.54 555.2L648.74 555.2Z" fill="#5f8e26"/><path d="M668.82 549.2L672.22 555.2L665.42 555.2Z" fill="#5f8e26"/><path d="M685.5 549.2L688.9 555.2L682.1 555.2Z" fill="#5f8e26"/><path d="M702.19 549.2L705.59 555.2L698.79 555.2Z" fill="#5f8e26"/><path d="M718.87 549.2L722.27 555.2L715.47 555.2Z" fill="#5f8e26"/><path d="M735.56 549.2L738.96 555.2L732.16 555.2Z" fill="#5f8e26"/><path d="M752.24 549.2L755.64 555.2L748.84 555.2Z" fill="#5f8e26"/><path d="M768.92 549.2L772.32 555.2L765.52 555.2Z" fill="#5f8e26"/><path d="M785.61 549.2L789.01 555.2L782.21 555.2Z" fill="#5f8e26"/><path d="M802.29 549.2L805.69 555.2L798.89 555.2Z" fill="#5f8e26"/><path d="M818.98 549.2L822.38 555.2L815.58 555.2Z" fill="#5f8e26"/><path d="M835.66 549.2L839.06 555.2L832.26 555.2Z" fill="#5f8e26"/><path d="M852.34 549.2L855.74 555.2L848.94 555.2Z" fill="#5f8e26"/><path d="M869.03 549.2L872.43 555.2L865.63 555.2Z" fill="#5f8e26"/><path d="M885.71 549.2L889.11 555.2L882.31 555.2Z" fill="#5f8e26"/><path d="M902.4 549.2L905.8 555.2L899 555.2Z" fill="#5f8e26"/><path d="M919.08 549.2L922.48 555.2L915.68 555.2Z" fill="#5f8e26"/><path d="M935.76 549.2L939.16 555.2L932.36 555.2Z" fill="#5f8e26"/><path d="M952.45 549.2L955.85 555.2L949.05 555.2Z" fill="#5f8e26"/><path d="M969.13 549.2L972.53 555.2L965.73 555.2Z" fill="#5f8e26"/><path d="M985.82 530.88L989.22 536.88L982.42 536.88Z" fill="#5f8e26"/><path d="M1002.5 530.88L1005.9 536.88L999.1 536.88Z" fill="#5f8e26"/><rect x="582.6" y="550.1" width="5.6" height="5.6" fill="#7182d0"/><rect x="599.28" y="550.1" width="5.6" height="5.6" fill="#7182d0"/><rect x="615.97" y="550.1" width="5.6" height="5.6" fill="#7182d0"/><rect x="632.65" y="550.1" width="5.6" height="5.6" fill="#7182d0"/><rect x="649.34" y="550.1" width="5.6" height="5.6" fill="#7182d0"/><rect x="666.02" y="550.1" width="5.6" height="5.6" fill="#7182d0"/><rect x="682.7" y="550.1" width="5.6" height="5.6" fill="#7182d0"/><rect x="699.39" y="550.1" width="5.6" height="5.6" fill="#7182d0"/><rect x="716.07" y="550.1" width="5.6" height="5.6" fill="#1f9fae"/><rect x="732.76" y="550.1" width="5.6" height="5.6" fill="#1f9fae"/><rect x="749.44" y="550.1" width="5.6" height="5.6" fill="#1f9fae"/><rect x="766.12" y="531.78" width="5.6" height="5.6" fill="#1f9fae"/><rect x="782.81" y="531.78" width="5.6" height="5.6" fill="#1f9fae"/><rect x="799.49" y="495.14" width="5.6" height="5.6" fill="#1f9fae"/><rect x="816.18" y="495.14" width="5.6" height="5.6" fill="#1f9fae"/><rect x="832.86" y="440.18" width="5.6" height="5.6" fill="#1f9fae"/><rect x="849.54" y="385.22" width="5.6" height="5.6" fill="#1f9fae"/><rect x="866.23" y="366.9" width="5.6" height="5.6" fill="#1f9fae"/><rect x="882.91" y="366.9" width="5.6" height="5.6" fill="#1f9fae"/><rect x="899.6" y="348.58" width="5.6" height="5.6" fill="#1f9fae"/><rect x="916.28" y="348.58" width="5.6" height="5.6" fill="#1f9fae"/><rect x="932.96" y="348.58" width="5.6" height="5.6" fill="#1f9fae"/><rect x="949.65" y="348.58" width="5.6" height="5.6" fill="#1f9fae"/><rect x="966.33" y="348.58" width="5.6" height="5.6" fill="#1f9fae"/><rect x="983.02" y="348.58" width="5.6" height="5.6" fill="#1f9fae"/><rect x="999.7" y="348.58" width="5.6" height="5.6" fill="#1f9fae"/><path d="M581.2 552.9H589.6M585.4 548.6V557.2" stroke="#6676c4" stroke-width="1.4" fill="none"/><path d="M597.88 552.9H606.28M602.08 548.6V557.2" stroke="#6676c4" stroke-width="1.4" fill="none"/><path d="M614.57 552.9H622.97M618.77 548.6V557.2" stroke="#6676c4" stroke-width="1.4" fill="none"/><path d="M631.25 552.9H639.65M635.45 548.6V557.2" stroke="#6676c4" stroke-width="1.4" fill="none"/><path d="M647.94 552.9H656.34M652.14 548.6V557.2" stroke="#6676c4" stroke-width="1.4" fill="none"/><path d="M664.62 552.9H673.02M668.82 548.6V557.2" stroke="#6676c4" stroke-width="1.4" fill="none"/><path d="M681.3 552.9H689.7M685.5 548.6V557.2" stroke="#6676c4" stroke-width="1.4" fill="none"/><path d="M697.99 552.9H706.39M702.19 548.6V557.2" stroke="#6676c4" stroke-width="1.4" fill="none"/><path d="M714.67 534.58H723.07M718.87 530.28V538.88" stroke="#a57bd6" stroke-width="1.4" fill="none"/><path d="M731.36 497.94H739.76M735.56 493.64V502.24" stroke="#a57bd6" stroke-width="1.4" fill="none"/><path d="M748.04 442.98H756.44M752.24 438.68V447.28" stroke="#a57bd6" stroke-width="1.4" fill="none"/><path d="M764.72 406.34H773.12M768.92 402.04V410.64" stroke="#a57bd6" stroke-width="1.4" fill="none"/><path d="M781.41 369.7H789.81M785.61 365.4V374" stroke="#a57bd6" stroke-width="1.4" fill="none"/><path d="M798.09 369.7H806.49M802.29 365.4V374" stroke="#a57bd6" stroke-width="1.4" fill="none"/><path d="M814.78 333.06H823.18M818.98 328.76V337.36" stroke="#a57bd6" stroke-width="1.4" fill="none"/><path d="M831.46 333.06H839.86M835.66 328.76V337.36" stroke="#a57bd6" stroke-width="1.4" fill="none"/><path d="M848.14 333.06H856.54M852.34 328.76V337.36" stroke="#a57bd6" stroke-width="1.4" fill="none"/><path d="M864.83 333.06H873.23M869.03 328.76V337.36" stroke="#a57bd6" stroke-width="1.4" fill="none"/><path d="M881.51 333.06H889.91M885.71 328.76V337.36" stroke="#a57bd6" stroke-width="1.4" fill="none"/><path d="M898.2 333.06H906.6M902.4 328.76V337.36" stroke="#a57bd6" stroke-width="1.4" fill="none"/><path d="M914.88 333.06H923.28M919.08 328.76V337.36" stroke="#a57bd6" stroke-width="1.4" fill="none"/><path d="M931.56 333.06H939.96M935.76 328.76V337.36" stroke="#a57bd6" stroke-width="1.4" fill="none"/><path d="M948.25 333.06H956.65M952.45 328.76V337.36" stroke="#a57bd6" stroke-width="1.4" fill="none"/><path d="M964.93 333.06H973.33M969.13 328.76V337.36" stroke="#a57bd6" stroke-width="1.4" fill="none"/><path d="M981.62 333.06H990.02M985.82 328.76V337.36" stroke="#a57bd6" stroke-width="1.4" fill="none"/><path d="M998.3 333.06H1006.7M1002.5 328.76V337.36" stroke="#a57bd6" stroke-width="1.4" fill="none"/></g>
<g><rect x="58" y="632.8" width="434.35" height="240.2" fill="none" stroke="#666" stroke-width="1.3"/><path d="M67.25 873v4.6M83.87 873v4.6M100.5 873v4.6M117.12 873v4.6M133.75 873v4.6M150.37 873v4.6M166.99 873v4.6M183.62 873v4.6M200.24 873v4.6M216.87 873v4.6M233.49 873v4.6M250.11 873v4.6M266.74 873v4.6M283.36 873v4.6M299.99 873v4.6M316.61 873v4.6M333.23 873v4.6M349.86 873v4.6M366.48 873v4.6M383.11 873v4.6M399.73 873v4.6M416.35 873v4.6M432.98 873v4.6M449.6 873v4.6M466.23 873v4.6M482.85 873v4.6" stroke="#262626" stroke-width="1.6" fill="none"/><path d="M58 862.6h-4.6M58 811.58h-4.6M58 760.55h-4.6M58 709.53h-4.6M58 658.51h-4.6" stroke="#262626" stroke-width="1.6" fill="none"/><g font-family="Liberation Serif" font-size="14" fill="#000"><text x="67.25" y="891.8" text-anchor="middle">0</text><text x="150.37" y="891.8" text-anchor="middle">10</text><text x="233.49" y="891.8" text-anchor="middle">20</text><text x="316.61" y="891.8" text-anchor="middle">30</text><text x="399.73" y="891.8" text-anchor="middle">40</text><text x="482.85" y="891.8" text-anchor="middle">50</text><text x="49.6" y="867.4" text-anchor="end">0</text><text x="49.6" y="816.38" text-anchor="end">10</text><text x="49.6" y="765.35" text-anchor="end">20</text><text x="49.6" y="714.33" text-anchor="end">30</text><text x="49.6" y="663.31" text-anchor="end">40</text></g><text x="239.1" y="911.2" font-family="Liberation Serif" font-size="16" fill="#000">Time (days)</text><text transform="translate(25.3 747.5) rotate(-90)" text-anchor="middle" font-family="Liberation Serif" font-size="16" fill="#000">Germination (%)</text><text x="69" y="654.9" font-family="Liberation Serif" font-style="italic" font-size="16" fill="#000">Rumex scutatus</text><g transform="translate(70.6 660.3)"><g clip-path="url(#ph)"><g filter="url(#soft)"><rect width="82.5" height="82.2" fill="#6a9a4e"/><g filter="url(#b4)"><ellipse cx="10" cy="30" rx="12" ry="26" fill="#86b466"/><ellipse cx="8" cy="72" rx="16" ry="14" fill="#447236"/><ellipse cx="76" cy="40" rx="10" ry="30" fill="#5e9048"/><ellipse cx="68" cy="38" rx="6" ry="14" fill="#c8d4bc"/><ellipse cx="72" cy="74" rx="12" ry="10" fill="#4e7e3c"/><ellipse cx="26" cy="72" rx="6" ry="12" fill="#94b874"/><ellipse cx="20" cy="6" rx="10" ry="6" fill="#5a8a44"/></g><path d="M47.7 0 L61.3 82" stroke="#8cb866" stroke-width="3.2" filter="url(#b05)"/><path d="M37 72 L36 82" stroke="#8ab060" stroke-width="3"/><g filter="url(#b05)"><rect x="26" y="-1" width="18" height="6" rx="2" fill="#8e2a48"/><ellipse cx="36" cy="8" rx="7" ry="5" fill="#e0d8d8"/><path d="M19 28 C19 18 24 11 30 11 C36 10 44 11 48 18 C52 26 48 36 40 42 C34 45 26 42 22 37 C20 34 19 31 19 28Z" fill="#b44a72"/><path d="M27 20 C30 15 38 15 42 18 C46 22 45 30 40 34 C36 37 30 35 28 31 C26 27 26 23 27 20Z" fill="#c4d488"/><ellipse cx="35" cy="25" rx="4" ry="4.5" fill="#d4e090"/><path d="M24 53 C26 47 32 44 38 44 C46 44 53 47 54 54 C55 62 52 70 46 73 C40 75 32 72 28 66 C25 61 23 57 24 53Z" fill="#a03c58"/><path d="M40 48 C44 46 50 48 51 54 C52 60 49 65 45 65 C42 65 40 60 40 55Z" fill="#bccc78"/><circle cx="63" cy="12" r="5" fill="#c8949c"/><circle cx="60" cy="28" r="5" fill="#9a6c48"/><circle cx="56" cy="40" r="4.5" fill="#a8c078"/></g><g stroke="#d878a0" stroke-width="0.8" fill="none" opacity="0.6"><path d="M21 24 Q24 14 32 12 M26 62 Q28 50 38 46"/></g></g></g></g><rect x="69.6" y="747.4" width="46.2" height="84.1" fill="#fff" stroke="#6a6a6a" stroke-width="1.1"/><path d="M74.2 757.7h17" stroke="#d8787a" stroke-width="1.3"/><circle cx="82.7" cy="757.7" r="2.8" fill="#dc5f62"/><text x="97.6" y="763.7" font-family="Liberation Serif" font-size="16" fill="#000">A</text><path d="M74.2 778.7h17" stroke="#7a9548" stroke-width="1.3"/><path d="M82.7 775L86.1 781L79.3 781Z" fill="#5f8e26"/><text x="97.6" y="784.7" font-family="Liberation Serif" font-size="16" fill="#000">B</text><path d="M74.2 799.7h17" stroke="#4a9ea6" stroke-width="1.3"/><rect x="79.9" y="796.9" width="5.6" height="5.6" fill="#1f9fae"/><text x="97.6" y="805.7" font-family="Liberation Serif" font-size="16" fill="#000">C</text><path d="M74.2 820.7h17" stroke="#a086c8" stroke-width="1.3"/><path d="M78.5 820.7H86.9M82.7 816.4V825" stroke="#a57bd6" stroke-width="1.4" fill="none"/><text x="97.6" y="826.7" font-family="Liberation Serif" font-size="16" fill="#000">D</text><polyline points="67.25,862.6 83.87,862.6 100.5,862.6 117.12,857.5 133.75,857.5 150.37,857.5 166.99,857.5 183.62,857.5 200.24,857.5 216.87,857.5 233.49,857.5 250.11,852.4 266.74,852.4 283.36,852.4 299.99,852.4 316.61,852.4 333.23,852.4 349.86,852.4 366.48,847.29 383.11,847.29 399.73,847.29 416.35,847.29 432.98,847.29 449.6,842.19 466.23,842.19 482.85,842.19" fill="none" stroke="#d8787a" stroke-width="1.15" stroke-linejoin="round"/><polyline points="67.25,862.6 83.87,862.6 100.5,852.4 117.12,837.09 133.75,837.09 150.37,837.09 166.99,837.09 183.62,837.09 200.24,837.09 216.87,837.09 233.49,837.09 250.11,837.09 266.74,837.09 283.36,837.09 299.99,837.09 316.61,837.09 333.23,837.09 349.86,837.09 366.48,837.09 383.11,837.09 399.73,837.09 416.35,837.09 432.98,837.09 449.6,837.09 466.23,837.09 482.85,837.09" fill="none" stroke="#7a9548" stroke-width="1.15" stroke-linejoin="round"/><polyline points="67.25,862.6 83.87,862.6 100.5,857.5 117.12,847.29 133.75,847.29 150.37,842.19 166.99,811.58 183.62,801.37 200.24,796.27 216.87,780.96 233.49,765.66 250.11,760.55 266.74,760.55 283.36,760.55 299.99,745.25 316.61,735.04 333.23,729.94 349.86,719.73 366.48,699.33 383.11,694.22 399.73,684.02 416.35,678.92 432.98,663.61 449.6,653.4 466.23,643.2 482.85,643.2" fill="none" stroke="#4a9ea6" stroke-width="1.15" stroke-linejoin="round"/><polyline points="67.25,862.6 83.87,862.6 100.5,862.6 117.12,847.29 133.75,847.29 150.37,837.09 166.99,796.27 183.62,786.07 200.24,780.96 216.87,780.96 233.49,775.86 250.11,760.55 266.74,745.25 283.36,740.14 299.99,735.04 316.61,719.73 333.23,714.63 349.86,709.53 366.48,709.53 383.11,704.43 399.73,704.43 416.35,694.22 432.98,694.22 449.6,689.12 466.23,684.02 482.85,684.02" fill="none" stroke="#a086c8" stroke-width="1.15" stroke-linejoin="round"/><circle cx="67.25" cy="862.6" r="2.8" fill="#dc5f62"/><circle cx="83.87" cy="862.6" r="2.8" fill="#dc5f62"/><circle cx="100.5" cy="862.6" r="2.8" fill="#dc5f62"/><circle cx="117.12" cy="857.5" r="2.8" fill="#dc5f62"/><circle cx="133.75" cy="857.5" r="2.8" fill="#dc5f62"/><circle cx="150.37" cy="857.5" r="2.8" fill="#dc5f62"/><circle cx="166.99" cy="857.5" r="2.8" fill="#dc5f62"/><circle cx="183.62" cy="857.5" r="2.8" fill="#dc5f62"/><circle cx="200.24" cy="857.5" r="2.8" fill="#dc5f62"/><circle cx="216.87" cy="857.5" r="2.8" fill="#dc5f62"/><circle cx="233.49" cy="857.5" r="2.8" fill="#dc5f62"/><circle cx="250.11" cy="852.4" r="2.8" fill="#dc5f62"/><circle cx="266.74" cy="852.4" r="2.8" fill="#dc5f62"/><circle cx="283.36" cy="852.4" r="2.8" fill="#dc5f62"/><circle cx="299.99" cy="852.4" r="2.8" fill="#dc5f62"/><circle cx="316.61" cy="852.4" r="2.8" fill="#dc5f62"/><circle cx="333.23" cy="852.4" r="2.8" fill="#dc5f62"/><circle cx="349.86" cy="852.4" r="2.8" fill="#dc5f62"/><circle cx="366.48" cy="847.29" r="2.8" fill="#dc5f62"/><circle cx="383.11" cy="847.29" r="2.8" fill="#dc5f62"/><circle cx="399.73" cy="847.29" r="2.8" fill="#dc5f62"/><circle cx="416.35" cy="847.29" r="2.8" fill="#dc5f62"/><circle cx="432.98" cy="847.29" r="2.8" fill="#dc5f62"/><circle cx="449.6" cy="842.19" r="2.8" fill="#dc5f62"/><circle cx="466.23" cy="842.19" r="2.8" fill="#dc5f62"/><circle cx="482.85" cy="842.19" r="2.8" fill="#dc5f62"/><path d="M67.25 858.9L70.65 864.9L63.85 864.9Z" fill="#5f8e26"/><path d="M83.87 858.9L87.27 864.9L80.47 864.9Z" fill="#5f8e26"/><path d="M100.5 848.7L103.9 854.7L97.1 854.7Z" fill="#5f8e26"/><path d="M117.12 833.39L120.52 839.39L113.72 839.39Z" fill="#5f8e26"/><path d="M133.75 833.39L137.15 839.39L130.35 839.39Z" fill="#5f8e26"/><path d="M150.37 833.39L153.77 839.39L146.97 839.39Z" fill="#5f8e26"/><path d="M166.99 833.39L170.39 839.39L163.59 839.39Z" fill="#5f8e26"/><path d="M183.62 833.39L187.02 839.39L180.22 839.39Z" fill="#5f8e26"/><path d="M200.24 833.39L203.64 839.39L196.84 839.39Z" fill="#5f8e26"/><path d="M216.87 833.39L220.27 839.39L213.47 839.39Z" fill="#5f8e26"/><path d="M233.49 833.39L236.89 839.39L230.09 839.39Z" fill="#5f8e26"/><path d="M250.11 833.39L253.51 839.39L246.71 839.39Z" fill="#5f8e26"/><path d="M266.74 833.39L270.14 839.39L263.34 839.39Z" fill="#5f8e26"/><path d="M283.36 833.39L286.76 839.39L279.96 839.39Z" fill="#5f8e26"/><path d="M299.99 833.39L303.39 839.39L296.59 839.39Z" fill="#5f8e26"/><path d="M316.61 833.39L320.01 839.39L313.21 839.39Z" fill="#5f8e26"/><path d="M333.23 833.39L336.63 839.39L329.83 839.39Z" fill="#5f8e26"/><path d="M349.86 833.39L353.26 839.39L346.46 839.39Z" fill="#5f8e26"/><path d="M366.48 833.39L369.88 839.39L363.08 839.39Z" fill="#5f8e26"/><path d="M383.11 833.39L386.51 839.39L379.71 839.39Z" fill="#5f8e26"/><path d="M399.73 833.39L403.13 839.39L396.33 839.39Z" fill="#5f8e26"/><path d="M416.35 833.39L419.75 839.39L412.95 839.39Z" fill="#5f8e26"/><path d="M432.98 833.39L436.38 839.39L429.58 839.39Z" fill="#5f8e26"/><path d="M449.6 833.39L453 839.39L446.2 839.39Z" fill="#5f8e26"/><path d="M466.23 833.39L469.63 839.39L462.83 839.39Z" fill="#5f8e26"/><path d="M482.85 833.39L486.25 839.39L479.45 839.39Z" fill="#5f8e26"/><rect x="64.45" y="859.8" width="5.6" height="5.6" fill="#7182d0"/><rect x="81.07" y="859.8" width="5.6" height="5.6" fill="#7182d0"/><rect x="97.7" y="854.7" width="5.6" height="5.6" fill="#1f9fae"/><rect x="114.32" y="844.49" width="5.6" height="5.6" fill="#7182d0"/><rect x="130.95" y="844.49" width="5.6" height="5.6" fill="#7182d0"/><rect x="147.57" y="839.39" width="5.6" height="5.6" fill="#1f9fae"/><rect x="164.19" y="808.78" width="5.6" height="5.6" fill="#1f9fae"/><rect x="180.82" y="798.57" width="5.6" height="5.6" fill="#1f9fae"/><rect x="197.44" y="793.47" width="5.6" height="5.6" fill="#1f9fae"/><rect x="214.07" y="778.16" width="5.6" height="5.6" fill="#7182d0"/><rect x="230.69" y="762.86" width="5.6" height="5.6" fill="#1f9fae"/><rect x="247.31" y="757.75" width="5.6" height="5.6" fill="#7182d0"/><rect x="263.94" y="757.75" width="5.6" height="5.6" fill="#1f9fae"/><rect x="280.56" y="757.75" width="5.6" height="5.6" fill="#1f9fae"/><rect x="297.19" y="742.45" width="5.6" height="5.6" fill="#1f9fae"/><rect x="313.81" y="732.24" width="5.6" height="5.6" fill="#1f9fae"/><rect x="330.43" y="727.14" width="5.6" height="5.6" fill="#1f9fae"/><rect x="347.06" y="716.93" width="5.6" height="5.6" fill="#1f9fae"/><rect x="363.68" y="696.53" width="5.6" height="5.6" fill="#1f9fae"/><rect x="380.31" y="691.42" width="5.6" height="5.6" fill="#1f9fae"/><rect x="396.93" y="681.22" width="5.6" height="5.6" fill="#1f9fae"/><rect x="413.55" y="676.12" width="5.6" height="5.6" fill="#1f9fae"/><rect x="430.18" y="660.81" width="5.6" height="5.6" fill="#1f9fae"/><rect x="446.8" y="650.6" width="5.6" height="5.6" fill="#1f9fae"/><rect x="463.43" y="640.4" width="5.6" height="5.6" fill="#1f9fae"/><rect x="480.05" y="640.4" width="5.6" height="5.6" fill="#1f9fae"/><path d="M63.05 862.6H71.45M67.25 858.3V866.9" stroke="#6676c4" stroke-width="1.4" fill="none"/><path d="M79.67 862.6H88.07M83.87 858.3V866.9" stroke="#6676c4" stroke-width="1.4" fill="none"/><path d="M96.3 862.6H104.7M100.5 858.3V866.9" stroke="#a57bd6" stroke-width="1.4" fill="none"/><path d="M112.92 847.29H121.32M117.12 842.99V851.59" stroke="#6676c4" stroke-width="1.4" fill="none"/><path d="M129.55 847.29H137.95M133.75 842.99V851.59" stroke="#6676c4" stroke-width="1.4" fill="none"/><path d="M146.17 837.09H154.57M150.37 832.79V841.39" stroke="#a57bd6" stroke-width="1.4" fill="none"/><path d="M162.79 796.27H171.19M166.99 791.97V800.57" stroke="#a57bd6" stroke-width="1.4" fill="none"/><path d="M179.42 786.07H187.82M183.62 781.77V790.37" stroke="#a57bd6" stroke-width="1.4" fill="none"/><path d="M196.04 780.96H204.44M200.24 776.66V785.26" stroke="#a57bd6" stroke-width="1.4" fill="none"/><path d="M212.67 780.96H221.07M216.87 776.66V785.26" stroke="#6676c4" stroke-width="1.4" fill="none"/><path d="M229.29 775.86H237.69M233.49 771.56V780.16" stroke="#a57bd6" stroke-width="1.4" fill="none"/><path d="M245.91 760.55H254.31M250.11 756.25V764.85" stroke="#6676c4" stroke-width="1.4" fill="none"/><path d="M262.54 745.25H270.94M266.74 740.95V749.55" stroke="#a57bd6" stroke-width="1.4" fill="none"/><path d="M279.16 740.14H287.56M283.36 735.84V744.44" stroke="#a57bd6" stroke-width="1.4" fill="none"/><path d="M295.79 735.04H304.19M299.99 730.74V739.34" stroke="#a57bd6" stroke-width="1.4" fill="none"/><path d="M312.41 719.73H320.81M316.61 715.43V724.03" stroke="#a57bd6" stroke-width="1.4" fill="none"/><path d="M329.03 714.63H337.43M333.23 710.33V718.93" stroke="#a57bd6" stroke-width="1.4" fill="none"/><path d="M345.66 709.53H354.06M349.86 705.23V713.83" stroke="#a57bd6" stroke-width="1.4" fill="none"/><path d="M362.28 709.53H370.68M366.48 705.23V713.83" stroke="#a57bd6" stroke-width="1.4" fill="none"/><path d="M378.91 704.43H387.31M383.11 700.13V708.73" stroke="#a57bd6" stroke-width="1.4" fill="none"/><path d="M395.53 704.43H403.93M399.73 700.13V708.73" stroke="#a57bd6" stroke-width="1.4" fill="none"/><path d="M412.15 694.22H420.55M416.35 689.92V698.52" stroke="#a57bd6" stroke-width="1.4" fill="none"/><path d="M428.78 694.22H437.18M432.98 689.92V698.52" stroke="#a57bd6" stroke-width="1.4" fill="none"/><path d="M445.4 689.12H453.8M449.6 684.82V693.42" stroke="#a57bd6" stroke-width="1.4" fill="none"/><path d="M462.03 684.02H470.43M466.23 679.72V688.32" stroke="#a57bd6" stroke-width="1.4" fill="none"/><path d="M478.65 684.02H487.05M482.85 679.72V688.32" stroke="#a57bd6" stroke-width="1.4" fill="none"/></g>
<g><rect x="576.7" y="632.8" width="434.35" height="240.2" fill="none" stroke="#666" stroke-width="1.3"/><path d="M586 873v4.6M602.62 873v4.6M619.23 873v4.6M635.85 873v4.6M652.46 873v4.6M669.08 873v4.6M685.7 873v4.6M702.31 873v4.6M718.93 873v4.6M735.54 873v4.6M752.16 873v4.6M768.78 873v4.6M785.39 873v4.6M802.01 873v4.6M818.62 873v4.6M835.24 873v4.6M851.86 873v4.6M868.47 873v4.6M885.09 873v4.6M901.7 873v4.6M918.32 873v4.6M934.94 873v4.6M951.55 873v4.6M968.17 873v4.6M984.78 873v4.6M1001.4 873v4.6" stroke="#262626" stroke-width="1.6" fill="none"/><path d="M576.7 862.6h-4.6M576.7 796.1h-4.6M576.7 729.6h-4.6M576.7 663.1h-4.6" stroke="#262626" stroke-width="1.6" fill="none"/><g font-family="Liberation Serif" font-size="14" fill="#000"><text x="586" y="891.8" text-anchor="middle">0</text><text x="669.08" y="891.8" text-anchor="middle">10</text><text x="752.16" y="891.8" text-anchor="middle">20</text><text x="835.24" y="891.8" text-anchor="middle">30</text><text x="918.32" y="891.8" text-anchor="middle">40</text><text x="1001.4" y="891.8" text-anchor="middle">50</text><text x="568.3" y="867.4" text-anchor="end">0</text><text x="568.3" y="800.9" text-anchor="end">20</text><text x="568.3" y="734.4" text-anchor="end">40</text><text x="568.3" y="667.9" text-anchor="end">60</text></g><text x="757.3" y="911.2" font-family="Liberation Serif" font-size="16" fill="#000">Time (days)</text><text transform="translate(540.9 747.5) rotate(-90)" text-anchor="middle" font-family="Liberation Serif" font-size="16" fill="#000">Germination (%)</text><text x="588" y="654.9" font-family="Liberation Serif" font-style="italic" font-size="16" fill="#000">Tofieldia calyculata</text><g transform="translate(589.1 660.1)"><g clip-path="url(#ph)"><g filter="url(#soft)"><rect width="82.5" height="82.2" fill="#4e6a3c"/><g filter="url(#b4)"><rect x="0" y="-2" width="82.5" height="12" fill="#3e5634"/><ellipse cx="14" cy="38" rx="16" ry="22" fill="#5a8446"/><ellipse cx="72" cy="46" rx="12" ry="26" fill="#5e8c4a"/><ellipse cx="30" cy="72" rx="30" ry="12" fill="#40402e"/><ellipse cx="64" cy="78" rx="14" ry="8" fill="#4a5e38"/></g><ellipse cx="7" cy="20" rx="5" ry="4" fill="#98a898" filter="url(#b2)"/><path d="M43 58 L43 82" stroke="#96b444" stroke-width="3.4"/><g filter="url(#b05)"><path d="M40 10 C32 12 29 22 28 36 C27 50 28 58 33 62 C40 65 50 65 55 60 C58 52 57 40 54 28 C51 17 48 10 40 10Z" fill="#d6d64c"/><ellipse cx="42" cy="40" rx="9" ry="16" fill="#cccc3e" opacity="0.5"/></g><g><path d="M31.8 37.7L25.2 40.1" stroke="#f0f088" stroke-width="1.2" stroke-linecap="round"/><path d="M43.2 28.7L42.9 26.5" stroke="#c4c038" stroke-width="1.2" stroke-linecap="round"/><path d="M38.2 48L34.5 51.9" stroke="#e8ea6a" stroke-width="1.2" stroke-linecap="round"/><path d="M37.6 25.1L33.5 23.9" stroke="#c4c038" stroke-width="1.2" stroke-linecap="round"/><path d="M39.2 51.4L38.3 58.9" stroke="#f0f088" stroke-width="1.2" stroke-linecap="round"/><path d="M34.9 22L29 20.4" stroke="#dede58" stroke-width="1.2" stroke-linecap="round"/><path d="M41.4 54.1L42.7 58.3" stroke="#f0f088" stroke-width="1.2" stroke-linecap="round"/><path d="M31.9 39L28.5 41" stroke="#e8ea6a" stroke-width="1.2" stroke-linecap="round"/><path d="M36.3 42.2L34.2 46" stroke="#d4d444" stroke-width="1.2" stroke-linecap="round"/><path d="M49.4 47.7L51.4 52.3" stroke="#f0f088" stroke-width="1.2" stroke-linecap="round"/><path d="M33.3 44.9L30.4 47.9" stroke="#e8ea6a" stroke-width="1.2" stroke-linecap="round"/><path d="M48.7 31.2L53.3 32.5" stroke="#e8ea6a" stroke-width="1.2" stroke-linecap="round"/><path d="M49.7 32.6L53.1 32.2" stroke="#d4d444" stroke-width="1.2" stroke-linecap="round"/><path d="M47.1 15.9L51.6 9.4" stroke="#c4c038" stroke-width="1.2" stroke-linecap="round"/><path d="M47.7 42.2L49.7 45.5" stroke="#e8ea6a" stroke-width="1.2" stroke-linecap="round"/><path d="M34.6 23.3L30.3 22.5" stroke="#dede58" stroke-width="1.2" stroke-linecap="round"/><path d="M33.7 41.4L30.6 42.2" stroke="#d4d444" stroke-width="1.2" stroke-linecap="round"/><path d="M50 47.5L51.7 51.7" stroke="#d4d444" stroke-width="1.2" stroke-linecap="round"/><path d="M38 31.2L33.8 31.3" stroke="#f0f088" stroke-width="1.2" stroke-linecap="round"/><path d="M47.9 44.9L52.4 49" stroke="#c4c038" stroke-width="1.2" stroke-linecap="round"/><path d="M43.2 54.9L43.4 62.9" stroke="#dede58" stroke-width="1.2" stroke-linecap="round"/><path d="M43.9 15.5L47.9 10.3" stroke="#f0f088" stroke-width="1.2" stroke-linecap="round"/><path d="M42.4 18.7L43.7 14.6" stroke="#dede58" stroke-width="1.2" stroke-linecap="round"/><path d="M38.7 31L36 30.1" stroke="#f0f088" stroke-width="1.2" stroke-linecap="round"/><path d="M43.7 13.9L47.3 9.7" stroke="#c4c038" stroke-width="1.2" stroke-linecap="round"/><path d="M38.5 14.4L34.9 9.9" stroke="#dede58" stroke-width="1.2" stroke-linecap="round"/><path d="M34 20.4L28 17.8" stroke="#dede58" stroke-width="1.2" stroke-linecap="round"/><path d="M47.3 31.3L52.3 29.2" stroke="#e8ea6a" stroke-width="1.2" stroke-linecap="round"/><path d="M50.8 56.3L52.6 61.3" stroke="#c4c038" stroke-width="1.2" stroke-linecap="round"/><path d="M52.1 49.5L55.7 54" stroke="#dede58" stroke-width="1.2" stroke-linecap="round"/><path d="M34.8 38.9L30.9 39.6" stroke="#d4d444" stroke-width="1.2" stroke-linecap="round"/><path d="M39.3 56.4L40.6 64" stroke="#c4c038" stroke-width="1.2" stroke-linecap="round"/><path d="M50.7 28.4L54.9 25.6" stroke="#e8ea6a" stroke-width="1.2" stroke-linecap="round"/><path d="M33.7 30.1L28.3 30.3" stroke="#c4c038" stroke-width="1.2" stroke-linecap="round"/><path d="M40.7 45.7L38.8 50.1" stroke="#f0f088" stroke-width="1.2" stroke-linecap="round"/><path d="M44.6 54.8L46.1 60" stroke="#dede58" stroke-width="1.2" stroke-linecap="round"/><path d="M38.4 51.1L37.6 55.8" stroke="#dede58" stroke-width="1.2" stroke-linecap="round"/><path d="M35.7 25.1L33.9 22.5" stroke="#e8ea6a" stroke-width="1.2" stroke-linecap="round"/><path d="M36.1 28L32.5 28.3" stroke="#dede58" stroke-width="1.2" stroke-linecap="round"/><path d="M33.5 25.8L26.3 25" stroke="#dede58" stroke-width="1.2" stroke-linecap="round"/><path d="M51.6 34.6L57.4 32.1" stroke="#e8ea6a" stroke-width="1.2" stroke-linecap="round"/><path d="M33.6 42.7L27.8 46.6" stroke="#e8ea6a" stroke-width="1.2" stroke-linecap="round"/><path d="M40.5 47L40.6 50.9" stroke="#e8ea6a" stroke-width="1.2" stroke-linecap="round"/><path d="M53.5 48.8L61.1 53.2" stroke="#d4d444" stroke-width="1.2" stroke-linecap="round"/><path d="M46.9 28.7L51.3 29.1" stroke="#dede58" stroke-width="1.2" stroke-linecap="round"/><path d="M42.8 25.2L45.6 21.7" stroke="#e8ea6a" stroke-width="1.2" stroke-linecap="round"/><path d="M36 31.5L33.3 31" stroke="#dede58" stroke-width="1.2" stroke-linecap="round"/><path d="M32 38.6L28 41.5" stroke="#d4d444" stroke-width="1.2" stroke-linecap="round"/><path d="M39.7 45.8L39.5 49.7" stroke="#e8ea6a" stroke-width="1.2" stroke-linecap="round"/><path d="M35.5 34.8L31.2 36.5" stroke="#e8ea6a" stroke-width="1.2" stroke-linecap="round"/><path d="M49 44.6L51.7 49.5" stroke="#d4d444" stroke-width="1.2" stroke-linecap="round"/><path d="M36.9 53.1L35 57.8" stroke="#f0f088" stroke-width="1.2" stroke-linecap="round"/><path d="M36 31.9L33.7 31.2" stroke="#c4c038" stroke-width="1.2" stroke-linecap="round"/><path d="M34.7 38.7L31.7 41.5" stroke="#e8ea6a" stroke-width="1.2" stroke-linecap="round"/><path d="M49.9 53L53.5 56.7" stroke="#f0f088" stroke-width="1.2" stroke-linecap="round"/><path d="M32.1 39.2L25.2 39.7" stroke="#e8ea6a" stroke-width="1.2" stroke-linecap="round"/><path d="M31.2 38.8L24 39.5" stroke="#f0f088" stroke-width="1.2" stroke-linecap="round"/><path d="M43.4 28.9L44.3 27.8" stroke="#d4d444" stroke-width="1.2" stroke-linecap="round"/><path d="M40.3 50.7L38.1 54.8" stroke="#d4d444" stroke-width="1.2" stroke-linecap="round"/><path d="M44.5 56.2L45.9 62.4" stroke="#f0f088" stroke-width="1.2" stroke-linecap="round"/><path d="M40.1 16.1L37 12.9" stroke="#dede58" stroke-width="1.2" stroke-linecap="round"/><path d="M49 22.1L53.1 19.9" stroke="#f0f088" stroke-width="1.2" stroke-linecap="round"/><path d="M29 45.5L23.3 50.4" stroke="#dede58" stroke-width="1.2" stroke-linecap="round"/><path d="M46.5 56.8L46.1 61.5" stroke="#d4d444" stroke-width="1.2" stroke-linecap="round"/><path d="M34.1 49.2L29.2 51.8" stroke="#dede58" stroke-width="1.2" stroke-linecap="round"/><path d="M34.5 38.6L28.4 37.8" stroke="#e8ea6a" stroke-width="1.2" stroke-linecap="round"/><path d="M42.7 25.6L43.2 21.5" stroke="#f0f088" stroke-width="1.2" stroke-linecap="round"/><path d="M36.4 45.9L33.6 47.7" stroke="#c4c038" stroke-width="1.2" stroke-linecap="round"/><path d="M43.7 13.7L42.9 11.1" stroke="#e8ea6a" stroke-width="1.2" stroke-linecap="round"/><path d="M52.4 26L55.9 23.8" stroke="#d4d444" stroke-width="1.2" stroke-linecap="round"/><path d="M30 45.7L25.1 47.3" stroke="#d4d444" stroke-width="1.2" stroke-linecap="round"/><path d="M33 43.9L29.1 48.8" stroke="#f0f088" stroke-width="1.2" stroke-linecap="round"/><path d="M42 55.8L42.9 60.8" stroke="#d4d444" stroke-width="1.2" stroke-linecap="round"/><path d="M40.1 16.1L40.4 12.6" stroke="#f0f088" stroke-width="1.2" stroke-linecap="round"/><path d="M35.5 22.7L33.4 20.5" stroke="#dede58" stroke-width="1.2" stroke-linecap="round"/><path d="M42.4 45.3L43 51" stroke="#e8ea6a" stroke-width="1.2" stroke-linecap="round"/><path d="M50.6 34.2L56.3 35.9" stroke="#dede58" stroke-width="1.2" stroke-linecap="round"/><path d="M37.4 18.8L36.7 15" stroke="#d4d444" stroke-width="1.2" stroke-linecap="round"/><path d="M46.5 40L49.7 41.3" stroke="#e8ea6a" stroke-width="1.2" stroke-linecap="round"/><path d="M45.3 14.5L46.9 10.2" stroke="#c4c038" stroke-width="1.2" stroke-linecap="round"/><path d="M46.9 18L49 11.9" stroke="#d4d444" stroke-width="1.2" stroke-linecap="round"/><path d="M36.6 24.5L33.3 23.1" stroke="#c4c038" stroke-width="1.2" stroke-linecap="round"/><path d="M47.1 35.3L49.9 36.4" stroke="#c4c038" stroke-width="1.2" stroke-linecap="round"/><path d="M44.6 18.2L47.3 13.7" stroke="#dede58" stroke-width="1.2" stroke-linecap="round"/><path d="M35.7 31.3L30.6 31.8" stroke="#dede58" stroke-width="1.2" stroke-linecap="round"/><path d="M40 44.7L38.4 47.9" stroke="#c4c038" stroke-width="1.2" stroke-linecap="round"/><path d="M31.2 36.8L26.5 35.6" stroke="#f0f088" stroke-width="1.2" stroke-linecap="round"/><path d="M50.3 30.2L53.3 29.4" stroke="#dede58" stroke-width="1.2" stroke-linecap="round"/><path d="M31.3 32.3L26.8 30.9" stroke="#dede58" stroke-width="1.2" stroke-linecap="round"/><path d="M48.1 17.8L51.9 13.5" stroke="#dede58" stroke-width="1.2" stroke-linecap="round"/><path d="M32.4 38.7L29.5 40.9" stroke="#d4d444" stroke-width="1.2" stroke-linecap="round"/><path d="M36.5 60.1L37 64.8" stroke="#dede58" stroke-width="1.2" stroke-linecap="round"/><path d="M37.8 59.4L36.4 63.7" stroke="#f0f088" stroke-width="1.2" stroke-linecap="round"/><path d="M32 37.4L28.2 38.7" stroke="#e8ea6a" stroke-width="1.2" stroke-linecap="round"/><path d="M46.1 52.4L48.6 56.8" stroke="#d4d444" stroke-width="1.2" stroke-linecap="round"/><path d="M44.1 19.8L46.6 17" stroke="#c4c038" stroke-width="1.2" stroke-linecap="round"/><path d="M46.3 38.5L48.4 40.3" stroke="#d4d444" stroke-width="1.2" stroke-linecap="round"/><path d="M31 35.6L24.7 34.1" stroke="#e8ea6a" stroke-width="1.2" stroke-linecap="round"/><path d="M40.4 50.6L37.3 56.4" stroke="#c4c038" stroke-width="1.2" stroke-linecap="round"/><path d="M50.5 21.7L53.9 19.2" stroke="#d4d444" stroke-width="1.2" stroke-linecap="round"/><path d="M28.7 41.8L24.8 42.1" stroke="#e8ea6a" stroke-width="1.2" stroke-linecap="round"/><path d="M49.4 48L52 54" stroke="#e8ea6a" stroke-width="1.2" stroke-linecap="round"/><path d="M43.6 53.8L46.2 59.2" stroke="#dede58" stroke-width="1.2" stroke-linecap="round"/><path d="M36.8 42.5L34.1 46.4" stroke="#d4d444" stroke-width="1.2" stroke-linecap="round"/><path d="M46.3 41.4L48.3 45.1" stroke="#c4c038" stroke-width="1.2" stroke-linecap="round"/><path d="M44.5 21.3L48.1 17.3" stroke="#c4c038" stroke-width="1.2" stroke-linecap="round"/><path d="M43.3 26L43.4 21.3" stroke="#c4c038" stroke-width="1.2" stroke-linecap="round"/><path d="M44.3 59.2L46.1 65.4" stroke="#d4d444" stroke-width="1.2" stroke-linecap="round"/><path d="M51.8 56.2L52.6 61.2" stroke="#f0f088" stroke-width="1.2" stroke-linecap="round"/><path d="M33.2 49.8L29.4 52" stroke="#e8ea6a" stroke-width="1.2" stroke-linecap="round"/><path d="M47.9 44.4L53 47.3" stroke="#c4c038" stroke-width="1.2" stroke-linecap="round"/><path d="M36.7 16.6L31.5 14.4" stroke="#c4c038" stroke-width="1.2" stroke-linecap="round"/><path d="M40.3 15.4L36.9 9.9" stroke="#dede58" stroke-width="1.2" stroke-linecap="round"/><path d="M42.7 14.2L42.3 10.2" stroke="#c4c038" stroke-width="1.2" stroke-linecap="round"/><path d="M42.5 56.5L44.6 61.5" stroke="#e8ea6a" stroke-width="1.2" stroke-linecap="round"/><path d="M43.2 28L44.9 25.7" stroke="#e8ea6a" stroke-width="1.2" stroke-linecap="round"/><path d="M41.3 56.4L38.4 64" stroke="#c4c038" stroke-width="1.2" stroke-linecap="round"/><path d="M53.1 36.3L60.3 36.8" stroke="#c4c038" stroke-width="1.2" stroke-linecap="round"/><path d="M44.6 53.3L47.6 60.4" stroke="#f0f088" stroke-width="1.2" stroke-linecap="round"/><path d="M49.5 42.2L53.1 45" stroke="#d4d444" stroke-width="1.2" stroke-linecap="round"/><path d="M52.1 35.1L55.3 34.5" stroke="#e8ea6a" stroke-width="1.2" stroke-linecap="round"/><path d="M39.9 17.7L38 13.2" stroke="#dede58" stroke-width="1.2" stroke-linecap="round"/><path d="M32.4 36L26.6 35.5" stroke="#dede58" stroke-width="1.2" stroke-linecap="round"/><path d="M43.1 52.4L45.6 58.8" stroke="#f0f088" stroke-width="1.2" stroke-linecap="round"/><path d="M37.2 54.1L36.5 60.5" stroke="#e8ea6a" stroke-width="1.2" stroke-linecap="round"/><path d="M48.3 42.1L51.2 45.8" stroke="#c4c038" stroke-width="1.2" stroke-linecap="round"/><path d="M46.5 37.6L49.9 38.6" stroke="#f0f088" stroke-width="1.2" stroke-linecap="round"/><path d="M34.3 33.4L31.3 35" stroke="#d4d444" stroke-width="1.2" stroke-linecap="round"/><path d="M48.7 36.9L52.6 36.1" stroke="#e8ea6a" stroke-width="1.2" stroke-linecap="round"/><path d="M31.2 38.5L24.8 37.6" stroke="#e8ea6a" stroke-width="1.2" stroke-linecap="round"/><path d="M48.6 42.4L51.8 44.1" stroke="#f0f088" stroke-width="1.2" stroke-linecap="round"/><path d="M43.8 27L44 22.9" stroke="#e8ea6a" stroke-width="1.2" stroke-linecap="round"/><path d="M52.4 43.8L57.3 47.4" stroke="#e8ea6a" stroke-width="1.2" stroke-linecap="round"/><path d="M52 32.9L57.4 32.2" stroke="#f0f088" stroke-width="1.2" stroke-linecap="round"/><path d="M45.5 42.5L48.2 46.9" stroke="#c4c038" stroke-width="1.2" stroke-linecap="round"/><path d="M38.9 20.8L38 18.6" stroke="#c4c038" stroke-width="1.2" stroke-linecap="round"/><path d="M37.3 49.2L36 54.7" stroke="#dede58" stroke-width="1.2" stroke-linecap="round"/><path d="M45.2 24.1L46.4 22" stroke="#e8ea6a" stroke-width="1.2" stroke-linecap="round"/><path d="M45.3 59.5L48 64.4" stroke="#e8ea6a" stroke-width="1.2" stroke-linecap="round"/><path d="M53.7 33.4L61.3 32.3" stroke="#e8ea6a" stroke-width="1.2" stroke-linecap="round"/><path d="M40.2 24.5L39.2 19.8" stroke="#dede58" stroke-width="1.2" stroke-linecap="round"/><path d="M53.1 48.8L56 53.5" stroke="#d4d444" stroke-width="1.2" stroke-linecap="round"/><path d="M40.2 24.8L38.6 20.5" stroke="#f0f088" stroke-width="1.2" stroke-linecap="round"/><path d="M52.4 44.7L57.1 49.3" stroke="#c4c038" stroke-width="1.2" stroke-linecap="round"/><path d="M51.5 52.5L55.4 54.6" stroke="#d4d444" stroke-width="1.2" stroke-linecap="round"/><path d="M53.9 50.1L57 53.1" stroke="#c4c038" stroke-width="1.2" stroke-linecap="round"/><path d="M46.8 26L50.6 23.6" stroke="#d4d444" stroke-width="1.2" stroke-linecap="round"/><path d="M36.2 20.4L34.4 16" stroke="#d4d444" stroke-width="1.2" stroke-linecap="round"/><path d="M38.9 47.4L38.6 53.9" stroke="#dede58" stroke-width="1.2" stroke-linecap="round"/><path d="M41.6 26.7L39.5 23.9" stroke="#d4d444" stroke-width="1.2" stroke-linecap="round"/><path d="M49.3 33.7L53.9 31.3" stroke="#c4c038" stroke-width="1.2" stroke-linecap="round"/><path d="M54.5 48.6L60.9 52.2" stroke="#d4d444" stroke-width="1.2" stroke-linecap="round"/><path d="M49.7 37.4L55.6 40.7" stroke="#e8ea6a" stroke-width="1.2" stroke-linecap="round"/><path d="M39.5 52.1L37.8 58.9" stroke="#d4d444" stroke-width="1.2" stroke-linecap="round"/><path d="M49.9 55.4L55.4 59.8" stroke="#f0f088" stroke-width="1.2" stroke-linecap="round"/><path d="M30.7 29.2L26.2 30.1" stroke="#dede58" stroke-width="1.2" stroke-linecap="round"/><path d="M53.1 34.7L58.7 34.2" stroke="#c4c038" stroke-width="1.2" stroke-linecap="round"/><path d="M51.9 28.1L58.4 26.2" stroke="#dede58" stroke-width="1.2" stroke-linecap="round"/><path d="M44.5 19.4L45.6 14.6" stroke="#e8ea6a" stroke-width="1.2" stroke-linecap="round"/><path d="M29.9 51.6L23.6 55" stroke="#e8ea6a" stroke-width="1.2" stroke-linecap="round"/><path d="M49.1 24.4L56.7 24.1" stroke="#e8ea6a" stroke-width="1.2" stroke-linecap="round"/><path d="M32.3 56.2L28.4 60.2" stroke="#c4c038" stroke-width="1.2" stroke-linecap="round"/><path d="M34.6 57.3L31.1 60.5" stroke="#e8ea6a" stroke-width="1.2" stroke-linecap="round"/><path d="M50.3 32.2L56.6 31.4" stroke="#dede58" stroke-width="1.2" stroke-linecap="round"/><path d="M45.2 17.1L47.4 15.2" stroke="#d4d444" stroke-width="1.2" stroke-linecap="round"/><path d="M37.5 16.9L37.2 11.7" stroke="#d4d444" stroke-width="1.2" stroke-linecap="round"/><path d="M45.7 15.6L47.2 13.2" stroke="#c4c038" stroke-width="1.2" stroke-linecap="round"/><path d="M30.3 42.5L23.2 44.9" stroke="#d4d444" stroke-width="1.2" stroke-linecap="round"/><path d="M40.7 22.2L40.4 20" stroke="#c4c038" stroke-width="1.2" stroke-linecap="round"/><path d="M38.5 16.6L35.9 14.4" stroke="#dede58" stroke-width="1.2" stroke-linecap="round"/><path d="M32.8 53.1L30.2 58.1" stroke="#dede58" stroke-width="1.2" stroke-linecap="round"/><path d="M37 18.2L31.8 14.7" stroke="#dede58" stroke-width="1.2" stroke-linecap="round"/><path d="M33.4 51.2L27.9 57" stroke="#dede58" stroke-width="1.2" stroke-linecap="round"/><path d="M37.5 31.2L33.3 31.6" stroke="#dede58" stroke-width="1.2" stroke-linecap="round"/><path d="M37.5 17.3L35.4 15.4" stroke="#f0f088" stroke-width="1.2" stroke-linecap="round"/><path d="M48.1 23.3L51.9 22.9" stroke="#c4c038" stroke-width="1.2" stroke-linecap="round"/><path d="M50.5 36.2L56.3 37.8" stroke="#dede58" stroke-width="1.2" stroke-linecap="round"/><path d="M44.3 49.9L47.4 55.3" stroke="#e8ea6a" stroke-width="1.2" stroke-linecap="round"/><path d="M42.5 28.1L43.9 24.7" stroke="#e8ea6a" stroke-width="1.2" stroke-linecap="round"/><path d="M49.8 28.8L55.3 27.3" stroke="#d4d444" stroke-width="1.2" stroke-linecap="round"/><path d="M45 14.7L46.5 10.9" stroke="#f0f088" stroke-width="1.2" stroke-linecap="round"/><path d="M45.1 32.2L48 32.6" stroke="#c4c038" stroke-width="1.2" stroke-linecap="round"/><path d="M34.9 34.8L32.1 34.7" stroke="#dede58" stroke-width="1.2" stroke-linecap="round"/><path d="M46.7 16L50.1 11.6" stroke="#dede58" stroke-width="1.2" stroke-linecap="round"/><path d="M38.5 47.3L37.9 51.3" stroke="#e8ea6a" stroke-width="1.2" stroke-linecap="round"/><path d="M36.5 19.5L31.7 16.8" stroke="#e8ea6a" stroke-width="1.2" stroke-linecap="round"/><path d="M43.9 20.6L44 17.8" stroke="#e8ea6a" stroke-width="1.2" stroke-linecap="round"/><path d="M52 38.7L57 37.5" stroke="#f0f088" stroke-width="1.2" stroke-linecap="round"/><path d="M42.1 23.2L43.8 19.1" stroke="#d4d444" stroke-width="1.2" stroke-linecap="round"/><path d="M45.6 61L48.4 65.8" stroke="#dede58" stroke-width="1.2" stroke-linecap="round"/><path d="M40.9 52.2L39.2 56.6" stroke="#c4c038" stroke-width="1.2" stroke-linecap="round"/><path d="M43.6 22.9L46.3 20.2" stroke="#e8ea6a" stroke-width="1.2" stroke-linecap="round"/><path d="M54.4 34.7L61.1 33.7" stroke="#dede58" stroke-width="1.2" stroke-linecap="round"/><path d="M30 42.4L22.2 43" stroke="#f0f088" stroke-width="1.2" stroke-linecap="round"/><path d="M47.4 38.7L51.3 41.8" stroke="#c4c038" stroke-width="1.2" stroke-linecap="round"/><path d="M30.1 35.3L24.1 32.7" stroke="#d4d444" stroke-width="1.2" stroke-linecap="round"/><path d="M50.1 31.6L53.6 29.9" stroke="#c4c038" stroke-width="1.2" stroke-linecap="round"/><path d="M33.5 30L29.4 26.3" stroke="#e8ea6a" stroke-width="1.2" stroke-linecap="round"/><path d="M54.5 42.1L62.6 43.2" stroke="#c4c038" stroke-width="1.2" stroke-linecap="round"/><path d="M42.5 57.4L45.8 65.2" stroke="#e8ea6a" stroke-width="1.2" stroke-linecap="round"/><path d="M44.6 16.4L45.5 13.1" stroke="#d4d444" stroke-width="1.2" stroke-linecap="round"/><path d="M31.4 38.3L27.6 38.9" stroke="#dede58" stroke-width="1.2" stroke-linecap="round"/><path d="M37.8 43.6L35.7 48" stroke="#f0f088" stroke-width="1.2" stroke-linecap="round"/><path d="M31.3 34.1L26.9 35" stroke="#f0f088" stroke-width="1.2" stroke-linecap="round"/><path d="M44.4 23.6L44.5 19.6" stroke="#dede58" stroke-width="1.2" stroke-linecap="round"/><path d="M30.3 32.8L26 31.1" stroke="#c4c038" stroke-width="1.2" stroke-linecap="round"/><path d="M54.7 44.7L61.1 51" stroke="#d4d444" stroke-width="1.2" stroke-linecap="round"/><path d="M36.7 17.4L35.2 14" stroke="#e8ea6a" stroke-width="1.2" stroke-linecap="round"/><path d="M48 38.3L52.9 40.8" stroke="#f0f088" stroke-width="1.2" stroke-linecap="round"/><path d="M39.9 53.5L37.6 60.8" stroke="#e8ea6a" stroke-width="1.2" stroke-linecap="round"/><path d="M47.9 44.9L50.4 48.9" stroke="#dede58" stroke-width="1.2" stroke-linecap="round"/><path d="M47.1 46.6L49.1 52.8" stroke="#c4c038" stroke-width="1.2" stroke-linecap="round"/><path d="M44.4 23.6L44.5 21.4" stroke="#c4c038" stroke-width="1.2" stroke-linecap="round"/><path d="M35.4 20.5L32.1 14.2" stroke="#dede58" stroke-width="1.2" stroke-linecap="round"/><path d="M44.9 30.2L47.1 28.8" stroke="#c4c038" stroke-width="1.2" stroke-linecap="round"/><path d="M40 19L37.3 15.2" stroke="#e8ea6a" stroke-width="1.2" stroke-linecap="round"/><path d="M31.2 40.1L26.8 43.9" stroke="#e8ea6a" stroke-width="1.2" stroke-linecap="round"/><path d="M47.6 37.5L50.3 39.4" stroke="#d4d444" stroke-width="1.2" stroke-linecap="round"/><path d="M30.8 45.3L25.1 47.2" stroke="#d4d444" stroke-width="1.2" stroke-linecap="round"/><path d="M53.3 46.9L61.2 48.8" stroke="#d4d444" stroke-width="1.2" stroke-linecap="round"/></g></g></g></g><rect x="588.4" y="747.3" width="46.2" height="84.1" fill="#fff" stroke="#6a6a6a" stroke-width="1.1"/><path d="M593 757.6h17" stroke="#d8787a" stroke-width="1.3"/><circle cx="601.5" cy="757.6" r="2.8" fill="#dc5f62"/><text x="616.4" y="763.6" font-family="Liberation Serif" font-size="16" fill="#000">A</text><path d="M593 778.6h17" stroke="#7a9548" stroke-width="1.3"/><path d="M601.5 774.9L604.9 780.9L598.1 780.9Z" fill="#5f8e26"/><text x="616.4" y="784.6" font-family="Liberation Serif" font-size="16" fill="#000">B</text><path d="M593 799.6h17" stroke="#4a9ea6" stroke-width="1.3"/><rect x="598.7" y="796.8" width="5.6" height="5.6" fill="#1f9fae"/><text x="616.4" y="805.6" font-family="Liberation Serif" font-size="16" fill="#000">C</text><path d="M593 820.6h17" stroke="#a086c8" stroke-width="1.3"/><path d="M597.3 820.6H605.7M601.5 816.3V824.9" stroke="#a57bd6" stroke-width="1.4" fill="none"/><text x="616.4" y="826.6" font-family="Liberation Serif" font-size="16" fill="#000">D</text><polyline points="586,862.6 602.62,862.6 619.23,862.6 635.85,862.6 652.46,862.6 669.08,862.6 685.7,862.6 702.31,862.6 718.93,862.6 735.54,862.6 752.16,862.6 768.78,862.6 785.39,862.6 802.01,862.6 818.62,862.6 835.24,862.6 851.86,862.6 868.47,862.6 885.09,862.6 901.7,862.6 918.32,862.6 934.94,862.6 951.55,862.6 968.17,862.6 984.78,859.27 1001.4,859.27" fill="none" stroke="#d8787a" stroke-width="1.15" stroke-linejoin="round"/><polyline points="586,862.6 602.62,862.6 619.23,862.6 635.85,862.6 652.46,862.6 669.08,862.6 685.7,862.6 702.31,862.6 718.93,862.6 735.54,862.6 752.16,859.27 768.78,859.27 785.39,859.27 802.01,859.27 818.62,859.27 835.24,859.27 851.86,859.27 868.47,859.27 885.09,859.27 901.7,859.27 918.32,859.27 934.94,859.27 951.55,859.27 968.17,859.27 984.78,859.27 1001.4,859.27" fill="none" stroke="#7a9548" stroke-width="1.15" stroke-linejoin="round"/><polyline points="586,862.6 602.62,862.6 619.23,862.6 635.85,862.6 652.46,862.6 669.08,862.6 685.7,862.6 702.31,862.6 718.93,862.6 735.54,862.6 752.16,855.95 768.78,799.43 785.39,766.18 802.01,749.55 818.62,716.3 835.24,699.68 851.86,696.35 868.47,689.7 885.09,679.73 901.7,673.08 918.32,663.1 934.94,663.1 951.55,663.1 968.17,649.8 984.78,643.15 1001.4,643.15" fill="none" stroke="#4a9ea6" stroke-width="1.15" stroke-linejoin="round"/><polyline points="586,862.6 602.62,862.6 619.23,862.6 635.85,862.6 652.46,862.6 669.08,862.6 685.7,862.6 702.31,862.6 718.93,862.6 735.54,855.95 752.16,845.98 768.78,839.33 785.39,806.08 802.01,796.1 818.62,779.48 835.24,756.2 851.86,746.23 868.47,736.25 885.09,729.6 901.7,722.95 918.32,716.3 934.94,712.98 951.55,709.65 968.17,706.33 984.78,706.33 1001.4,706.33" fill="none" stroke="#a086c8" stroke-width="1.15" stroke-linejoin="round"/><circle cx="586" cy="862.6" r="2.8" fill="#dc5f62"/><circle cx="602.62" cy="862.6" r="2.8" fill="#dc5f62"/><circle cx="619.23" cy="862.6" r="2.8" fill="#dc5f62"/><circle cx="635.85" cy="862.6" r="2.8" fill="#dc5f62"/><circle cx="652.46" cy="862.6" r="2.8" fill="#dc5f62"/><circle cx="669.08" cy="862.6" r="2.8" fill="#dc5f62"/><circle cx="685.7" cy="862.6" r="2.8" fill="#dc5f62"/><circle cx="702.31" cy="862.6" r="2.8" fill="#dc5f62"/><circle cx="718.93" cy="862.6" r="2.8" fill="#dc5f62"/><circle cx="735.54" cy="862.6" r="2.8" fill="#dc5f62"/><circle cx="752.16" cy="862.6" r="2.8" fill="#dc5f62"/><circle cx="768.78" cy="862.6" r="2.8" fill="#dc5f62"/><circle cx="785.39" cy="862.6" r="2.8" fill="#dc5f62"/><circle cx="802.01" cy="862.6" r="2.8" fill="#dc5f62"/><circle cx="818.62" cy="862.6" r="2.8" fill="#dc5f62"/><circle cx="835.24" cy="862.6" r="2.8" fill="#dc5f62"/><circle cx="851.86" cy="862.6" r="2.8" fill="#dc5f62"/><circle cx="868.47" cy="862.6" r="2.8" fill="#dc5f62"/><circle cx="885.09" cy="862.6" r="2.8" fill="#dc5f62"/><circle cx="901.7" cy="862.6" r="2.8" fill="#dc5f62"/><circle cx="918.32" cy="862.6" r="2.8" fill="#dc5f62"/><circle cx="934.94" cy="862.6" r="2.8" fill="#dc5f62"/><circle cx="951.55" cy="862.6" r="2.8" fill="#dc5f62"/><circle cx="968.17" cy="862.6" r="2.8" fill="#dc5f62"/><circle cx="984.78" cy="859.27" r="2.8" fill="#dc5f62"/><circle cx="1001.4" cy="859.27" r="2.8" fill="#dc5f62"/><path d="M586 858.9L589.4 864.9L582.6 864.9Z" fill="#5f8e26"/><path d="M602.62 858.9L606.02 864.9L599.22 864.9Z" fill="#5f8e26"/><path d="M619.23 858.9L622.63 864.9L615.83 864.9Z" fill="#5f8e26"/><path d="M635.85 858.9L639.25 864.9L632.45 864.9Z" fill="#5f8e26"/><path d="M652.46 858.9L655.86 864.9L649.06 864.9Z" fill="#5f8e26"/><path d="M669.08 858.9L672.48 864.9L665.68 864.9Z" fill="#5f8e26"/><path d="M685.7 858.9L689.1 864.9L682.3 864.9Z" fill="#5f8e26"/><path d="M702.31 858.9L705.71 864.9L698.91 864.9Z" fill="#5f8e26"/><path d="M718.93 858.9L722.33 864.9L715.53 864.9Z" fill="#5f8e26"/><path d="M735.54 858.9L738.94 864.9L732.14 864.9Z" fill="#5f8e26"/><path d="M752.16 855.57L755.56 861.57L748.76 861.57Z" fill="#5f8e26"/><path d="M768.78 855.57L772.18 861.57L765.38 861.57Z" fill="#5f8e26"/><path d="M785.39 855.57L788.79 861.57L781.99 861.57Z" fill="#5f8e26"/><path d="M802.01 855.57L805.41 861.57L798.61 861.57Z" fill="#5f8e26"/><path d="M818.62 855.57L822.02 861.57L815.22 861.57Z" fill="#5f8e26"/><path d="M835.24 855.57L838.64 861.57L831.84 861.57Z" fill="#5f8e26"/><path d="M851.86 855.57L855.26 861.57L848.46 861.57Z" fill="#5f8e26"/><path d="M868.47 855.57L871.87 861.57L865.07 861.57Z" fill="#5f8e26"/><path d="M885.09 855.57L888.49 861.57L881.69 861.57Z" fill="#5f8e26"/><path d="M901.7 855.57L905.1 861.57L898.3 861.57Z" fill="#5f8e26"/><path d="M918.32 855.57L921.72 861.57L914.92 861.57Z" fill="#5f8e26"/><path d="M934.94 855.57L938.34 861.57L931.54 861.57Z" fill="#5f8e26"/><path d="M951.55 855.57L954.95 861.57L948.15 861.57Z" fill="#5f8e26"/><path d="M968.17 855.57L971.57 861.57L964.77 861.57Z" fill="#5f8e26"/><path d="M984.78 855.57L988.18 861.57L981.38 861.57Z" fill="#5f8e26"/><path d="M1001.4 855.57L1004.8 861.57L998 861.57Z" fill="#5f8e26"/><rect x="583.2" y="859.8" width="5.6" height="5.6" fill="#7182d0"/><rect x="599.82" y="859.8" width="5.6" height="5.6" fill="#7182d0"/><rect x="616.43" y="859.8" width="5.6" height="5.6" fill="#7182d0"/><rect x="633.05" y="859.8" width="5.6" height="5.6" fill="#7182d0"/><rect x="649.66" y="859.8" width="5.6" height="5.6" fill="#7182d0"/><rect x="666.28" y="859.8" width="5.6" height="5.6" fill="#7182d0"/><rect x="682.9" y="859.8" width="5.6" height="5.6" fill="#7182d0"/><rect x="699.51" y="859.8" width="5.6" height="5.6" fill="#7182d0"/><rect x="716.13" y="859.8" width="5.6" height="5.6" fill="#7182d0"/><rect x="732.74" y="859.8" width="5.6" height="5.6" fill="#1f9fae"/><rect x="749.36" y="853.15" width="5.6" height="5.6" fill="#1f9fae"/><rect x="765.98" y="796.63" width="5.6" height="5.6" fill="#1f9fae"/><rect x="782.59" y="763.38" width="5.6" height="5.6" fill="#1f9fae"/><rect x="799.21" y="746.75" width="5.6" height="5.6" fill="#1f9fae"/><rect x="815.82" y="713.5" width="5.6" height="5.6" fill="#1f9fae"/><rect x="832.44" y="696.88" width="5.6" height="5.6" fill="#1f9fae"/><rect x="849.06" y="693.55" width="5.6" height="5.6" fill="#1f9fae"/><rect x="865.67" y="686.9" width="5.6" height="5.6" fill="#1f9fae"/><rect x="882.29" y="676.93" width="5.6" height="5.6" fill="#1f9fae"/><rect x="898.9" y="670.28" width="5.6" height="5.6" fill="#1f9fae"/><rect x="915.52" y="660.3" width="5.6" height="5.6" fill="#1f9fae"/><rect x="932.14" y="660.3" width="5.6" height="5.6" fill="#1f9fae"/><rect x="948.75" y="660.3" width="5.6" height="5.6" fill="#1f9fae"/><rect x="965.37" y="647" width="5.6" height="5.6" fill="#1f9fae"/><rect x="981.98" y="640.35" width="5.6" height="5.6" fill="#1f9fae"/><rect x="998.6" y="640.35" width="5.6" height="5.6" fill="#1f9fae"/><path d="M581.8 862.6H590.2M586 858.3V866.9" stroke="#6676c4" stroke-width="1.4" fill="none"/><path d="M598.42 862.6H606.82M602.62 858.3V866.9" stroke="#6676c4" stroke-width="1.4" fill="none"/><path d="M615.03 862.6H623.43M619.23 858.3V866.9" stroke="#6676c4" stroke-width="1.4" fill="none"/><path d="M631.65 862.6H640.05M635.85 858.3V866.9" stroke="#6676c4" stroke-width="1.4" fill="none"/><path d="M648.26 862.6H656.66M652.46 858.3V866.9" stroke="#6676c4" stroke-width="1.4" fill="none"/><path d="M664.88 862.6H673.28M669.08 858.3V866.9" stroke="#6676c4" stroke-width="1.4" fill="none"/><path d="M681.5 862.6H689.9M685.7 858.3V866.9" stroke="#6676c4" stroke-width="1.4" fill="none"/><path d="M698.11 862.6H706.51M702.31 858.3V866.9" stroke="#6676c4" stroke-width="1.4" fill="none"/><path d="M714.73 862.6H723.13M718.93 858.3V866.9" stroke="#6676c4" stroke-width="1.4" fill="none"/><path d="M731.34 855.95H739.74M735.54 851.65V860.25" stroke="#a57bd6" stroke-width="1.4" fill="none"/><path d="M747.96 845.98H756.36M752.16 841.68V850.27" stroke="#a57bd6" stroke-width="1.4" fill="none"/><path d="M764.58 839.33H772.98M768.78 835.03V843.62" stroke="#a57bd6" stroke-width="1.4" fill="none"/><path d="M781.19 806.08H789.59M785.39 801.78V810.38" stroke="#a57bd6" stroke-width="1.4" fill="none"/><path d="M797.81 796.1H806.21M802.01 791.8V800.4" stroke="#a57bd6" stroke-width="1.4" fill="none"/><path d="M814.42 779.48H822.82M818.62 775.18V783.77" stroke="#a57bd6" stroke-width="1.4" fill="none"/><path d="M831.04 756.2H839.44M835.24 751.9V760.5" stroke="#a57bd6" stroke-width="1.4" fill="none"/><path d="M847.66 746.23H856.06M851.86 741.93V750.52" stroke="#a57bd6" stroke-width="1.4" fill="none"/><path d="M864.27 736.25H872.67M868.47 731.95V740.55" stroke="#a57bd6" stroke-width="1.4" fill="none"/><path d="M880.89 729.6H889.29M885.09 725.3V733.9" stroke="#a57bd6" stroke-width="1.4" fill="none"/><path d="M897.5 722.95H905.9M901.7 718.65V727.25" stroke="#a57bd6" stroke-width="1.4" fill="none"/><path d="M914.12 716.3H922.52M918.32 712V720.6" stroke="#a57bd6" stroke-width="1.4" fill="none"/><path d="M930.74 712.98H939.14M934.94 708.68V717.27" stroke="#a57bd6" stroke-width="1.4" fill="none"/><path d="M947.35 709.65H955.75M951.55 705.35V713.95" stroke="#a57bd6" stroke-width="1.4" fill="none"/><path d="M963.97 706.33H972.37M968.17 702.03V710.62" stroke="#a57bd6" stroke-width="1.4" fill="none"/><path d="M980.58 706.33H988.98M984.78 702.03V710.62" stroke="#a57bd6" stroke-width="1.4" fill="none"/><path d="M997.2 706.33H1005.6M1001.4 702.03V710.62" stroke="#a57bd6" stroke-width="1.4" fill="none"/></g>
</svg>
</body></html>
